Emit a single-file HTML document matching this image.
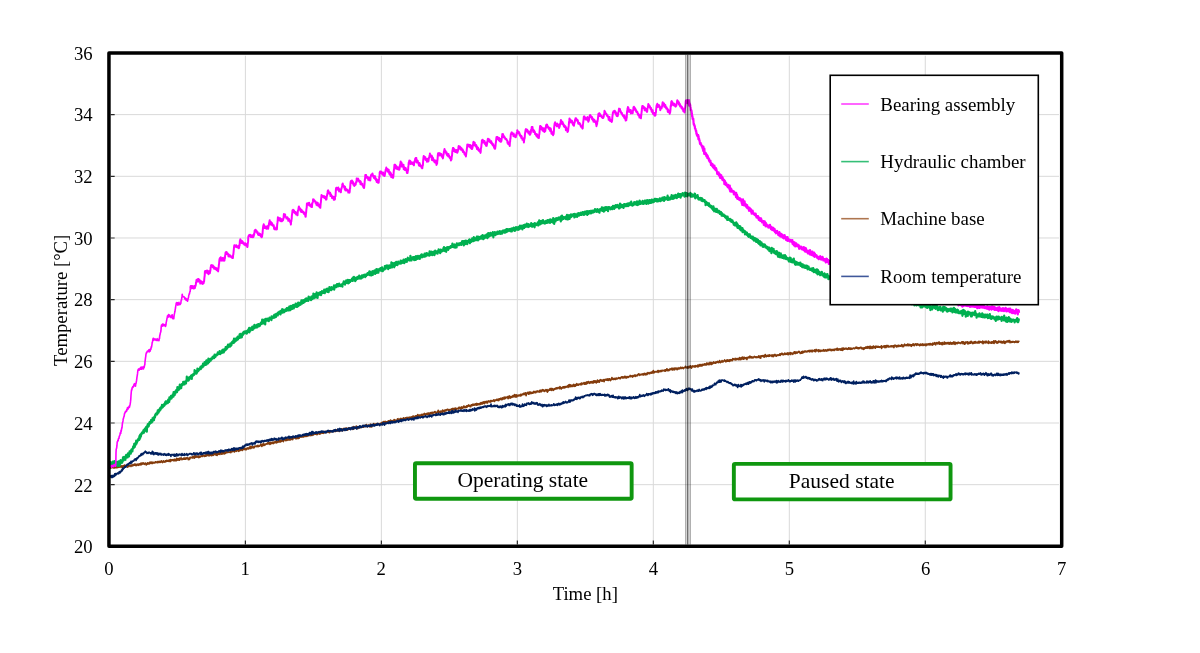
<!DOCTYPE html>
<html lang="en"><head><meta charset="utf-8"><title>Temperature vs time</title>
<style>html,body{margin:0;padding:0;background:#fff;}body{width:1200px;height:653px;overflow:hidden;font-family:'Liberation Serif','Times New Roman',serif;}svg text{font-kerning:normal}</style>
</head><body>
<svg width="1200" height="653" viewBox="0 0 1200 653" style="display:block;will-change:transform">
<rect x="0" y="0" width="1200" height="653" fill="#fff"/>
<path d="M114.7,484.68H1059.0M114.7,423.00H1059.0M114.7,361.33H1059.0M114.7,299.65H1059.0M114.7,237.98H1059.0M114.7,176.30H1059.0M114.7,114.62H1059.0M245.38,55.7V540.6M381.36,55.7V540.6M517.34,55.7V540.6M653.32,55.7V540.6M789.30,55.7V540.6M925.28,55.7V540.6" stroke="#d9d9d9" stroke-width="1.0" fill="none"/>
<path d="M110.7,484.68h4M110.7,423.00h4M110.7,361.33h4M110.7,299.65h4M110.7,237.98h4M110.7,176.30h4M110.7,114.62h4M245.38,544.6v-4M381.36,544.6v-4M517.34,544.6v-4M653.32,544.6v-4M789.30,544.6v-4M925.28,544.6v-4" stroke="#262626" stroke-width="1.2" fill="none"/>
<path d="M110.0,468.9 110.3,467.7 110.6,468.1 110.9,468.0 111.2,467.4 111.5,466.9 111.8,467.4 112.1,467.0 112.4,467.5 112.7,467.6 113.0,467.5 113.3,467.5 113.6,467.8 113.9,467.0 114.2,468.0 114.5,466.6 114.8,467.5 115.1,467.6 115.4,466.9 115.7,466.5 116.0,467.6 116.3,466.9 116.6,467.6 116.9,467.6 117.2,467.1 117.5,467.1 117.8,467.6 118.1,467.2 118.4,466.5 118.7,467.1 119.0,467.2 119.3,467.0 119.6,467.0 119.9,466.7 120.2,466.7 120.5,466.2 120.8,465.9 121.1,467.3 121.4,466.3 121.7,466.7 122.0,465.8 122.3,466.6 122.6,466.1 122.9,468.1 123.2,465.9 123.5,465.9 123.8,466.9 124.1,466.9 124.4,465.2 124.7,466.4 125.0,466.7 125.3,465.5 125.6,466.5 125.9,465.8 126.2,465.5 126.5,465.8 126.8,465.7 127.1,465.2 127.4,467.1 127.7,465.6 128.0,465.4 128.3,466.3 128.6,465.7 128.9,466.5 129.2,465.6 129.5,465.9 129.8,465.7 130.1,465.7 130.4,465.4 130.7,465.5 131.0,466.4 131.3,465.1 131.6,465.1 131.9,465.2 132.2,465.6 132.5,465.5 132.8,465.8 133.1,464.5 133.4,465.3 133.7,465.1 134.0,465.0 134.3,465.2 134.6,464.0 134.9,465.1 135.2,465.0 135.5,464.2 135.8,464.8 136.1,465.7 136.4,464.6 136.7,465.1 137.0,464.6 137.3,464.3 137.6,464.2 137.9,464.4 138.2,465.3 138.5,465.0 138.8,464.1 139.1,465.0 139.4,464.4 139.7,464.0 140.0,464.6 140.3,463.8 140.6,463.5 140.9,464.9 141.2,463.2 141.5,464.5 141.8,463.3 142.1,464.1 142.4,464.0 142.7,463.8 143.0,462.8 143.3,463.9 143.6,463.9 143.9,463.4 144.2,463.8 144.5,464.3 144.8,463.4 145.1,463.9 145.4,463.1 145.7,463.9 146.0,464.0 146.3,464.9 146.6,464.0 146.9,463.7 147.2,464.2 147.5,462.9 147.8,464.0 148.1,463.1 148.4,463.0 148.7,463.9 149.0,463.4 149.3,463.9 149.6,462.4 149.9,463.3 150.2,462.8 150.5,462.9 150.8,462.0 151.1,463.5 151.4,463.0 151.7,462.4 152.0,462.1 152.3,462.4 152.6,463.5 152.9,462.7 153.2,462.5 153.5,462.9 153.8,462.6 154.1,462.7 154.4,462.9 154.7,462.7 155.0,462.9 155.3,461.8 155.6,462.4 155.9,462.2 156.2,462.4 156.5,462.3 156.8,461.9 157.1,462.0 157.4,462.7 157.7,461.8 158.0,461.4 158.3,462.4 158.6,462.5 158.9,461.8 159.2,462.0 159.5,461.4 159.8,461.7 160.1,462.4 160.4,462.2 160.7,461.8 161.0,461.6 161.3,460.8 161.6,461.8 161.9,461.8 162.2,462.1 162.5,462.6 162.8,461.7 163.1,461.9 163.4,460.8 163.7,462.0 164.0,461.8 164.3,462.0 164.6,461.6 164.9,461.4 165.2,461.9 165.5,460.8 165.8,461.4 166.1,461.6 166.4,460.6 166.7,460.3 167.0,461.1 167.3,460.9 167.6,461.2 167.9,461.1 168.2,460.4 168.5,460.9 168.8,461.3 169.1,460.4 169.4,460.4 169.7,460.0 170.0,460.9 170.3,461.5 170.6,459.7 170.9,460.8 171.2,460.8 171.5,460.0 171.8,460.1 172.1,459.7 172.4,459.8 172.7,460.2 173.0,460.5 173.3,460.1 173.6,460.5 173.9,460.1 174.2,459.3 174.5,460.7 174.8,460.5 175.1,459.5 175.4,460.7 175.7,460.0 176.0,459.8 176.3,460.7 176.6,458.3 176.9,458.7 177.2,459.9 177.5,459.4 177.8,459.0 178.1,460.2 178.4,459.6 178.7,458.7 179.0,459.0 179.3,459.7 179.6,460.2 179.9,458.1 180.2,459.3 180.5,458.9 180.8,458.1 181.1,458.9 181.4,458.1 181.7,458.7 182.0,459.7 182.3,459.1 182.6,459.2 182.9,459.1 183.2,458.9 183.5,459.2 183.8,458.0 184.1,458.4 184.4,459.0 184.7,458.1 185.0,458.3 185.3,459.1 185.6,459.2 185.9,458.0 186.2,457.9 186.5,458.6 186.8,458.4 187.1,457.8 187.4,458.5 187.7,458.4 188.0,458.1 188.3,459.6 188.6,458.7 188.9,458.4 189.2,458.4 189.5,459.4 189.8,458.4 190.1,457.4 190.4,457.9 190.7,457.7 191.0,457.3 191.3,457.7 191.6,457.7 191.9,457.5 192.2,457.2 192.5,457.9 192.8,456.6 193.1,457.8 193.4,457.3 193.7,457.4 194.0,456.0 194.3,458.1 194.6,456.2 194.9,456.6 195.2,457.4 195.5,456.7 195.8,456.8 196.1,455.7 196.4,456.7 196.7,457.0 197.0,457.2 197.3,456.6 197.6,456.8 197.9,456.9 198.2,456.3 198.5,456.2 198.8,457.6 199.1,456.1 199.4,457.1 199.7,456.5 200.0,457.2 200.3,456.0 200.6,456.6 200.9,456.4 201.2,456.1 201.5,456.3 201.8,455.7 202.1,456.0 202.4,455.8 202.7,456.4 203.0,455.9 203.3,455.2 203.6,455.7 203.9,455.8 204.2,455.3 204.5,456.4 204.8,455.9 205.1,456.1 205.4,455.2 205.7,455.4 206.0,456.1 206.3,454.7 206.6,455.6 206.9,455.5 207.2,455.1 207.5,455.4 207.8,454.7 208.1,455.4 208.4,454.5 208.7,454.5 209.0,455.8 209.3,454.7 209.6,453.9 209.9,455.5 210.2,454.5 210.5,453.0 210.8,454.8 211.1,455.3 211.4,454.9 211.7,455.6 212.0,454.6 212.3,454.9 212.6,454.1 212.9,454.6 213.2,455.3 213.5,454.7 213.8,454.5 214.1,453.3 214.4,454.1 214.7,453.6 215.0,454.6 215.3,453.8 215.6,454.3 215.9,453.6 216.2,455.1 216.5,453.4 216.8,454.0 217.1,455.3 217.4,454.0 217.7,453.4 218.0,454.1 218.3,454.3 218.6,454.2 218.9,452.6 219.2,453.7 219.5,452.4 219.8,454.5 220.1,453.5 220.4,453.2 220.7,453.7 221.0,453.6 221.3,452.7 221.6,454.1 221.9,453.1 222.2,452.2 222.5,453.8 222.8,453.9 223.1,453.7 223.4,453.3 223.7,452.4 224.0,453.4 224.3,453.8 224.6,453.2 224.9,453.6 225.2,452.3 225.5,453.2 225.8,453.1 226.1,451.7 226.4,451.6 226.7,452.1 227.0,452.4 227.3,452.6 227.6,452.2 227.9,452.2 228.2,452.1 228.5,452.2 228.8,452.4 229.1,452.3 229.4,452.0 229.7,452.1 230.0,451.7 230.3,452.3 230.6,451.5 230.9,452.6 231.2,451.7 231.5,451.8 231.8,451.2 232.1,451.4 232.4,451.6 232.7,451.4 233.0,451.0 233.3,450.7 233.6,451.3 233.9,451.3 234.2,451.5 234.5,451.8 234.8,450.9 235.1,449.9 235.4,450.9 235.7,449.9 236.0,450.1 236.3,451.3 236.6,451.0 236.9,450.3 237.2,450.3 237.5,450.5 237.8,449.5 238.1,450.7 238.4,450.2 238.7,451.3 239.0,449.7 239.3,450.7 239.6,449.7 239.9,450.6 240.2,449.5 240.5,450.3 240.8,449.6 241.1,449.4 241.4,449.7 241.7,449.9 242.0,449.8 242.3,450.4 242.6,449.9 242.9,448.0 243.2,449.1 243.5,448.2 243.8,449.0 244.1,449.5 244.4,448.4 244.7,448.4 245.0,449.0 245.3,448.7 245.6,449.7 245.9,448.9 246.2,448.9 246.5,449.5 246.8,448.3 247.1,448.5 247.4,447.9 247.7,448.5 248.0,448.8 248.3,448.9 248.6,448.1 248.9,447.7 249.2,447.6 249.5,447.1 249.8,447.9 250.1,448.5 250.4,446.4 250.7,446.4 251.0,448.3 251.3,446.6 251.6,447.6 251.9,446.6 252.2,447.7 252.5,447.6 252.8,447.2 253.1,447.5 253.4,447.0 253.7,447.2 254.0,447.8 254.3,447.3 254.6,446.3 254.9,446.2 255.2,446.4 255.5,446.4 255.8,446.4 256.1,446.0 256.4,446.6 256.7,446.2 257.0,446.3 257.3,446.1 257.6,446.3 257.9,445.3 258.2,446.7 258.5,446.0 258.8,446.0 259.1,446.0 259.4,446.2 259.7,445.9 260.0,445.6 260.3,445.3 260.6,444.4 260.9,445.4 261.2,445.0 261.5,444.9 261.8,446.3 262.1,444.0 262.4,444.9 262.7,445.5 263.0,445.3 263.3,445.4 263.6,443.9 263.9,444.0 264.2,444.8 264.5,444.3 264.8,445.3 265.1,444.4 265.4,444.3 265.7,444.4 266.0,443.9 266.3,444.1 266.6,443.6 266.9,443.9 267.2,443.6 267.5,443.9 267.8,442.9 268.1,442.8 268.4,443.8 268.7,443.6 269.0,442.9 269.3,443.2 269.6,442.7 269.9,444.3 270.2,442.3 270.5,444.0 270.8,442.6 271.1,443.2 271.4,442.8 271.7,442.6 272.0,443.3 272.3,443.1 272.6,442.5 272.9,442.1 273.2,443.6 273.5,443.2 273.8,442.4 274.1,442.1 274.4,442.4 274.7,442.2 275.0,442.8 275.3,441.5 275.6,442.0 275.9,441.5 276.2,442.6 276.5,442.8 276.8,441.7 277.1,442.0 277.4,442.4 277.7,441.4 278.0,441.0 278.3,442.0 278.6,441.6 278.9,441.2 279.2,442.0 279.5,441.3 279.8,440.1 280.1,441.2 280.4,440.9 280.7,441.9 281.0,440.8 281.3,440.7 281.6,441.0 281.9,440.8 282.2,439.8 282.5,440.6 282.8,440.3 283.1,441.2 283.4,441.6 283.7,439.7 284.0,439.7 284.3,439.7 284.6,439.7 284.9,439.7 285.2,440.0 285.5,440.5 285.8,439.2 286.1,439.0 286.4,438.7 286.7,440.3 287.0,440.3 287.3,438.7 287.6,438.6 287.9,439.5 288.2,440.0 288.5,439.9 288.8,439.4 289.1,439.6 289.4,439.3 289.7,438.8 290.0,440.1 290.3,439.0 290.6,438.3 290.9,438.6 291.2,438.0 291.5,438.7 291.8,439.3 292.1,437.9 292.4,439.2 292.7,439.6 293.0,438.6 293.3,437.8 293.6,437.9 293.9,438.1 294.2,437.5 294.5,437.5 294.8,437.9 295.1,437.9 295.4,438.3 295.7,437.3 296.0,438.9 296.3,438.4 296.6,438.2 296.9,437.3 297.2,438.5 297.5,437.4 297.8,438.5 298.1,438.0 298.4,436.9 298.7,437.1 299.0,438.3 299.3,437.7 299.6,437.0 299.9,437.2 300.2,437.1 300.5,436.5 300.8,436.8 301.1,436.5 301.4,436.5 301.7,437.0 302.0,436.1 302.3,437.0 302.6,436.6 302.9,436.9 303.2,436.9 303.5,437.0 303.8,436.6 304.1,436.6 304.4,436.1 304.7,436.4 305.0,435.5 305.3,435.8 305.6,436.3 305.9,435.8 306.2,436.0 306.5,435.1 306.8,436.4 307.1,435.3 307.4,435.7 307.7,435.4 308.0,435.9 308.3,435.1 308.6,434.7 308.9,434.2 309.2,435.0 309.5,434.4 309.8,435.3 310.1,435.7 310.4,433.7 310.7,434.1 311.0,434.9 311.3,435.4 311.6,434.8 311.9,434.8 312.2,434.8 312.5,434.8 312.8,435.3 313.1,434.7 313.4,433.6 313.7,434.0 314.0,434.3 314.3,433.7 314.6,433.9 314.9,433.7 315.2,433.6 315.5,434.2 315.8,433.6 316.1,433.2 316.4,433.3 316.7,433.7 317.0,434.7 317.3,433.7 317.6,434.3 317.9,433.7 318.2,432.2 318.5,433.5 318.8,432.8 319.1,432.5 319.4,432.6 319.7,434.1 320.0,432.2 320.3,432.7 320.6,433.6 320.9,433.3 321.2,431.9 321.5,432.7 321.8,432.5 322.1,432.6 322.4,433.1 322.7,432.3 323.0,432.4 323.3,433.3 323.6,431.5 323.9,432.2 324.2,432.6 324.5,431.6 324.8,431.9 325.1,431.5 325.4,432.3 325.7,431.8 326.0,432.5 326.3,432.6 326.6,432.0 326.9,431.7 327.2,432.0 327.5,431.9 327.8,431.2 328.1,432.4 328.4,431.9 328.7,432.1 329.0,430.9 329.3,432.1 329.6,432.7 329.9,431.8 330.2,430.7 330.5,431.4 330.8,431.3 331.1,431.5 331.4,431.2 331.7,431.5 332.0,431.0 332.3,431.3 332.6,430.7 332.9,431.1 333.2,431.6 333.5,430.7 333.8,431.3 334.1,430.4 334.4,430.7 334.7,430.7 335.0,431.5 335.3,430.3 335.6,431.4 335.9,429.9 336.2,430.5 336.5,431.1 336.8,430.9 337.1,429.9 337.4,429.8 337.7,430.9 338.0,429.7 338.3,430.6 338.6,430.0 338.9,430.2 339.2,431.4 339.5,431.0 339.8,430.5 340.1,429.3 340.4,430.2 340.7,430.0 341.0,429.8 341.3,430.6 341.6,428.9 341.9,429.9 342.2,429.8 342.5,429.3 342.8,430.6 343.1,428.9 343.4,429.6 343.7,429.5 344.0,428.3 344.3,428.6 344.6,428.8 344.9,429.7 345.2,429.8 345.5,429.6 345.8,429.3 346.1,427.9 346.4,429.2 346.7,428.8 347.0,429.6 347.3,429.7 347.6,430.1 347.9,429.3 348.2,429.3 348.5,428.2 348.8,428.8 349.1,428.0 349.4,429.1 349.7,428.0 350.0,428.4 350.3,428.1 350.6,428.2 350.9,428.7 351.2,428.1 351.5,428.5 351.8,427.8 352.1,429.0 352.4,427.9 352.7,428.7 353.0,429.3 353.3,426.7 353.6,427.5 353.9,427.9 354.2,428.6 354.5,427.6 354.8,428.1 355.1,427.4 355.4,428.1 355.7,427.0 356.0,428.1 356.3,426.0 356.6,426.5 356.9,428.5 357.2,427.6 357.5,426.9 357.8,428.6 358.1,427.9 358.4,427.9 358.7,427.0 359.0,427.5 359.3,427.4 359.6,426.2 359.9,427.4 360.2,426.9 360.5,427.7 360.8,427.6 361.1,426.5 361.4,426.5 361.7,426.9 362.0,427.1 362.3,426.4 362.6,426.6 362.9,426.9 363.2,426.8 363.5,427.1 363.8,426.6 364.1,425.9 364.4,425.4 364.7,426.7 365.0,426.0 365.3,426.0 365.6,426.0 365.9,425.2 366.2,425.8 366.5,424.6 366.8,425.7 367.1,425.4 367.4,426.8 367.7,426.0 368.0,425.6 368.3,425.8 368.6,426.0 368.9,425.2 369.2,425.4 369.5,425.3 369.8,426.8 370.1,425.4 370.4,424.2 370.7,425.7 371.0,426.7 371.3,424.6 371.6,427.0 371.9,425.0 372.2,425.6 372.5,424.7 372.8,424.8 373.1,424.2 373.4,424.2 373.7,423.6 374.0,425.3 374.3,424.0 374.6,424.8 374.9,424.7 375.2,424.1 375.5,424.5 375.8,424.3 376.1,424.1 376.4,424.3 376.7,424.3 377.0,423.6 377.3,423.4 377.6,423.6 377.9,424.1 378.2,424.7 378.5,424.7 378.8,424.0 379.1,424.3 379.4,423.8 379.7,424.3 380.0,423.7 380.3,423.8 380.6,423.4 380.9,423.5 381.2,424.5 381.5,422.7 381.8,423.3 382.1,422.9 382.4,423.7 382.7,424.1 383.0,422.9 383.3,421.5 383.6,423.3 383.9,423.2 384.2,421.9 384.5,422.6 384.8,422.7 385.1,421.4 385.4,423.0 385.7,422.8 386.0,422.6 386.3,421.8 386.6,422.0 386.9,422.0 387.2,422.5 387.5,421.6 387.8,422.9 388.1,422.3 388.4,420.8 388.7,422.9 389.0,422.0 389.3,421.5 389.6,421.8 389.9,420.7 390.2,421.7 390.5,420.2 390.8,420.9 391.1,422.2 391.4,422.1 391.7,421.1 392.0,420.7 392.3,421.7 392.6,421.1 392.9,421.2 393.2,421.4 393.5,420.4 393.8,421.3 394.1,419.7 394.4,421.6 394.7,419.8 395.0,420.3 395.3,420.2 395.6,420.9 395.9,420.9 396.2,420.6 396.5,420.6 396.8,420.5 397.1,420.2 397.4,419.1 397.7,418.8 398.0,418.7 398.3,419.9 398.6,419.8 398.9,419.8 399.2,419.9 399.5,419.6 399.8,419.1 400.1,418.8 400.4,418.5 400.7,420.2 401.0,419.9 401.3,418.6 401.6,419.1 401.9,419.5 402.2,420.1 402.5,418.8 402.8,419.1 403.1,419.6 403.4,417.9 403.7,418.4 404.0,418.8 404.3,418.3 404.6,419.8 404.9,419.1 405.2,418.6 405.5,417.9 405.8,418.9 406.1,418.7 406.4,418.0 406.7,418.0 407.0,417.3 407.3,418.0 407.6,418.5 407.9,418.5 408.2,418.2 408.5,418.3 408.8,417.4 409.1,417.4 409.4,418.3 409.7,417.8 410.0,417.1 410.3,417.7 410.6,417.8 410.9,417.7 411.2,417.3 411.5,416.9 411.8,417.3 412.1,418.0 412.4,417.1 412.7,416.5 413.0,417.1 413.3,416.1 413.6,416.9 413.9,416.5 414.2,417.1 414.5,416.6 414.8,417.1 415.1,417.7 415.4,416.2 415.7,415.8 416.0,416.5 416.3,416.1 416.6,416.2 416.9,415.7 417.2,416.3 417.5,416.0 417.8,414.6 418.1,415.7 418.4,415.9 418.7,416.3 419.0,415.3 419.3,415.1 419.6,416.1 419.9,415.1 420.2,415.4 420.5,415.6 420.8,415.7 421.1,415.2 421.4,414.5 421.7,415.6 422.0,414.8 422.3,414.7 422.6,416.0 422.9,415.3 423.2,414.2 423.5,414.5 423.8,414.5 424.1,414.2 424.4,413.5 424.7,414.9 425.0,414.9 425.3,414.5 425.6,414.1 425.9,414.4 426.2,414.6 426.5,413.6 426.8,413.9 427.1,413.7 427.4,414.4 427.7,414.1 428.0,413.1 428.3,413.5 428.6,414.7 428.9,413.1 429.2,413.7 429.5,413.2 429.8,414.2 430.1,413.4 430.4,413.2 430.7,412.7 431.0,413.1 431.3,413.7 431.6,413.5 431.9,412.4 432.2,413.9 432.5,412.9 432.8,412.4 433.1,413.0 433.4,412.5 433.7,412.5 434.0,412.4 434.3,412.6 434.6,412.3 434.9,411.6 435.2,412.8 435.5,412.1 435.8,413.1 436.1,412.6 436.4,412.6 436.7,412.3 437.0,412.9 437.3,411.9 437.6,411.5 437.9,412.2 438.2,410.4 438.5,411.7 438.8,411.9 439.1,411.5 439.4,412.4 439.7,412.1 440.0,411.7 440.3,411.3 440.6,412.1 440.9,411.1 441.2,411.2 441.5,411.7 441.8,411.6 442.1,412.4 442.4,411.0 442.7,410.1 443.0,411.4 443.3,411.7 443.6,410.9 443.9,411.8 444.2,411.8 444.5,410.4 444.8,410.5 445.1,410.0 445.4,410.9 445.7,411.0 446.0,410.9 446.3,409.8 446.6,410.0 446.9,409.6 447.2,409.4 447.5,409.5 447.8,409.3 448.1,410.1 448.4,410.4 448.7,410.4 449.0,410.0 449.3,409.6 449.6,409.9 449.9,410.2 450.2,409.6 450.5,409.8 450.8,409.5 451.1,409.4 451.4,409.6 451.7,408.9 452.0,410.1 452.3,408.6 452.6,409.6 452.9,408.6 453.2,410.1 453.5,409.7 453.8,408.7 454.1,408.9 454.4,408.4 454.7,409.0 455.0,409.2 455.3,410.3 455.6,408.1 455.9,409.5 456.2,408.4 456.5,408.8 456.8,409.1 457.1,408.9 457.4,408.7 457.7,408.3 458.0,408.4 458.3,408.4 458.6,408.9 458.9,407.4 459.2,407.9 459.5,407.4 459.8,407.5 460.1,407.5 460.4,408.5 460.7,409.0 461.0,408.5 461.3,407.1 461.6,407.7 461.9,407.0 462.2,407.8 462.5,408.2 462.8,407.7 463.1,407.8 463.4,407.2 463.7,406.1 464.0,406.1 464.3,407.0 464.6,407.3 464.9,407.7 465.2,406.7 465.5,406.9 465.8,406.9 466.1,407.3 466.4,406.6 466.7,405.9 467.0,407.1 467.3,406.6 467.6,406.5 467.9,405.6 468.2,406.2 468.5,405.2 468.8,405.0 469.1,405.9 469.4,405.7 469.7,406.2 470.0,406.6 470.3,405.7 470.6,406.7 470.9,405.3 471.2,406.0 471.5,404.8 471.8,405.5 472.1,405.2 472.4,405.2 472.7,405.5 473.0,404.1 473.3,405.1 473.6,404.6 473.9,405.0 474.2,405.1 474.5,404.6 474.8,404.5 475.1,404.0 475.4,404.9 475.7,404.2 476.0,404.7 476.3,403.6 476.6,405.1 476.9,403.7 477.2,404.9 477.5,403.9 477.8,404.4 478.1,403.9 478.4,404.3 478.7,403.9 479.0,404.5 479.3,404.1 479.6,404.1 479.9,404.5 480.2,403.2 480.5,404.2 480.8,403.5 481.1,402.5 481.4,403.6 481.7,403.1 482.0,404.1 482.3,402.8 482.6,403.1 482.9,403.1 483.2,401.8 483.5,403.1 483.8,402.2 484.1,403.5 484.4,403.6 484.7,402.6 485.0,401.6 485.3,402.5 485.6,402.5 485.9,402.7 486.2,402.1 486.5,401.5 486.8,402.0 487.1,401.5 487.4,403.0 487.7,401.5 488.0,401.5 488.3,401.7 488.6,401.0 488.9,401.4 489.2,401.5 489.5,401.2 489.8,401.3 490.1,402.1 490.4,401.6 490.7,400.5 491.0,400.9 491.3,401.5 491.6,400.7 491.9,401.0 492.2,400.9 492.5,401.1 492.8,400.7 493.1,400.6 493.4,400.2 493.7,400.8 494.0,400.0 494.3,401.4 494.6,400.4 494.9,400.2 495.2,400.7 495.5,400.1 495.8,400.2 496.1,400.0 496.4,399.6 496.7,399.4 497.0,399.5 497.3,400.4 497.6,399.4 497.9,399.4 498.2,399.3 498.5,399.9 498.8,400.5 499.1,398.9 499.4,399.6 499.7,399.3 500.0,399.0 500.3,399.4 500.6,398.3 500.9,399.4 501.2,399.0 501.5,398.3 501.8,399.7 502.1,399.2 502.4,399.3 502.7,397.8 503.0,398.4 503.3,398.2 503.6,398.7 503.9,399.1 504.2,397.2 504.5,398.2 504.8,398.0 505.1,398.6 505.4,398.0 505.7,397.2 506.0,397.7 506.3,397.2 506.6,397.3 506.9,397.7 507.2,397.3 507.5,397.7 507.8,396.6 508.1,398.7 508.4,398.0 508.7,397.7 509.0,396.5 509.3,396.0 509.6,396.6 509.9,396.9 510.2,398.2 510.5,397.6 510.8,396.5 511.1,397.4 511.4,397.4 511.7,396.7 512.0,397.3 512.3,396.7 512.6,396.1 512.9,395.7 513.2,396.3 513.5,396.8 513.8,395.5 514.1,395.3 514.4,396.4 514.7,394.5 515.0,397.0 515.3,395.7 515.6,396.2 515.9,396.8 516.2,394.9 516.5,395.1 516.8,396.8 517.1,395.4 517.4,395.4 517.7,395.5 518.0,395.9 518.3,396.0 518.6,395.3 518.9,395.0 519.2,395.1 519.5,395.2 519.8,395.7 520.1,395.0 520.4,395.9 520.7,394.3 521.0,395.0 521.3,395.6 521.6,395.3 521.9,394.7 522.2,394.0 522.5,394.0 522.8,394.3 523.1,394.5 523.4,394.1 523.7,393.4 524.0,393.7 524.3,394.4 524.6,394.5 524.9,393.2 525.2,393.7 525.5,392.9 525.8,393.5 526.1,395.7 526.4,393.7 526.7,393.4 527.0,393.2 527.3,392.8 527.6,392.4 527.9,393.4 528.2,393.2 528.5,394.1 528.8,392.3 529.1,393.4 529.4,393.8 529.7,392.0 530.0,393.4 530.3,392.1 530.6,393.2 530.9,393.6 531.2,392.8 531.5,392.9 531.8,392.3 532.1,392.8 532.4,393.2 532.7,392.4 533.0,392.4 533.3,392.6 533.6,392.8 533.9,391.4 534.2,392.3 534.5,391.8 534.8,392.4 535.1,392.7 535.4,392.2 535.7,392.7 536.0,391.4 536.3,391.7 536.6,391.3 536.9,391.8 537.2,391.8 537.5,391.6 537.8,391.0 538.1,391.6 538.4,391.3 538.7,391.8 539.0,391.3 539.3,392.0 539.6,391.5 539.9,390.3 540.2,391.1 540.5,390.4 540.8,391.7 541.1,391.9 541.4,391.0 541.7,391.2 542.0,390.2 542.3,389.7 542.6,390.5 542.9,390.7 543.2,389.9 543.5,390.8 543.8,390.8 544.1,391.0 544.4,391.4 544.7,390.9 545.0,390.2 545.3,390.5 545.6,390.7 545.9,389.7 546.2,391.0 546.5,390.7 546.8,390.0 547.1,389.7 547.4,392.1 547.7,390.5 548.0,390.5 548.3,390.9 548.6,390.4 548.9,389.9 549.2,390.1 549.5,389.2 549.8,390.0 550.1,388.7 550.4,389.8 550.7,389.8 551.0,388.6 551.3,390.4 551.6,388.7 551.9,389.8 552.2,388.9 552.5,389.3 552.8,388.7 553.1,390.4 553.4,389.6 553.7,390.0 554.0,389.3 554.3,389.2 554.6,388.9 554.9,388.6 555.2,389.0 555.5,388.7 555.8,388.5 556.1,387.8 556.4,388.3 556.7,388.8 557.0,388.1 557.3,388.5 557.6,388.2 557.9,387.6 558.2,387.7 558.5,387.7 558.8,387.9 559.1,387.8 559.4,388.6 559.7,387.3 560.0,386.7 560.3,388.1 560.6,387.5 560.9,387.6 561.2,389.0 561.5,388.4 561.8,387.8 562.1,388.0 562.4,387.5 562.7,387.9 563.0,386.9 563.3,386.8 563.6,386.9 563.9,388.0 564.2,387.9 564.5,386.7 564.8,387.6 565.1,386.8 565.4,387.4 565.7,386.6 566.0,387.3 566.3,386.6 566.6,386.5 566.9,386.6 567.2,386.6 567.5,386.1 567.8,385.7 568.1,387.3 568.4,386.1 568.7,385.2 569.0,384.9 569.3,384.6 569.6,385.8 569.9,386.8 570.2,385.1 570.5,385.8 570.8,384.9 571.1,386.4 571.4,386.0 571.7,385.9 572.0,386.4 572.3,386.5 572.6,386.1 572.9,385.2 573.2,384.7 573.5,384.8 573.8,384.4 574.1,386.3 574.4,385.1 574.7,385.2 575.0,385.2 575.3,386.2 575.6,384.7 575.9,385.6 576.2,385.1 576.5,384.7 576.8,383.7 577.1,385.2 577.4,384.2 577.7,384.4 578.0,384.7 578.3,384.5 578.6,385.1 578.9,384.0 579.2,384.4 579.5,384.4 579.8,384.2 580.1,384.5 580.4,384.0 580.7,384.7 581.0,383.6 581.3,383.1 581.6,383.9 581.9,384.5 582.2,383.5 582.5,383.4 582.8,383.5 583.1,383.7 583.4,383.5 583.7,383.7 584.0,382.5 584.3,384.2 584.6,383.7 584.9,382.8 585.2,384.0 585.5,383.4 585.8,384.0 586.1,382.4 586.4,384.0 586.7,383.0 587.0,381.8 587.3,383.3 587.6,382.7 587.9,382.2 588.2,382.6 588.5,381.6 588.8,382.9 589.1,382.5 589.4,382.4 589.7,383.3 590.0,382.4 590.3,382.0 590.6,381.8 590.9,382.2 591.2,382.8 591.5,381.9 591.8,381.6 592.1,382.6 592.4,382.1 592.7,382.0 593.0,383.1 593.3,381.2 593.6,382.0 593.9,380.8 594.2,381.6 594.5,382.0 594.8,382.3 595.1,380.9 595.4,382.0 595.7,382.0 596.0,381.4 596.3,382.8 596.6,381.4 596.9,380.9 597.2,381.5 597.5,380.2 597.8,382.1 598.1,381.7 598.4,380.9 598.7,381.4 599.0,381.3 599.3,382.1 599.6,380.6 599.9,380.2 600.2,379.7 600.5,380.7 600.8,379.9 601.1,380.6 601.4,380.9 601.7,380.4 602.0,380.1 602.3,381.2 602.6,380.4 602.9,380.6 603.2,380.9 603.5,379.7 603.8,379.8 604.1,381.7 604.4,380.2 604.7,379.6 605.0,380.0 605.3,379.8 605.6,379.4 605.9,379.8 606.2,380.0 606.5,379.9 606.8,380.2 607.1,378.9 607.4,379.0 607.7,380.2 608.0,379.5 608.3,380.4 608.6,379.8 608.9,378.8 609.2,379.8 609.5,378.9 609.8,379.6 610.1,380.1 610.4,380.5 610.7,379.3 611.0,379.7 611.3,379.4 611.6,379.6 611.9,377.7 612.2,378.9 612.5,379.2 612.8,379.3 613.1,378.5 613.4,379.4 613.7,379.5 614.0,378.9 614.3,378.7 614.6,378.5 614.9,378.8 615.2,379.3 615.5,379.4 615.8,378.3 616.1,378.0 616.4,378.0 616.7,379.0 617.0,378.5 617.3,378.5 617.6,378.6 617.9,378.5 618.2,378.1 618.5,377.6 618.8,377.8 619.1,378.1 619.4,378.3 619.7,377.8 620.0,377.7 620.3,378.7 620.6,377.6 620.9,377.9 621.2,377.6 621.5,377.2 621.8,376.8 622.1,377.3 622.4,377.1 622.7,378.0 623.0,376.9 623.3,377.2 623.6,377.8 623.9,377.3 624.2,377.6 624.5,377.7 624.8,376.3 625.1,377.0 625.4,376.6 625.7,377.8 626.0,377.0 626.3,377.3 626.6,377.9 626.9,376.7 627.2,376.9 627.5,377.0 627.8,376.6 628.1,377.4 628.4,377.1 628.7,377.2 629.0,376.6 629.3,376.3 629.6,376.3 629.9,376.2 630.2,375.5 630.5,376.5 630.8,376.7 631.1,376.2 631.4,375.9 631.7,376.2 632.0,376.2 632.3,376.2 632.6,377.0 632.9,375.5 633.2,376.1 633.5,376.2 633.8,375.8 634.1,375.6 634.4,375.1 634.7,375.3 635.0,376.0 635.3,376.4 635.6,375.1 635.9,375.7 636.2,375.7 636.5,375.9 636.8,375.4 637.1,375.5 637.4,375.7 637.7,374.5 638.0,375.1 638.3,374.1 638.6,373.9 638.9,374.5 639.2,374.1 639.5,375.1 639.8,375.3 640.1,374.6 640.4,374.6 640.7,374.5 641.0,374.4 641.3,374.6 641.6,374.7 641.9,374.2 642.2,374.0 642.5,374.0 642.8,374.7 643.1,374.0 643.4,375.0 643.7,374.0 644.0,374.8 644.3,373.4 644.6,373.6 644.9,374.2 645.2,374.1 645.5,373.7 645.8,374.9 646.1,373.7 646.4,373.8 646.7,373.3 647.0,374.4 647.3,374.0 647.6,373.7 647.9,372.5 648.2,373.5 648.5,373.0 648.8,373.4 649.1,373.7 649.4,372.7 649.7,373.2 650.0,373.5 650.3,373.1 650.6,372.7 650.9,372.3 651.2,372.4 651.5,372.1 651.8,373.2 652.1,372.7 652.4,371.9 652.7,372.5 653.0,371.8 653.3,370.6 653.6,373.0 653.9,372.9 654.2,371.5 654.5,371.8 654.8,372.2 655.1,371.9 655.4,371.6 655.7,371.7 656.0,371.8 656.3,371.6 656.6,371.9 656.9,371.6 657.2,371.3 657.5,371.6 657.8,370.7 658.1,372.3 658.4,370.5 658.7,371.3 659.0,371.5 659.3,371.5 659.6,371.4 659.9,371.8 660.2,370.5 660.5,371.0 660.8,371.1 661.1,370.7 661.4,370.6 661.7,371.5 662.0,370.4 662.3,370.4 662.6,370.5 662.9,370.5 663.2,370.6 663.5,370.4 663.8,370.6 664.1,370.5 664.4,370.6 664.7,371.0 665.0,369.8 665.3,371.1 665.6,369.9 665.9,370.4 666.2,370.1 666.5,369.8 666.8,368.9 667.1,370.7 667.4,369.4 667.7,369.3 668.0,370.3 668.3,369.7 668.6,370.6 668.9,370.5 669.2,369.9 669.5,369.6 669.8,369.9 670.1,368.7 670.4,369.4 670.7,369.4 671.0,369.0 671.3,369.4 671.6,368.4 671.9,369.6 672.2,369.8 672.5,368.4 672.8,369.1 673.1,369.8 673.4,369.2 673.7,368.4 674.0,368.4 674.3,369.3 674.6,369.8 674.9,368.2 675.2,368.8 675.5,368.3 675.8,368.5 676.1,368.8 676.4,368.6 676.7,368.2 677.0,369.7 677.3,368.4 677.6,368.4 677.9,369.0 678.2,368.4 678.5,368.3 678.8,368.8 679.1,367.7 679.4,368.7 679.7,368.8 680.0,368.6 680.3,368.1 680.6,368.1 680.9,367.2 681.2,368.0 681.5,368.2 681.8,368.5 682.1,368.0 682.4,367.7 682.7,367.5 683.0,367.8 683.3,367.9 683.6,368.5 683.9,367.8 684.2,367.5 684.5,367.6 684.8,367.4 685.1,367.5 685.4,366.4 685.7,366.7 686.0,366.9 686.3,367.7 686.6,367.4 686.9,367.5 687.2,368.0 687.5,366.8 687.8,367.9 688.1,367.5 688.4,366.8 688.7,368.0 689.0,366.4 689.3,366.5 689.6,367.0 689.9,367.2 690.2,366.9 690.5,365.8 690.8,366.7 691.1,366.8 691.4,368.2 691.7,367.5 692.0,366.8 692.3,366.1 692.6,366.8 692.9,366.0 693.2,366.6 693.5,366.7 693.8,366.2 694.1,366.5 694.4,366.2 694.7,366.0 695.0,367.1 695.3,366.5 695.6,366.0 695.9,365.7 696.2,366.1 696.5,366.3 696.8,366.4 697.1,366.7 697.4,366.1 697.7,365.2 698.0,366.8 698.3,366.3 698.6,366.1 698.9,366.3 699.2,364.7 699.5,365.3 699.8,365.1 700.1,366.0 700.4,364.7 700.7,365.1 701.0,366.0 701.3,365.5 701.6,364.9 701.9,366.0 702.2,364.3 702.5,365.2 702.8,364.8 703.1,365.1 703.4,364.6 703.7,364.3 704.0,364.8 704.3,363.9 704.6,364.8 704.9,364.3 705.2,364.9 705.5,364.2 705.8,364.0 706.1,364.5 706.4,364.9 706.7,363.1 707.0,364.2 707.3,364.4 707.6,363.3 707.9,363.5 708.2,364.3 708.5,363.4 708.8,363.5 709.1,364.7 709.4,363.2 709.7,363.2 710.0,362.4 710.3,363.0 710.6,362.8 710.9,364.4 711.2,364.0 711.5,362.7 711.8,364.3 712.1,363.7 712.4,363.1 712.7,363.6 713.0,363.3 713.3,362.6 713.6,362.0 713.9,362.4 714.2,362.9 714.5,362.6 714.8,362.4 715.1,363.2 715.4,362.1 715.7,363.1 716.0,362.3 716.3,362.6 716.6,361.9 716.9,362.4 717.2,361.9 717.5,361.4 717.8,362.2 718.1,362.2 718.4,362.6 718.7,362.2 719.0,361.5 719.3,361.6 719.6,360.6 719.9,361.3 720.2,362.5 720.5,362.6 720.8,362.1 721.1,361.8 721.4,361.9 721.7,361.8 722.0,360.6 722.3,361.0 722.6,362.0 722.9,362.0 723.2,361.4 723.5,361.1 723.8,361.0 724.1,360.9 724.4,360.6 724.7,360.0 725.0,361.1 725.3,360.7 725.6,360.8 725.9,361.8 726.2,361.1 726.5,360.4 726.8,361.0 727.1,359.8 727.4,361.2 727.7,360.7 728.0,360.4 728.3,360.8 728.6,361.2 728.9,360.1 729.2,359.8 729.5,361.4 729.8,360.2 730.1,361.0 730.4,359.8 730.7,360.3 731.0,359.7 731.3,360.4 731.6,359.8 731.9,359.6 732.2,360.7 732.5,360.0 732.8,358.7 733.1,359.6 733.4,359.2 733.7,359.0 734.0,359.3 734.3,359.3 734.6,359.6 734.9,359.1 735.2,358.5 735.5,359.1 735.8,359.8 736.1,358.6 736.4,359.6 736.7,359.5 737.0,359.0 737.3,359.3 737.6,358.7 737.9,358.9 738.2,358.5 738.5,359.3 738.8,359.7 739.1,358.6 739.4,359.5 739.7,357.7 740.0,358.3 740.3,358.2 740.6,359.7 740.9,358.4 741.2,359.1 741.5,357.5 741.8,358.6 742.1,358.8 742.4,358.5 742.7,357.0 743.0,358.5 743.3,358.8 743.6,359.1 743.9,358.5 744.2,357.4 744.5,358.1 744.8,358.7 745.1,357.7 745.4,358.4 745.7,357.8 746.0,358.1 746.3,358.4 746.6,357.6 746.9,359.5 747.2,358.0 747.5,358.1 747.8,357.5 748.1,357.9 748.4,357.6 748.7,357.0 749.0,356.9 749.3,357.8 749.6,357.6 749.9,356.2 750.2,356.4 750.5,357.4 750.8,357.5 751.1,357.8 751.4,356.8 751.7,357.7 752.0,357.2 752.3,357.1 752.6,357.2 752.9,357.8 753.2,357.6 753.5,357.7 753.8,356.8 754.1,357.0 754.4,356.5 754.7,356.8 755.0,356.9 755.3,356.8 755.6,357.4 755.9,357.2 756.2,357.4 756.5,357.0 756.8,357.5 757.1,356.9 757.4,357.4 757.7,357.1 758.0,357.2 758.3,356.7 758.6,356.0 758.9,355.9 759.2,357.7 759.5,356.8 759.8,356.8 760.1,356.5 760.4,356.3 760.7,358.1 761.0,355.9 761.3,356.4 761.6,356.4 761.9,355.8 762.2,355.7 762.5,356.0 762.8,356.1 763.1,356.0 763.4,356.7 763.7,355.6 764.0,356.4 764.3,357.0 764.6,356.6 764.9,355.5 765.2,354.5 765.5,356.5 765.8,356.3 766.1,355.7 766.4,356.7 766.7,355.7 767.0,356.0 767.3,355.3 767.6,356.0 767.9,355.6 768.2,355.5 768.5,356.3 768.8,355.8 769.1,354.9 769.4,356.0 769.7,356.1 770.0,355.2 770.3,355.4 770.6,355.6 770.9,355.4 771.2,355.5 771.5,355.8 771.8,355.1 772.1,356.5 772.4,355.0 772.7,355.0 773.0,356.3 773.3,356.5 773.6,355.2 773.9,355.1 774.2,354.6 774.5,355.7 774.8,355.2 775.1,354.6 775.4,355.2 775.7,355.7 776.0,355.3 776.3,356.1 776.6,355.5 776.9,355.1 777.2,354.8 777.5,355.1 777.8,355.4 778.1,355.2 778.4,355.3 778.7,354.8 779.0,355.0 779.3,355.2 779.6,354.5 779.9,353.8 780.2,355.4 780.5,354.8 780.8,354.2 781.1,354.5 781.4,354.2 781.7,353.4 782.0,354.2 782.3,353.5 782.6,354.3 782.9,354.1 783.2,354.8 783.5,354.1 783.8,354.3 784.1,353.9 784.4,353.8 784.7,353.2 785.0,354.5 785.3,354.0 785.6,353.6 785.9,354.0 786.2,353.6 786.5,353.4 786.8,353.9 787.1,354.4 787.4,353.5 787.7,352.9 788.0,353.3 788.3,354.6 788.6,353.1 788.9,354.2 789.2,353.4 789.5,353.9 789.8,353.4 790.1,352.5 790.4,353.1 790.7,354.5 791.0,353.2 791.3,353.6 791.6,353.0 791.9,353.1 792.2,353.3 792.5,353.4 792.8,354.3 793.1,353.0 793.4,352.9 793.7,352.6 794.0,352.2 794.3,352.0 794.6,353.2 794.9,351.8 795.2,353.6 795.5,353.2 795.8,352.6 796.1,352.1 796.4,352.7 796.7,352.6 797.0,353.2 797.3,352.1 797.6,352.3 797.9,352.4 798.2,352.3 798.5,352.1 798.8,351.4 799.1,351.4 799.4,351.9 799.7,352.1 800.0,352.8 800.3,353.4 800.6,353.1 800.9,352.3 801.2,353.1 801.5,352.0 801.8,351.7 802.1,353.2 802.4,351.4 802.7,351.7 803.0,351.7 803.3,352.6 803.6,351.5 803.9,352.2 804.2,351.5 804.5,351.1 804.8,351.8 805.1,351.7 805.4,351.0 805.7,351.1 806.0,351.1 806.3,352.0 806.6,351.7 806.9,351.6 807.2,351.7 807.5,351.2 807.8,351.6 808.1,351.0 808.4,350.6 808.7,350.9 809.0,351.4 809.3,351.3 809.6,351.8 809.9,350.3 810.2,351.1 810.5,351.4 810.8,350.6 811.1,351.3 811.4,350.9 811.7,350.5 812.0,351.7 812.3,350.3 812.6,351.6 812.9,350.8 813.2,350.5 813.5,350.5 813.8,350.5 814.1,350.5 814.4,351.0 814.7,349.9 815.0,351.5 815.3,351.3 815.6,351.6 815.9,350.3 816.2,349.5 816.5,350.4 816.8,350.7 817.1,350.9 817.4,350.4 817.7,350.7 818.0,350.8 818.3,349.8 818.6,351.6 818.9,350.0 819.2,350.8 819.5,351.2 819.8,350.2 820.1,350.6 820.4,351.4 820.7,350.4 821.0,351.1 821.3,350.7 821.6,350.6 821.9,350.9 822.2,350.3 822.5,350.3 822.8,350.9 823.1,350.5 823.4,350.7 823.7,349.7 824.0,350.4 824.3,351.0 824.6,350.8 824.9,350.5 825.2,350.0 825.5,349.9 825.8,350.5 826.1,351.0 826.4,350.2 826.7,350.9 827.0,350.0 827.3,350.8 827.6,349.6 827.9,350.2 828.2,349.5 828.5,350.5 828.8,350.4 829.1,349.6 829.4,349.6 829.7,349.8 830.0,349.2 830.3,349.5 830.6,349.5 830.9,350.4 831.2,350.7 831.5,349.7 831.8,349.7 832.1,350.0 832.4,349.6 832.7,349.7 833.0,350.3 833.3,349.9 833.6,349.7 833.9,349.4 834.2,350.5 834.5,349.4 834.8,349.7 835.1,349.1 835.4,349.3 835.7,349.7 836.0,349.4 836.3,349.9 836.6,349.6 836.9,348.8 837.2,348.3 837.5,350.0 837.8,349.2 838.1,350.2 838.4,349.4 838.7,349.0 839.0,349.7 839.3,349.2 839.6,349.3 839.9,348.8 840.2,349.6 840.5,349.9 840.8,349.0 841.1,350.2 841.4,348.9 841.7,349.3 842.0,348.3 842.3,348.1 842.6,350.3 842.9,349.9 843.2,349.7 843.5,348.1 843.8,349.2 844.1,349.2 844.4,349.0 844.7,349.1 845.0,348.5 845.3,348.8 845.6,348.3 845.9,348.7 846.2,349.1 846.5,348.4 846.8,348.7 847.1,348.6 847.4,348.8 847.7,349.3 848.0,348.9 848.3,348.9 848.6,347.9 848.9,348.5 849.2,349.1 849.5,348.2 849.8,348.4 850.1,348.1 850.4,349.3 850.7,348.3 851.0,348.1 851.3,348.9 851.6,349.1 851.9,348.7 852.2,349.0 852.5,348.6 852.8,348.4 853.1,348.2 853.4,348.1 853.7,348.0 854.0,348.5 854.3,348.3 854.6,348.4 854.9,348.6 855.2,348.2 855.5,347.5 855.8,347.8 856.1,347.6 856.4,347.2 856.7,348.2 857.0,347.5 857.3,347.5 857.6,347.5 857.9,348.6 858.2,347.9 858.5,348.6 858.8,348.0 859.1,347.8 859.4,348.3 859.7,348.3 860.0,348.0 860.3,347.4 860.6,347.7 860.9,347.3 861.2,347.8 861.5,347.9 861.8,348.7 862.1,348.6 862.4,348.2 862.7,348.3 863.0,347.9 863.3,349.3 863.6,348.6 863.9,349.2 864.2,347.9 864.5,347.9 864.8,348.3 865.1,347.8 865.4,347.8 865.7,347.1 866.0,348.1 866.3,347.7 866.6,348.0 866.9,347.5 867.2,346.6 867.5,347.8 867.8,348.2 868.1,346.8 868.4,347.0 868.7,347.3 869.0,347.3 869.3,346.5 869.6,348.4 869.9,348.0 870.2,347.1 870.5,346.4 870.8,347.6 871.1,348.4 871.4,347.8 871.7,347.9 872.0,346.8 872.3,347.4 872.6,346.5 872.9,348.3 873.2,347.5 873.5,346.1 873.8,346.2 874.1,347.4 874.4,347.2 874.7,347.0 875.0,347.5 875.3,348.2 875.6,347.3 875.9,346.1 876.2,347.0 876.5,346.4 876.8,346.6 877.1,347.2 877.4,346.9 877.7,346.4 878.0,347.0 878.3,346.5 878.6,347.2 878.9,346.8 879.2,347.1 879.5,346.8 879.8,347.3 880.1,346.8 880.4,346.9 880.7,346.6 881.0,346.9 881.3,345.9 881.6,348.3 881.9,346.4 882.2,346.8 882.5,346.5 882.8,346.5 883.1,347.0 883.4,346.5 883.7,346.5 884.0,346.0 884.3,346.2 884.6,346.0 884.9,347.6 885.2,345.9 885.5,346.0 885.8,346.7 886.1,347.4 886.4,345.7 886.7,345.7 887.0,346.6 887.3,346.7 887.6,345.8 887.9,345.5 888.2,346.0 888.5,346.9 888.8,346.4 889.1,346.8 889.4,346.4 889.7,346.4 890.0,346.7 890.3,346.3 890.6,346.5 890.9,345.8 891.2,346.0 891.5,346.6 891.8,346.2 892.1,345.9 892.4,346.6 892.7,346.5 893.0,346.2 893.3,345.8 893.6,346.7 893.9,347.5 894.2,345.7 894.5,345.3 894.8,345.7 895.1,345.6 895.4,345.4 895.7,345.4 896.0,346.5 896.3,346.5 896.6,346.8 896.9,346.4 897.2,345.7 897.5,346.5 897.8,345.6 898.1,345.7 898.4,345.3 898.7,346.5 899.0,346.4 899.3,345.6 899.6,345.6 899.9,345.8 900.2,345.9 900.5,346.2 900.8,345.8 901.1,345.9 901.4,344.9 901.7,345.5 902.0,344.7 902.3,346.6 902.6,346.4 902.9,346.0 903.2,346.2 903.5,346.6 903.8,346.1 904.1,344.7 904.4,345.4 904.7,344.2 905.0,345.0 905.3,344.8 905.6,345.4 905.9,345.6 906.2,344.9 906.5,345.2 906.8,345.5 907.1,345.3 907.4,345.2 907.7,344.0 908.0,345.1 908.3,345.7 908.6,345.4 908.9,344.4 909.2,345.1 909.5,345.4 909.8,344.7 910.1,345.5 910.4,344.7 910.7,345.0 911.0,345.1 911.3,346.3 911.6,344.9 911.9,344.8 912.2,345.4 912.5,344.8 912.8,345.1 913.1,343.8 913.4,345.2 913.7,345.0 914.0,344.3 914.3,345.7 914.6,344.8 914.9,344.8 915.2,344.2 915.5,344.0 915.8,344.6 916.1,344.0 916.4,345.1 916.7,345.3 917.0,344.5 917.3,343.9 917.6,344.6 917.9,344.2 918.2,344.9 918.5,344.8 918.8,344.5 919.1,344.8 919.4,345.3 919.7,345.6 920.0,344.4 920.3,345.1 920.6,344.5 920.9,344.1 921.2,345.3 921.5,344.8 921.8,344.7 922.1,344.8 922.4,344.5 922.7,344.0 923.0,345.5 923.3,345.0 923.6,344.6 923.9,345.0 924.2,345.2 924.5,344.4 924.8,344.8 925.1,344.3 925.4,344.8 925.7,344.3 926.0,345.7 926.3,344.2 926.6,344.6 926.9,344.6 927.2,344.1 927.5,344.8 927.8,344.3 928.1,344.1 928.4,344.3 928.7,343.8 929.0,344.9 929.3,344.6 929.6,344.7 929.9,343.5 930.2,344.3 930.5,343.7 930.8,344.2 931.1,344.8 931.4,344.2 931.7,344.0 932.0,344.7 932.3,344.6 932.6,345.0 932.9,343.0 933.2,344.2 933.5,343.7 933.8,343.5 934.1,344.0 934.4,343.3 934.7,342.7 935.0,343.4 935.3,343.7 935.6,344.8 935.9,343.4 936.2,343.2 936.5,342.7 936.8,343.6 937.1,343.6 937.4,343.8 937.7,342.9 938.0,343.3 938.3,342.4 938.6,343.7 938.9,342.8 939.2,342.1 939.5,344.2 939.8,343.9 940.1,343.8 940.4,343.7 940.7,343.0 941.0,344.1 941.3,343.0 941.6,344.5 941.9,343.6 942.2,342.5 942.5,343.9 942.8,344.5 943.1,343.3 943.4,344.0 943.7,343.3 944.0,343.1 944.3,342.0 944.6,344.1 944.9,343.1 945.2,343.6 945.5,342.7 945.8,342.9 946.1,343.9 946.4,343.1 946.7,343.1 947.0,342.6 947.3,343.4 947.6,343.7 947.9,343.0 948.2,343.2 948.5,342.6 948.8,344.0 949.1,342.9 949.4,343.1 949.7,344.1 950.0,343.1 950.3,342.3 950.6,342.7 950.9,343.0 951.2,344.1 951.5,343.3 951.8,343.0 952.1,343.6 952.4,343.8 952.7,342.7 953.0,343.9 953.3,343.6 953.6,343.3 953.9,341.8 954.2,343.2 954.5,343.8 954.8,342.9 955.1,344.3 955.4,343.1 955.7,342.5 956.0,343.3 956.3,343.2 956.6,343.4 956.9,342.9 957.2,343.7 957.5,342.7 957.8,343.0 958.1,342.3 958.4,342.5 958.7,343.0 959.0,342.6 959.3,342.7 959.6,342.8 959.9,343.0 960.2,343.3 960.5,343.3 960.8,343.4 961.1,343.0 961.4,342.6 961.7,342.0 962.0,342.6 962.3,342.4 962.6,341.8 962.9,343.7 963.2,341.8 963.5,343.0 963.8,343.1 964.1,342.7 964.4,344.2 964.7,342.8 965.0,342.3 965.3,343.7 965.6,342.3 965.9,342.0 966.2,342.2 966.5,342.4 966.8,342.7 967.1,342.9 967.4,341.9 967.7,342.9 968.0,343.9 968.3,342.3 968.6,342.6 968.9,343.0 969.2,343.3 969.5,342.3 969.8,342.1 970.1,342.1 970.4,343.2 970.7,343.1 971.0,341.4 971.3,341.4 971.6,341.9 971.9,341.8 972.2,342.8 972.5,342.7 972.8,343.6 973.1,343.0 973.4,342.6 973.7,343.2 974.0,342.0 974.3,341.8 974.6,342.5 974.9,343.0 975.2,341.6 975.5,343.0 975.8,343.0 976.1,342.2 976.4,342.6 976.7,342.3 977.0,342.5 977.3,342.9 977.6,342.0 977.9,343.0 978.2,342.9 978.5,342.9 978.8,341.3 979.1,341.4 979.4,342.8 979.7,342.1 980.0,342.0 980.3,342.0 980.6,341.6 980.9,342.2 981.2,342.0 981.5,342.0 981.8,342.6 982.1,341.7 982.4,342.9 982.7,341.1 983.0,343.7 983.3,341.6 983.6,342.6 983.9,342.8 984.2,342.3 984.5,342.7 984.8,342.2 985.1,341.3 985.4,342.4 985.7,342.9 986.0,341.9 986.3,341.3 986.6,341.9 986.9,342.4 987.2,342.4 987.5,342.8 987.8,342.5 988.1,342.5 988.4,341.1 988.7,343.4 989.0,342.2 989.3,342.6 989.6,342.0 989.9,342.1 990.2,342.2 990.5,343.0 990.8,343.0 991.1,342.5 991.4,343.2 991.7,341.9 992.0,342.4 992.3,341.9 992.6,342.8 992.9,342.1 993.2,342.6 993.5,343.0 993.8,340.9 994.1,343.3 994.4,342.2 994.7,341.9 995.0,341.0 995.3,341.9 995.6,340.8 995.9,342.1 996.2,341.9 996.5,343.0 996.8,341.8 997.1,342.6 997.4,342.6 997.7,343.1 998.0,341.8 998.3,342.4 998.6,341.1 998.9,341.4 999.2,341.8 999.5,341.9 999.8,341.3 1000.1,341.7 1000.4,342.3 1000.7,341.7 1001.0,341.8 1001.3,341.4 1001.6,342.7 1001.9,342.9 1002.2,342.0 1002.5,341.8 1002.8,342.8 1003.1,342.1 1003.4,341.5 1003.7,341.1 1004.0,341.5 1004.3,343.1 1004.6,341.5 1004.9,343.4 1005.2,341.8 1005.5,341.7 1005.8,342.6 1006.1,341.7 1006.4,342.0 1006.7,341.2 1007.0,341.1 1007.3,341.4 1007.6,341.9 1007.9,341.4 1008.2,340.7 1008.5,342.0 1008.8,341.7 1009.1,341.6 1009.4,341.4 1009.7,340.5 1010.0,342.6 1010.3,341.5 1010.6,342.0 1010.9,342.5 1011.2,342.4 1011.5,341.8 1011.8,341.7 1012.1,341.9 1012.4,342.2 1012.7,342.0 1013.0,341.5 1013.3,341.9 1013.6,341.9 1013.9,342.1 1014.2,341.8 1014.5,342.4 1014.8,341.8 1015.1,342.2 1015.4,341.7 1015.7,341.3 1016.0,341.1 1016.3,341.6 1016.6,341.9 1016.9,342.3 1017.2,341.6 1017.5,341.3 1017.8,341.3 1018.1,342.3 1018.4,341.7 1018.7,341.3 1019.0,342.0" fill="none" stroke="#843c0c" stroke-width="1.7" stroke-linejoin="round"/>
<path d="M110.0,476.7 110.3,476.6 110.6,475.9 110.9,477.1 111.2,477.4 111.5,475.6 111.8,476.4 112.1,476.6 112.4,477.4 112.7,475.7 113.0,475.3 113.3,475.8 113.6,476.8 113.9,475.5 114.2,475.5 114.5,476.2 114.8,473.8 115.1,473.7 115.4,475.3 115.7,475.1 116.0,473.7 116.3,474.6 116.6,474.1 116.9,474.1 117.2,473.3 117.5,473.3 117.8,472.9 118.1,473.2 118.4,472.9 118.7,473.8 119.0,473.0 119.3,471.6 119.6,472.5 119.9,472.9 120.2,472.0 120.5,472.3 120.8,471.4 121.1,471.5 121.4,470.3 121.7,471.0 122.0,469.5 122.3,470.7 122.6,468.7 122.9,468.1 123.2,469.2 123.5,468.5 123.8,468.3 124.1,468.2 124.4,467.6 124.7,466.7 125.0,467.0 125.3,466.8 125.6,466.6 125.9,467.1 126.2,465.3 126.5,465.5 126.8,465.5 127.1,464.7 127.4,464.1 127.7,464.2 128.0,464.9 128.3,464.0 128.6,464.3 128.9,463.3 129.2,463.8 129.5,462.9 129.8,462.6 130.1,463.0 130.4,462.8 130.7,463.4 131.0,461.4 131.3,462.5 131.6,462.9 131.9,462.6 132.2,461.4 132.5,461.1 132.8,461.0 133.1,461.2 133.4,461.0 133.7,460.9 134.0,460.8 134.3,459.7 134.6,459.4 134.9,459.2 135.2,458.9 135.5,459.4 135.8,459.4 136.1,460.4 136.4,459.0 136.7,458.5 137.0,459.0 137.3,457.5 137.6,457.9 137.9,458.0 138.2,457.7 138.5,457.2 138.8,456.5 139.1,455.8 139.4,456.1 139.7,455.6 140.0,456.1 140.3,455.4 140.6,455.6 140.9,454.2 141.2,455.4 141.5,454.2 141.8,453.6 142.1,453.5 142.4,453.8 142.7,454.6 143.0,454.3 143.3,453.0 143.6,453.6 143.9,453.3 144.2,452.3 144.5,452.5 144.8,451.8 145.1,452.3 145.4,451.2 145.7,452.3 146.0,452.2 146.3,452.2 146.6,452.2 146.9,453.4 147.2,452.5 147.5,452.9 147.8,453.2 148.1,453.3 148.4,453.1 148.7,452.5 149.0,452.2 149.3,452.4 149.6,452.5 149.9,452.8 150.2,452.8 150.5,453.5 150.8,452.8 151.1,454.0 151.4,453.5 151.7,452.7 152.0,453.5 152.3,451.4 152.6,453.9 152.9,453.3 153.2,453.4 153.5,452.2 153.8,454.6 154.1,453.1 154.4,453.2 154.7,453.9 155.0,453.2 155.3,452.9 155.6,453.8 155.9,452.9 156.2,453.9 156.5,453.6 156.8,454.2 157.1,452.9 157.4,454.4 157.7,453.8 158.0,454.8 158.3,453.4 158.6,454.9 158.9,454.2 159.2,454.3 159.5,453.5 159.8,454.3 160.1,454.4 160.4,453.6 160.7,453.4 161.0,453.7 161.3,455.0 161.6,454.3 161.9,454.8 162.2,454.4 162.5,454.4 162.8,454.5 163.1,454.1 163.4,455.1 163.7,454.5 164.0,454.6 164.3,453.7 164.6,454.7 164.9,454.2 165.2,454.3 165.5,455.2 165.8,454.0 166.1,454.6 166.4,455.1 166.7,455.4 167.0,454.5 167.3,455.0 167.6,455.0 167.9,454.2 168.2,453.6 168.5,453.8 168.8,455.2 169.1,455.0 169.4,454.2 169.7,454.6 170.0,454.7 170.3,454.8 170.6,455.0 170.9,456.3 171.2,454.5 171.5,455.1 171.8,454.6 172.1,454.6 172.4,454.5 172.7,454.9 173.0,454.7 173.3,455.2 173.6,455.1 173.9,454.5 174.2,456.1 174.5,454.3 174.8,455.2 175.1,456.2 175.4,454.6 175.7,455.7 176.0,455.8 176.3,455.1 176.6,453.9 176.9,455.7 177.2,455.0 177.5,454.6 177.8,455.6 178.1,454.5 178.4,455.5 178.7,454.5 179.0,455.1 179.3,454.2 179.6,454.6 179.9,454.3 180.2,454.4 180.5,454.9 180.8,454.7 181.1,454.9 181.4,455.5 181.7,454.6 182.0,453.6 182.3,454.5 182.6,454.7 182.9,455.2 183.2,455.2 183.5,455.2 183.8,454.5 184.1,454.9 184.4,453.7 184.7,455.3 185.0,454.8 185.3,454.8 185.6,454.3 185.9,454.5 186.2,454.1 186.5,454.8 186.8,453.7 187.1,454.9 187.4,454.7 187.7,455.5 188.0,454.3 188.3,454.3 188.6,454.4 188.9,454.3 189.2,454.2 189.5,453.6 189.8,453.6 190.1,453.9 190.4,454.0 190.7,453.5 191.0,453.5 191.3,454.0 191.6,454.5 191.9,454.0 192.2,454.5 192.5,454.6 192.8,454.5 193.1,453.8 193.4,453.8 193.7,452.9 194.0,453.6 194.3,454.2 194.6,453.3 194.9,454.7 195.2,454.7 195.5,453.6 195.8,454.4 196.1,453.0 196.4,453.2 196.7,453.6 197.0,453.8 197.3,453.6 197.6,453.2 197.9,454.8 198.2,453.8 198.5,453.8 198.8,454.0 199.1,453.7 199.4,453.5 199.7,453.2 200.0,452.6 200.3,454.4 200.6,453.0 200.9,452.5 201.2,453.0 201.5,452.5 201.8,454.5 202.1,453.6 202.4,454.2 202.7,454.2 203.0,453.6 203.3,453.6 203.6,452.8 203.9,453.2 204.2,452.8 204.5,453.2 204.8,452.7 205.1,453.8 205.4,453.5 205.7,453.0 206.0,452.1 206.3,453.4 206.6,453.5 206.9,452.9 207.2,452.2 207.5,453.1 207.8,453.5 208.1,451.7 208.4,453.1 208.7,451.7 209.0,452.8 209.3,453.7 209.6,452.7 209.9,452.9 210.2,452.4 210.5,452.6 210.8,453.9 211.1,453.3 211.4,452.3 211.7,452.3 212.0,452.4 212.3,453.7 212.6,452.5 212.9,453.0 213.2,452.1 213.5,451.6 213.8,453.0 214.1,452.2 214.4,451.7 214.7,451.7 215.0,451.7 215.3,451.7 215.6,451.2 215.9,452.7 216.2,452.2 216.5,452.5 216.8,451.7 217.1,452.0 217.4,451.9 217.7,452.4 218.0,452.2 218.3,451.9 218.6,451.3 218.9,450.9 219.2,451.1 219.5,451.2 219.8,451.2 220.1,450.7 220.4,452.3 220.7,451.5 221.0,450.2 221.3,450.6 221.6,450.5 221.9,451.3 222.2,451.7 222.5,450.5 222.8,451.4 223.1,450.8 223.4,451.6 223.7,451.7 224.0,451.0 224.3,451.2 224.6,450.8 224.9,450.5 225.2,450.0 225.5,450.8 225.8,450.5 226.1,450.3 226.4,450.4 226.7,450.3 227.0,449.8 227.3,450.0 227.6,450.9 227.9,450.1 228.2,451.0 228.5,449.5 228.8,449.3 229.1,450.1 229.4,450.4 229.7,449.5 230.0,450.2 230.3,450.3 230.6,450.4 230.9,449.6 231.2,449.6 231.5,448.7 231.8,449.6 232.1,449.7 232.4,450.3 232.7,448.7 233.0,448.9 233.3,448.7 233.6,449.8 233.9,447.8 234.2,448.5 234.5,450.3 234.8,449.4 235.1,448.2 235.4,448.9 235.7,449.4 236.0,449.2 236.3,448.7 236.6,448.3 236.9,449.2 237.2,448.6 237.5,449.0 237.8,448.7 238.1,448.2 238.4,449.2 238.7,448.0 239.0,448.5 239.3,447.8 239.6,448.0 239.9,447.9 240.2,447.6 240.5,448.0 240.8,448.5 241.1,448.7 241.4,448.4 241.7,447.3 242.0,448.2 242.3,447.4 242.6,448.1 242.9,446.2 243.2,447.7 243.5,446.4 243.8,447.2 244.1,446.2 244.4,446.8 244.7,446.0 245.0,445.0 245.3,445.3 245.6,445.6 245.9,445.6 246.2,444.2 246.5,444.7 246.8,444.8 247.1,445.0 247.4,445.1 247.7,444.4 248.0,443.9 248.3,444.8 248.6,444.3 248.9,444.9 249.2,444.0 249.5,444.5 249.8,443.6 250.1,444.1 250.4,443.9 250.7,444.0 251.0,443.2 251.3,443.5 251.6,443.0 251.9,443.4 252.2,443.7 252.5,445.0 252.8,443.2 253.1,443.5 253.4,443.1 253.7,443.6 254.0,443.2 254.3,443.4 254.6,442.9 254.9,444.0 255.2,443.4 255.5,441.6 255.8,442.6 256.1,442.4 256.4,441.1 256.7,441.8 257.0,441.9 257.3,441.7 257.6,442.1 257.9,441.0 258.2,442.4 258.5,442.3 258.8,442.0 259.1,441.6 259.4,441.7 259.7,441.4 260.0,442.2 260.3,441.8 260.6,442.6 260.9,441.2 261.2,442.2 261.5,441.0 261.8,441.2 262.1,440.6 262.4,441.5 262.7,441.1 263.0,441.4 263.3,441.9 263.6,440.9 263.9,441.1 264.2,441.4 264.5,440.8 264.8,440.5 265.1,440.9 265.4,441.0 265.7,441.1 266.0,441.1 266.3,440.2 266.6,440.7 266.9,441.1 267.2,440.1 267.5,440.6 267.8,440.0 268.1,440.4 268.4,441.2 268.7,440.3 269.0,439.6 269.3,440.3 269.6,440.2 269.9,440.6 270.2,439.2 270.5,439.4 270.8,439.9 271.1,439.0 271.4,440.4 271.7,438.6 272.0,439.3 272.3,438.9 272.6,439.3 272.9,440.1 273.2,439.9 273.5,440.0 273.8,439.8 274.1,438.3 274.4,439.6 274.7,438.3 275.0,439.0 275.3,439.1 275.6,438.9 275.9,439.5 276.2,438.7 276.5,440.1 276.8,439.4 277.1,439.7 277.4,439.4 277.7,439.4 278.0,438.9 278.3,440.0 278.6,438.2 278.9,439.0 279.2,438.7 279.5,438.6 279.8,438.8 280.1,438.2 280.4,439.0 280.7,438.9 281.0,438.5 281.3,438.8 281.6,437.8 281.9,437.3 282.2,438.0 282.5,438.1 282.8,439.6 283.1,438.0 283.4,438.7 283.7,438.5 284.0,439.2 284.3,438.0 284.6,438.3 284.9,437.8 285.2,437.4 285.5,437.2 285.8,437.3 286.1,438.5 286.4,437.8 286.7,437.5 287.0,437.6 287.3,437.2 287.6,437.5 287.9,437.4 288.2,437.8 288.5,437.9 288.8,436.4 289.1,437.4 289.4,438.0 289.7,436.6 290.0,437.0 290.3,437.2 290.6,437.7 290.9,437.3 291.2,436.8 291.5,437.2 291.8,437.5 292.1,437.0 292.4,437.8 292.7,437.0 293.0,436.1 293.3,436.2 293.6,436.5 293.9,436.4 294.2,436.9 294.5,436.7 294.8,437.4 295.1,436.8 295.4,437.2 295.7,435.9 296.0,436.0 296.3,436.6 296.6,436.2 296.9,436.5 297.2,436.2 297.5,435.7 297.8,436.9 298.1,436.6 298.4,435.0 298.7,435.5 299.0,435.8 299.3,436.1 299.6,435.6 299.9,434.9 300.2,436.0 300.5,435.4 300.8,436.1 301.1,435.6 301.4,435.9 301.7,435.8 302.0,435.8 302.3,434.9 302.6,435.7 302.9,435.2 303.2,434.4 303.5,434.8 303.8,434.7 304.1,435.1 304.4,435.2 304.7,434.1 305.0,435.1 305.3,434.6 305.6,434.0 305.9,435.0 306.2,434.0 306.5,433.7 306.8,434.8 307.1,434.8 307.4,433.9 307.7,434.8 308.0,434.7 308.3,433.8 308.6,435.1 308.9,433.9 309.2,434.0 309.5,432.5 309.8,434.1 310.1,433.4 310.4,433.9 310.7,432.6 311.0,434.2 311.3,434.3 311.6,434.5 311.9,431.7 312.2,433.6 312.5,433.4 312.8,431.5 313.1,432.7 313.4,433.0 313.7,433.8 314.0,432.5 314.3,433.0 314.6,432.8 314.9,433.0 315.2,432.5 315.5,433.2 315.8,433.2 316.1,431.8 316.4,433.2 316.7,432.1 317.0,432.3 317.3,433.0 317.6,432.4 317.9,432.6 318.2,432.7 318.5,432.6 318.8,431.9 319.1,431.6 319.4,432.5 319.7,432.5 320.0,432.2 320.3,431.9 320.6,432.4 320.9,431.9 321.2,431.1 321.5,432.0 321.8,432.1 322.1,432.2 322.4,431.2 322.7,431.3 323.0,431.9 323.3,431.4 323.6,431.6 323.9,432.1 324.2,431.8 324.5,432.5 324.8,431.7 325.1,432.4 325.4,432.0 325.7,432.8 326.0,431.4 326.3,431.3 326.6,432.1 326.9,431.0 327.2,431.0 327.5,431.4 327.8,431.4 328.1,430.4 328.4,431.3 328.7,431.0 329.0,431.1 329.3,431.2 329.6,431.0 329.9,431.6 330.2,431.3 330.5,430.9 330.8,431.0 331.1,431.5 331.4,431.3 331.7,431.6 332.0,430.8 332.3,430.9 332.6,431.9 332.9,430.8 333.2,431.7 333.5,431.2 333.8,430.5 334.1,429.9 334.4,431.0 334.7,430.2 335.0,430.2 335.3,429.6 335.6,431.2 335.9,430.6 336.2,430.5 336.5,430.7 336.8,430.5 337.1,430.4 337.4,430.6 337.7,430.2 338.0,428.8 338.3,430.7 338.6,430.5 338.9,430.2 339.2,431.0 339.5,429.3 339.8,428.5 340.1,430.9 340.4,430.2 340.7,429.1 341.0,429.7 341.3,430.2 341.6,429.2 341.9,430.1 342.2,431.0 342.5,430.5 342.8,429.7 343.1,429.8 343.4,429.1 343.7,429.6 344.0,429.3 344.3,428.9 344.6,428.7 344.9,430.5 345.2,429.4 345.5,428.7 345.8,429.0 346.1,430.0 346.4,430.1 346.7,428.8 347.0,429.2 347.3,429.5 347.6,428.8 347.9,428.3 348.2,428.4 348.5,428.9 348.8,428.4 349.1,428.0 349.4,428.6 349.7,429.2 350.0,429.0 350.3,428.4 350.6,429.6 350.9,428.0 351.2,428.4 351.5,427.6 351.8,428.7 352.1,428.2 352.4,427.3 352.7,427.7 353.0,429.1 353.3,428.5 353.6,428.1 353.9,428.5 354.2,427.0 354.5,427.4 354.8,427.1 355.1,427.3 355.4,427.5 355.7,428.0 356.0,428.2 356.3,428.1 356.6,429.0 356.9,427.2 357.2,427.5 357.5,427.7 357.8,426.9 358.1,427.2 358.4,427.5 358.7,426.7 359.0,427.5 359.3,427.8 359.6,426.5 359.9,425.8 360.2,427.1 360.5,426.4 360.8,427.0 361.1,426.7 361.4,427.0 361.7,427.4 362.0,427.2 362.3,426.5 362.6,426.0 362.9,425.3 363.2,425.4 363.5,426.1 363.8,426.6 364.1,426.1 364.4,426.1 364.7,425.5 365.0,425.5 365.3,425.4 365.6,426.6 365.9,425.2 366.2,426.6 366.5,425.7 366.8,426.4 367.1,426.2 367.4,426.5 367.7,426.7 368.0,425.6 368.3,425.4 368.6,425.7 368.9,425.4 369.2,426.2 369.5,425.7 369.8,425.8 370.1,426.0 370.4,425.4 370.7,426.3 371.0,424.6 371.3,425.7 371.6,425.8 371.9,425.1 372.2,425.1 372.5,425.9 372.8,425.2 373.1,424.3 373.4,424.5 373.7,425.8 374.0,424.7 374.3,425.9 374.6,425.9 374.9,425.0 375.2,425.4 375.5,424.6 375.8,424.8 376.1,424.6 376.4,425.2 376.7,424.1 377.0,424.8 377.3,424.8 377.6,425.0 377.9,423.5 378.2,423.7 378.5,424.1 378.8,424.4 379.1,424.6 379.4,424.6 379.7,425.6 380.0,424.8 380.3,424.7 380.6,424.0 380.9,424.7 381.2,424.6 381.5,424.5 381.8,424.1 382.1,424.4 382.4,424.9 382.7,423.5 383.0,422.7 383.3,424.3 383.6,424.2 383.9,423.7 384.2,423.5 384.5,425.2 384.8,423.4 385.1,422.9 385.4,423.3 385.7,423.8 386.0,423.1 386.3,423.2 386.6,423.5 386.9,423.1 387.2,423.3 387.5,423.2 387.8,422.5 388.1,423.1 388.4,422.4 388.7,423.5 389.0,422.4 389.3,422.7 389.6,421.8 389.9,422.5 390.2,422.0 390.5,423.5 390.8,422.6 391.1,422.9 391.4,421.5 391.7,421.8 392.0,422.3 392.3,421.6 392.6,422.9 392.9,422.0 393.2,422.3 393.5,422.3 393.8,422.0 394.1,422.5 394.4,421.6 394.7,422.1 395.0,422.5 395.3,421.9 395.6,421.8 395.9,421.5 396.2,421.7 396.5,422.0 396.8,421.4 397.1,420.6 397.4,421.5 397.7,421.3 398.0,421.6 398.3,421.3 398.6,422.1 398.9,420.5 399.2,420.6 399.5,421.4 399.8,420.5 400.1,421.1 400.4,420.9 400.7,419.8 401.0,421.2 401.3,421.5 401.6,420.8 401.9,419.9 402.2,421.0 402.5,420.0 402.8,420.4 403.1,420.7 403.4,419.9 403.7,419.4 404.0,420.2 404.3,420.2 404.6,419.7 404.9,419.7 405.2,420.5 405.5,419.9 405.8,419.7 406.1,419.6 406.4,419.9 406.7,419.8 407.0,419.6 407.3,418.9 407.6,419.4 407.9,419.2 408.2,419.5 408.5,420.1 408.8,419.9 409.1,419.7 409.4,419.3 409.7,419.0 410.0,419.3 410.3,418.8 410.6,418.9 410.9,418.5 411.2,418.9 411.5,418.8 411.8,419.8 412.1,419.1 412.4,418.5 412.7,419.1 413.0,418.3 413.3,419.1 413.6,418.9 413.9,420.0 414.2,417.8 414.5,418.3 414.8,418.2 415.1,418.4 415.4,418.6 415.7,417.6 416.0,417.7 416.3,418.2 416.6,418.5 416.9,417.3 417.2,417.0 417.5,418.4 417.8,418.2 418.1,418.3 418.4,417.1 418.7,417.5 419.0,417.7 419.3,417.7 419.6,417.4 419.9,417.4 420.2,417.9 420.5,417.1 420.8,417.0 421.1,417.0 421.4,416.9 421.7,417.2 422.0,416.9 422.3,416.8 422.6,417.7 422.9,417.1 423.2,416.7 423.5,417.5 423.8,416.5 424.1,416.7 424.4,416.6 424.7,416.3 425.0,416.4 425.3,416.6 425.6,415.7 425.9,416.3 426.2,416.6 426.5,416.5 426.8,416.5 427.1,417.5 427.4,416.6 427.7,416.1 428.0,416.1 428.3,416.1 428.6,416.3 428.9,415.9 429.2,416.8 429.5,415.4 429.8,416.2 430.1,416.1 430.4,415.2 430.7,416.1 431.0,416.0 431.3,415.3 431.6,416.9 431.9,416.0 432.2,415.4 432.5,415.3 432.8,415.1 433.1,415.6 433.4,415.4 433.7,414.6 434.0,414.7 434.3,414.9 434.6,415.0 434.9,415.0 435.2,414.8 435.5,415.4 435.8,415.5 436.1,415.0 436.4,413.8 436.7,414.8 437.0,415.1 437.3,414.8 437.6,414.9 437.9,414.8 438.2,413.9 438.5,413.3 438.8,414.9 439.1,414.2 439.4,414.7 439.7,414.3 440.0,414.3 440.3,415.1 440.6,413.6 440.9,414.2 441.2,413.6 441.5,414.2 441.8,414.3 442.1,414.4 442.4,414.1 442.7,413.2 443.0,414.0 443.3,414.3 443.6,414.3 443.9,414.8 444.2,413.9 444.5,413.0 444.8,413.3 445.1,413.5 445.4,414.0 445.7,412.8 446.0,413.8 446.3,413.6 446.6,412.7 446.9,413.5 447.2,412.7 447.5,413.0 447.8,412.8 448.1,413.0 448.4,412.2 448.7,413.1 449.0,411.6 449.3,412.5 449.6,412.3 449.9,413.4 450.2,412.8 450.5,412.2 450.8,411.9 451.1,412.4 451.4,411.9 451.7,413.4 452.0,410.7 452.3,412.2 452.6,410.8 452.9,412.6 453.2,411.5 453.5,412.8 453.8,411.6 454.1,412.4 454.4,411.9 454.7,412.3 455.0,411.7 455.3,410.0 455.6,411.2 455.9,410.7 456.2,412.0 456.5,411.7 456.8,411.4 457.1,411.6 457.4,411.4 457.7,411.0 458.0,412.3 458.3,411.3 458.6,411.0 458.9,410.3 459.2,410.7 459.5,411.0 459.8,410.9 460.1,410.7 460.4,410.9 460.7,410.3 461.0,410.9 461.3,410.0 461.6,410.4 461.9,410.4 462.2,411.2 462.5,411.0 462.8,410.8 463.1,410.1 463.4,410.5 463.7,411.1 464.0,411.3 464.3,409.8 464.6,410.4 464.9,410.7 465.2,410.8 465.5,410.6 465.8,410.9 466.1,409.7 466.4,411.3 466.7,409.9 467.0,410.5 467.3,410.7 467.6,411.0 467.9,410.9 468.2,410.8 468.5,411.0 468.8,410.2 469.1,410.7 469.4,411.1 469.7,409.8 470.0,409.4 470.3,409.6 470.6,410.9 470.9,410.7 471.2,409.8 471.5,410.1 471.8,410.2 472.1,410.4 472.4,408.8 472.7,409.5 473.0,409.6 473.3,409.8 473.6,409.6 473.9,409.3 474.2,409.6 474.5,408.0 474.8,410.9 475.1,409.6 475.4,409.6 475.7,408.7 476.0,409.2 476.3,410.0 476.6,409.8 476.9,408.7 477.2,408.0 477.5,408.6 477.8,408.3 478.1,408.8 478.4,407.6 478.7,408.1 479.0,408.2 479.3,407.8 479.6,408.5 479.9,407.2 480.2,407.1 480.5,407.5 480.8,408.0 481.1,407.3 481.4,407.1 481.7,407.8 482.0,407.4 482.3,406.9 482.6,407.2 482.9,406.9 483.2,407.3 483.5,407.0 483.8,406.4 484.1,406.5 484.4,406.4 484.7,406.8 485.0,406.7 485.3,406.0 485.6,406.3 485.9,406.5 486.2,406.9 486.5,406.4 486.8,407.3 487.1,406.2 487.4,406.5 487.7,405.9 488.0,405.6 488.3,406.1 488.6,406.3 488.9,406.2 489.2,406.1 489.5,405.8 489.8,405.6 490.1,405.8 490.4,406.2 490.7,406.5 491.0,404.2 491.3,406.3 491.6,406.6 491.9,406.7 492.2,406.3 492.5,406.4 492.8,405.9 493.1,406.1 493.4,406.4 493.7,405.6 494.0,405.8 494.3,406.3 494.6,405.5 494.9,406.3 495.2,405.5 495.5,406.4 495.8,406.4 496.1,406.1 496.4,405.9 496.7,406.2 497.0,405.3 497.3,406.3 497.6,406.6 497.9,407.2 498.2,406.3 498.5,406.5 498.8,407.3 499.1,407.5 499.4,406.3 499.7,407.2 500.0,407.2 500.3,406.9 500.6,406.0 500.9,406.0 501.2,406.8 501.5,407.7 501.8,406.3 502.1,407.2 502.4,407.3 502.7,405.6 503.0,405.9 503.3,406.9 503.6,406.6 503.9,406.2 504.2,405.9 504.5,406.1 504.8,405.3 505.1,406.9 505.4,404.9 505.7,404.4 506.0,405.4 506.3,406.0 506.6,404.8 506.9,405.0 507.2,404.4 507.5,404.8 507.8,404.2 508.1,404.1 508.4,403.8 508.7,404.2 509.0,405.4 509.3,404.3 509.6,404.4 509.9,405.4 510.2,403.8 510.5,403.6 510.8,404.3 511.1,403.4 511.4,404.2 511.7,404.6 512.0,403.4 512.3,403.7 512.6,404.9 512.9,403.5 513.2,403.8 513.5,404.3 513.8,404.1 514.1,403.9 514.4,405.4 514.7,404.3 515.0,404.9 515.3,404.7 515.6,404.9 515.9,404.4 516.2,405.8 516.5,405.2 516.8,406.2 517.1,405.0 517.4,405.5 517.7,406.2 518.0,406.1 518.3,405.8 518.6,406.1 518.9,405.6 519.2,406.4 519.5,404.9 519.8,406.5 520.1,407.1 520.4,406.9 520.7,406.8 521.0,406.1 521.3,406.5 521.6,406.0 521.9,406.1 522.2,406.0 522.5,404.2 522.8,406.4 523.1,406.1 523.4,406.2 523.7,405.1 524.0,405.9 524.3,405.7 524.6,404.1 524.9,404.2 525.2,405.1 525.5,404.5 525.8,404.8 526.1,404.3 526.4,405.3 526.7,403.4 527.0,403.5 527.3,403.6 527.6,403.3 527.9,403.6 528.2,403.8 528.5,403.0 528.8,403.8 529.1,404.2 529.4,404.0 529.7,404.4 530.0,403.9 530.3,403.2 530.6,404.1 530.9,403.5 531.2,404.0 531.5,402.9 531.8,401.9 532.1,402.4 532.4,403.1 532.7,403.3 533.0,402.9 533.3,403.6 533.6,402.5 533.9,402.7 534.2,403.7 534.5,403.2 534.8,403.3 535.1,404.1 535.4,404.0 535.7,403.0 536.0,403.6 536.3,402.7 536.6,403.6 536.9,403.9 537.2,402.9 537.5,404.7 537.8,405.0 538.1,404.3 538.4,404.6 538.7,405.0 539.0,404.2 539.3,404.9 539.6,404.7 539.9,403.7 540.2,404.1 540.5,404.4 540.8,405.4 541.1,404.9 541.4,405.5 541.7,404.8 542.0,404.4 542.3,406.3 542.6,406.7 542.9,405.5 543.2,405.2 543.5,406.0 543.8,404.8 544.1,405.4 544.4,404.7 544.7,405.8 545.0,405.7 545.3,405.4 545.6,405.2 545.9,404.8 546.2,405.2 546.5,406.3 546.8,405.4 547.1,406.3 547.4,405.1 547.7,405.5 548.0,405.3 548.3,405.4 548.6,405.9 548.9,404.4 549.2,405.9 549.5,405.8 549.8,405.4 550.1,405.4 550.4,405.3 550.7,405.7 551.0,405.3 551.3,404.8 551.6,405.3 551.9,405.7 552.2,405.4 552.5,405.2 552.8,405.2 553.1,404.8 553.4,404.8 553.7,403.9 554.0,404.8 554.3,405.4 554.6,404.6 554.9,404.3 555.2,405.2 555.5,404.8 555.8,404.7 556.1,404.8 556.4,404.9 556.7,404.4 557.0,403.9 557.3,405.3 557.6,404.3 557.9,403.8 558.2,404.2 558.5,404.7 558.8,403.3 559.1,404.7 559.4,403.8 559.7,404.9 560.0,404.1 560.3,403.6 560.6,404.3 560.9,404.3 561.2,403.3 561.5,403.6 561.8,403.1 562.1,403.8 562.4,402.5 562.7,403.1 563.0,402.0 563.3,403.3 563.6,401.8 563.9,402.3 564.2,403.0 564.5,402.6 564.8,402.4 565.1,402.1 565.4,402.3 565.7,401.5 566.0,402.6 566.3,402.8 566.6,402.7 566.9,402.2 567.2,402.7 567.5,402.2 567.8,402.4 568.1,402.0 568.4,401.7 568.7,401.2 569.0,400.1 569.3,401.7 569.6,401.2 569.9,402.2 570.2,400.0 570.5,401.4 570.8,400.3 571.1,400.7 571.4,400.1 571.7,400.6 572.0,400.3 572.3,400.6 572.6,400.1 572.9,400.2 573.2,400.5 573.5,399.9 573.8,399.5 574.1,400.1 574.4,399.2 574.7,399.4 575.0,398.9 575.3,398.6 575.6,397.2 575.9,399.1 576.2,398.0 576.5,398.9 576.8,399.3 577.1,397.6 577.4,398.6 577.7,398.0 578.0,398.2 578.3,397.3 578.6,397.8 578.9,397.8 579.2,398.4 579.5,398.7 579.8,397.6 580.1,397.2 580.4,398.5 580.7,397.1 581.0,397.1 581.3,397.1 581.6,397.2 581.9,397.2 582.2,396.4 582.5,396.6 582.8,397.6 583.1,397.3 583.4,396.6 583.7,396.4 584.0,396.1 584.3,396.7 584.6,395.8 584.9,396.0 585.2,395.6 585.5,395.4 585.8,395.7 586.1,395.6 586.4,395.2 586.7,395.4 587.0,395.4 587.3,395.1 587.6,394.9 587.9,395.1 588.2,395.5 588.5,395.6 588.8,395.1 589.1,394.8 589.4,394.8 589.7,395.8 590.0,395.2 590.3,394.2 590.6,394.6 590.9,394.3 591.2,394.4 591.5,393.7 591.8,394.5 592.1,393.8 592.4,394.2 592.7,395.3 593.0,395.0 593.3,394.0 593.6,393.9 593.9,393.9 594.2,393.4 594.5,393.9 594.8,394.3 595.1,393.9 595.4,394.8 595.7,394.4 596.0,394.1 596.3,395.4 596.6,394.8 596.9,394.5 597.2,395.4 597.5,395.2 597.8,394.1 598.1,394.7 598.4,394.3 598.7,393.8 599.0,395.5 599.3,395.3 599.6,393.9 599.9,394.8 600.2,393.7 600.5,395.2 600.8,394.6 601.1,394.5 601.4,395.3 601.7,394.7 602.0,394.6 602.3,395.2 602.6,394.6 602.9,395.2 603.2,394.8 603.5,395.2 603.8,395.2 604.1,395.3 604.4,394.3 604.7,395.9 605.0,394.8 605.3,395.9 605.6,394.7 605.9,394.9 606.2,394.9 606.5,395.7 606.8,394.9 607.1,395.4 607.4,394.4 607.7,395.0 608.0,395.5 608.3,395.4 608.6,394.5 608.9,395.9 609.2,395.2 609.5,396.9 609.8,395.8 610.1,397.2 610.4,396.5 610.7,396.5 611.0,396.1 611.3,396.3 611.6,396.7 611.9,395.5 612.2,397.2 612.5,396.1 612.8,396.7 613.1,395.4 613.4,397.2 613.7,397.4 614.0,397.2 614.3,397.2 614.6,396.9 614.9,397.2 615.2,397.8 615.5,396.9 615.8,397.5 616.1,397.6 616.4,397.1 616.7,397.4 617.0,397.4 617.3,397.1 617.6,398.7 617.9,397.2 618.2,398.4 618.5,398.0 618.8,396.4 619.1,397.6 619.4,398.1 619.7,398.0 620.0,397.1 620.3,397.7 620.6,397.0 620.9,397.1 621.2,397.5 621.5,397.8 621.8,398.6 622.1,397.9 622.4,398.3 622.7,397.1 623.0,397.2 623.3,397.5 623.6,398.8 623.9,397.1 624.2,397.0 624.5,397.8 624.8,398.5 625.1,397.0 625.4,397.8 625.7,397.2 626.0,398.7 626.3,398.3 626.6,398.1 626.9,397.9 627.2,397.8 627.5,398.1 627.8,397.6 628.1,397.5 628.4,397.4 628.7,398.0 629.0,397.6 629.3,398.5 629.6,396.9 629.9,398.3 630.2,398.3 630.5,398.7 630.8,397.9 631.1,397.2 631.4,397.5 631.7,398.6 632.0,397.8 632.3,397.7 632.6,397.6 632.9,397.8 633.2,397.7 633.5,396.9 633.8,397.4 634.1,398.2 634.4,398.4 634.7,397.5 635.0,397.3 635.3,398.2 635.6,397.3 635.9,396.7 636.2,397.3 636.5,397.6 636.8,398.1 637.1,396.9 637.4,397.4 637.7,396.8 638.0,397.6 638.3,397.0 638.6,397.0 638.9,396.2 639.2,396.5 639.5,396.4 639.8,394.6 640.1,396.9 640.4,396.4 640.7,396.2 641.0,396.1 641.3,396.2 641.6,396.3 641.9,395.4 642.2,396.1 642.5,396.0 642.8,395.9 643.1,395.0 643.4,395.7 643.7,395.0 644.0,395.8 644.3,396.3 644.6,396.0 644.9,395.2 645.2,395.1 645.5,395.0 645.8,395.4 646.1,394.8 646.4,394.8 646.7,393.6 647.0,394.5 647.3,394.4 647.6,394.5 647.9,395.4 648.2,393.9 648.5,393.9 648.8,394.8 649.1,393.9 649.4,394.3 649.7,394.4 650.0,394.2 650.3,393.7 650.6,394.5 650.9,394.8 651.2,393.3 651.5,393.7 651.8,394.2 652.1,393.5 652.4,393.0 652.7,393.2 653.0,393.8 653.3,392.8 653.6,393.4 653.9,393.4 654.2,392.7 654.5,393.3 654.8,393.3 655.1,393.4 655.4,393.2 655.7,391.8 656.0,393.0 656.3,392.8 656.6,392.9 656.9,391.8 657.2,392.7 657.5,392.3 657.8,391.4 658.1,392.7 658.4,391.5 658.7,391.2 659.0,391.9 659.3,391.3 659.6,391.7 659.9,391.2 660.2,391.4 660.5,391.6 660.8,391.0 661.1,391.4 661.4,391.2 661.7,390.2 662.0,391.0 662.3,390.7 662.6,390.4 662.9,390.8 663.2,391.0 663.5,390.4 663.8,389.1 664.1,390.1 664.4,389.7 664.7,389.6 665.0,389.9 665.3,389.5 665.6,390.5 665.9,389.8 666.2,389.6 666.5,390.0 666.8,390.1 667.1,390.3 667.4,390.1 667.7,389.8 668.0,389.9 668.3,388.8 668.6,389.2 668.9,390.7 669.2,390.0 669.5,391.3 669.8,391.4 670.1,389.8 670.4,390.8 670.7,392.3 671.0,390.5 671.3,391.2 671.6,391.0 671.9,391.1 672.2,391.2 672.5,391.5 672.8,392.1 673.1,391.3 673.4,392.2 673.7,391.6 674.0,392.4 674.3,392.4 674.6,391.9 674.9,392.5 675.2,392.1 675.5,392.2 675.8,393.3 676.1,391.8 676.4,393.1 676.7,393.3 677.0,392.6 677.3,393.6 677.6,393.5 677.9,392.3 678.2,393.3 678.5,393.2 678.8,392.6 679.1,393.2 679.4,393.3 679.7,392.4 680.0,391.6 680.3,392.8 680.6,392.1 680.9,391.5 681.2,392.1 681.5,390.9 681.8,391.8 682.1,392.7 682.4,390.2 682.7,391.8 683.0,390.9 683.3,391.1 683.6,390.6 683.9,391.3 684.2,390.8 684.5,390.2 684.8,389.8 685.1,390.1 685.4,390.8 685.7,389.4 686.0,390.1 686.3,389.9 686.6,388.5 686.9,390.1 687.2,389.4 687.5,390.5 687.8,390.1 688.1,389.0 688.4,388.9 688.7,388.4 689.0,388.1 689.3,389.3 689.6,388.7 689.9,388.6 690.2,388.7 690.5,389.3 690.8,389.6 691.1,389.2 691.4,389.3 691.7,389.7 692.0,391.0 692.3,389.0 692.6,389.8 692.9,390.9 693.2,390.9 693.5,391.6 693.8,391.7 694.1,392.1 694.4,390.6 694.7,391.3 695.0,390.9 695.3,391.5 695.6,391.1 695.9,391.4 696.2,390.5 696.5,391.0 696.8,390.6 697.1,390.7 697.4,390.5 697.7,390.2 698.0,391.3 698.3,390.8 698.6,391.2 698.9,390.0 699.2,389.4 699.5,390.1 699.8,390.3 700.1,390.7 700.4,390.8 700.7,390.8 701.0,390.9 701.3,390.4 701.6,390.0 701.9,389.4 702.2,390.2 702.5,389.4 702.8,389.2 703.1,389.9 703.4,389.6 703.7,389.8 704.0,388.9 704.3,389.8 704.6,389.3 704.9,388.9 705.2,388.5 705.5,388.2 705.8,388.0 706.1,389.4 706.4,387.7 706.7,388.8 707.0,388.2 707.3,387.9 707.6,387.9 707.9,388.0 708.2,388.4 708.5,388.1 708.8,387.7 709.1,386.9 709.4,386.5 709.7,388.4 710.0,386.8 710.3,386.3 710.6,387.7 710.9,386.1 711.2,387.2 711.5,387.1 711.8,386.6 712.1,386.8 712.4,385.3 712.7,385.2 713.0,385.6 713.3,385.4 713.6,385.2 713.9,385.3 714.2,384.4 714.5,383.4 714.8,384.5 715.1,383.9 715.4,384.3 715.7,384.7 716.0,383.4 716.3,383.4 716.6,382.4 716.9,383.2 717.2,382.6 717.5,382.4 717.8,382.5 718.1,381.2 718.4,382.0 718.7,381.7 719.0,382.2 719.3,380.2 719.6,381.0 719.9,382.1 720.2,380.5 720.5,380.4 720.8,381.6 721.1,381.9 721.4,380.5 721.7,380.0 722.0,380.1 722.3,380.2 722.6,380.0 722.9,380.0 723.2,380.6 723.5,380.6 723.8,380.9 724.1,380.7 724.4,380.1 724.7,381.2 725.0,381.1 725.3,380.7 725.6,381.0 725.9,381.4 726.2,381.4 726.5,381.4 726.8,382.0 727.1,382.3 727.4,381.7 727.7,382.0 728.0,381.6 728.3,382.2 728.6,382.7 728.9,383.1 729.2,382.9 729.5,382.9 729.8,382.7 730.1,383.4 730.4,382.8 730.7,383.6 731.0,383.7 731.3,383.4 731.6,384.2 731.9,384.1 732.2,384.7 732.5,384.2 732.8,384.9 733.1,385.6 733.4,385.0 733.7,385.4 734.0,384.8 734.3,385.1 734.6,384.3 734.9,385.4 735.2,384.9 735.5,385.7 735.8,384.6 736.1,385.3 736.4,385.9 736.7,386.1 737.0,385.0 737.3,385.8 737.6,387.4 737.9,386.4 738.2,386.1 738.5,384.5 738.8,385.5 739.1,386.2 739.4,386.0 739.7,386.1 740.0,386.4 740.3,385.8 740.6,386.2 740.9,384.7 741.2,386.9 741.5,385.3 741.8,385.0 742.1,386.1 742.4,385.5 742.7,385.7 743.0,384.7 743.3,385.1 743.6,385.2 743.9,384.1 744.2,384.5 744.5,384.3 744.8,384.2 745.1,383.8 745.4,383.4 745.7,384.2 746.0,384.0 746.3,384.4 746.6,383.6 746.9,383.1 747.2,382.6 747.5,383.3 747.8,383.0 748.1,384.2 748.4,384.2 748.7,383.7 749.0,382.2 749.3,381.9 749.6,382.4 749.9,381.9 750.2,383.1 750.5,382.3 750.8,381.9 751.1,382.0 751.4,382.6 751.7,381.3 752.0,382.0 752.3,380.8 752.6,381.3 752.9,381.0 753.2,381.4 753.5,381.2 753.8,381.6 754.1,381.2 754.4,380.4 754.7,379.9 755.0,380.1 755.3,380.2 755.6,380.2 755.9,379.9 756.2,380.8 756.5,380.7 756.8,380.0 757.1,379.8 757.4,379.9 757.7,380.0 758.0,380.0 758.3,379.1 758.6,379.8 758.9,379.0 759.2,380.1 759.5,380.4 759.8,379.5 760.1,380.2 760.4,379.8 760.7,379.8 761.0,381.3 761.3,380.8 761.6,380.6 761.9,380.2 762.2,380.7 762.5,380.4 762.8,380.8 763.1,380.1 763.4,380.6 763.7,380.5 764.0,380.0 764.3,381.8 764.6,381.4 764.9,380.5 765.2,380.2 765.5,380.7 765.8,380.7 766.1,380.9 766.4,380.4 766.7,380.9 767.0,381.4 767.3,381.6 767.6,380.3 767.9,381.5 768.2,381.0 768.5,381.0 768.8,381.4 769.1,381.2 769.4,382.0 769.7,382.0 770.0,381.4 770.3,381.2 770.6,382.6 770.9,382.6 771.2,381.8 771.5,381.5 771.8,382.1 772.1,382.4 772.4,381.3 772.7,382.6 773.0,381.5 773.3,382.2 773.6,381.3 773.9,381.6 774.2,381.3 774.5,381.6 774.8,382.1 775.1,381.1 775.4,381.4 775.7,381.8 776.0,381.3 776.3,382.6 776.6,380.7 776.9,382.9 777.2,381.1 777.5,382.0 777.8,382.4 778.1,381.8 778.4,380.7 778.7,381.3 779.0,381.5 779.3,381.7 779.6,382.0 779.9,382.0 780.2,382.2 780.5,380.9 780.8,381.9 781.1,380.4 781.4,381.4 781.7,380.8 782.0,380.4 782.3,381.8 782.6,381.3 782.9,381.9 783.2,380.4 783.5,380.6 783.8,381.2 784.1,380.9 784.4,381.3 784.7,380.9 785.0,381.0 785.3,380.6 785.6,381.9 785.9,381.0 786.2,380.5 786.5,381.5 786.8,381.4 787.1,381.2 787.4,381.2 787.7,380.9 788.0,381.0 788.3,379.8 788.6,380.2 788.9,380.4 789.2,381.2 789.5,381.7 789.8,380.9 790.1,380.8 790.4,381.6 790.7,380.8 791.0,381.3 791.3,381.2 791.6,380.2 791.9,381.1 792.2,381.0 792.5,380.3 792.8,380.3 793.1,380.2 793.4,381.6 793.7,382.0 794.0,381.2 794.3,381.7 794.6,380.0 794.9,381.6 795.2,381.9 795.5,381.6 795.8,380.2 796.1,381.3 796.4,380.6 796.7,381.2 797.0,380.3 797.3,380.6 797.6,380.2 797.9,380.8 798.2,380.4 798.5,381.1 798.8,380.9 799.1,380.6 799.4,380.3 799.7,380.0 800.0,380.0 800.3,380.2 800.6,379.6 800.9,379.4 801.2,378.9 801.5,378.6 801.8,378.0 802.1,377.0 802.4,378.1 802.7,377.9 803.0,376.8 803.3,378.2 803.6,376.4 803.9,377.6 804.2,377.1 804.5,377.2 804.8,377.7 805.1,377.6 805.4,377.1 805.7,376.6 806.0,376.5 806.3,377.4 806.6,378.2 806.9,377.9 807.2,377.5 807.5,377.8 807.8,378.1 808.1,378.8 808.4,377.5 808.7,378.4 809.0,378.3 809.3,377.8 809.6,377.8 809.9,379.2 810.2,378.8 810.5,378.6 810.8,378.9 811.1,379.5 811.4,379.1 811.7,380.0 812.0,379.1 812.3,378.9 812.6,379.4 812.9,379.0 813.2,379.4 813.5,380.4 813.8,380.7 814.1,380.2 814.4,380.0 814.7,379.4 815.0,379.4 815.3,380.2 815.6,380.1 815.9,379.7 816.2,379.8 816.5,380.9 816.8,380.5 817.1,380.0 817.4,380.1 817.7,380.7 818.0,380.1 818.3,380.1 818.6,379.0 818.9,378.9 819.2,378.8 819.5,378.6 819.8,379.8 820.1,380.0 820.4,379.3 820.7,380.0 821.0,380.0 821.3,379.6 821.6,378.8 821.9,380.4 822.2,380.4 822.5,379.2 822.8,380.6 823.1,379.5 823.4,379.0 823.7,379.2 824.0,378.4 824.3,379.2 824.6,378.4 824.9,379.9 825.2,379.5 825.5,378.5 825.8,379.5 826.1,378.2 826.4,379.3 826.7,379.4 827.0,379.2 827.3,378.5 827.6,379.0 827.9,379.0 828.2,379.1 828.5,379.9 828.8,380.0 829.1,379.9 829.4,378.7 829.7,378.6 830.0,379.0 830.3,379.2 830.6,377.9 830.9,378.7 831.2,380.1 831.5,378.4 831.8,378.7 832.1,378.8 832.4,379.5 832.7,379.2 833.0,379.1 833.3,378.5 833.6,379.8 833.9,379.5 834.2,379.2 834.5,379.7 834.8,380.2 835.1,379.0 835.4,379.1 835.7,379.4 836.0,379.6 836.3,378.5 836.6,379.9 836.9,381.0 837.2,380.3 837.5,381.1 837.8,379.0 838.1,380.6 838.4,381.6 838.7,381.8 839.0,380.7 839.3,380.6 839.6,381.3 839.9,380.5 840.2,381.1 840.5,380.4 840.8,381.4 841.1,381.5 841.4,382.4 841.7,381.8 842.0,381.2 842.3,381.6 842.6,381.0 842.9,381.7 843.2,381.6 843.5,382.0 843.8,382.4 844.1,380.8 844.4,382.1 844.7,382.4 845.0,381.3 845.3,383.1 845.6,381.7 845.9,383.5 846.2,382.6 846.5,382.8 846.8,382.4 847.1,382.9 847.4,381.8 847.7,381.9 848.0,381.3 848.3,382.8 848.6,382.1 848.9,383.0 849.2,382.9 849.5,381.8 849.8,383.0 850.1,382.8 850.4,382.8 850.7,383.0 851.0,382.7 851.3,382.8 851.6,383.4 851.9,382.3 852.2,382.2 852.5,382.4 852.8,383.5 853.1,382.7 853.4,384.0 853.7,381.2 854.0,382.6 854.3,382.7 854.6,383.1 854.9,383.7 855.2,382.9 855.5,382.4 855.8,383.5 856.1,383.9 856.4,381.6 856.7,383.3 857.0,383.2 857.3,382.5 857.6,382.7 857.9,383.1 858.2,383.0 858.5,382.8 858.8,382.3 859.1,383.1 859.4,382.5 859.7,382.9 860.0,382.5 860.3,383.0 860.6,383.2 860.9,382.9 861.2,383.1 861.5,382.0 861.8,383.0 862.1,382.9 862.4,382.3 862.7,382.6 863.0,381.1 863.3,382.6 863.6,382.3 863.9,381.3 864.2,382.8 864.5,382.1 864.8,382.6 865.1,382.3 865.4,382.7 865.7,382.4 866.0,382.2 866.3,382.6 866.6,382.8 866.9,381.0 867.2,382.2 867.5,381.9 867.8,381.6 868.1,382.9 868.4,382.7 868.7,381.5 869.0,381.4 869.3,382.5 869.6,381.7 869.9,381.8 870.2,380.9 870.5,381.9 870.8,382.6 871.1,381.7 871.4,381.8 871.7,382.9 872.0,382.4 872.3,382.6 872.6,382.2 872.9,382.5 873.2,380.9 873.5,381.3 873.8,380.8 874.1,383.0 874.4,381.8 874.7,381.6 875.0,381.3 875.3,381.1 875.6,380.1 875.9,382.9 876.2,381.6 876.5,381.7 876.8,380.8 877.1,381.5 877.4,381.8 877.7,381.5 878.0,381.9 878.3,381.0 878.6,381.7 878.9,382.0 879.2,381.8 879.5,381.6 879.8,381.3 880.1,380.8 880.4,381.7 880.7,381.1 881.0,380.8 881.3,381.7 881.6,380.4 881.9,380.9 882.2,381.6 882.5,381.7 882.8,380.9 883.1,381.1 883.4,381.4 883.7,381.0 884.0,380.6 884.3,381.2 884.6,381.0 884.9,380.9 885.2,381.4 885.5,380.8 885.8,380.3 886.1,380.5 886.4,381.4 886.7,379.8 887.0,379.9 887.3,379.5 887.6,380.0 887.9,379.0 888.2,379.8 888.5,379.8 888.8,378.8 889.1,378.7 889.4,378.2 889.7,378.9 890.0,378.2 890.3,378.4 890.6,378.4 890.9,378.2 891.2,379.0 891.5,379.3 891.8,377.2 892.1,377.9 892.4,378.5 892.7,377.8 893.0,378.0 893.3,378.4 893.6,379.1 893.9,379.0 894.2,378.1 894.5,378.4 894.8,378.1 895.1,378.2 895.4,377.6 895.7,377.3 896.0,378.0 896.3,378.8 896.6,378.7 896.9,377.2 897.2,378.1 897.5,377.9 897.8,378.4 898.1,377.6 898.4,378.7 898.7,378.1 899.0,378.5 899.3,378.7 899.6,377.1 899.9,378.1 900.2,379.0 900.5,378.2 900.8,378.7 901.1,378.4 901.4,377.9 901.7,378.3 902.0,378.7 902.3,378.9 902.6,378.9 902.9,377.5 903.2,378.6 903.5,377.3 903.8,378.0 904.1,378.0 904.4,378.4 904.7,378.2 905.0,378.7 905.3,377.7 905.6,378.5 905.9,378.2 906.2,378.0 906.5,377.3 906.8,378.2 907.1,378.0 907.4,378.2 907.7,377.7 908.0,377.5 908.3,377.8 908.6,377.7 908.9,377.8 909.2,378.3 909.5,376.8 909.8,378.1 910.1,375.2 910.4,377.3 910.7,376.2 911.0,377.6 911.3,375.9 911.6,376.8 911.9,375.5 912.2,375.3 912.5,376.2 912.8,376.1 913.1,375.1 913.4,376.7 913.7,375.0 914.0,375.9 914.3,374.3 914.6,374.2 914.9,374.7 915.2,373.9 915.5,374.6 915.8,373.1 916.1,374.2 916.4,373.7 916.7,373.4 917.0,374.0 917.3,373.6 917.6,373.4 917.9,374.1 918.2,373.7 918.5,373.7 918.8,374.2 919.1,373.3 919.4,373.8 919.7,373.0 920.0,373.5 920.3,373.4 920.6,372.8 920.9,372.2 921.2,372.3 921.5,372.5 921.8,373.3 922.1,372.9 922.4,372.8 922.7,373.3 923.0,373.4 923.3,373.8 923.6,372.7 923.9,373.4 924.2,373.5 924.5,372.6 924.8,373.2 925.1,372.7 925.4,373.1 925.7,373.5 926.0,372.4 926.3,372.9 926.6,373.0 926.9,373.5 927.2,373.1 927.5,373.8 927.8,373.2 928.1,373.4 928.4,374.1 928.7,374.0 929.0,373.9 929.3,373.9 929.6,374.5 929.9,374.8 930.2,373.9 930.5,373.7 930.8,373.6 931.1,375.2 931.4,373.8 931.7,373.6 932.0,374.5 932.3,375.0 932.6,373.8 932.9,374.5 933.2,373.8 933.5,374.3 933.8,375.6 934.1,374.9 934.4,374.7 934.7,375.0 935.0,375.2 935.3,375.0 935.6,374.5 935.9,374.6 936.2,376.4 936.5,374.9 936.8,376.1 937.1,375.1 937.4,376.3 937.7,376.0 938.0,375.6 938.3,376.9 938.6,375.4 938.9,375.8 939.2,375.5 939.5,375.7 939.8,376.0 940.1,375.7 940.4,376.1 940.7,377.2 941.0,375.5 941.3,375.8 941.6,376.0 941.9,376.3 942.2,377.2 942.5,377.1 942.8,377.0 943.1,376.9 943.4,378.2 943.7,376.2 944.0,376.3 944.3,376.9 944.6,377.1 944.9,376.8 945.2,376.5 945.5,376.3 945.8,376.8 946.1,376.6 946.4,376.7 946.7,376.4 947.0,377.7 947.3,377.2 947.6,377.9 947.9,376.6 948.2,376.8 948.5,376.6 948.8,376.7 949.1,376.5 949.4,376.5 949.7,375.4 950.0,376.3 950.3,376.7 950.6,375.2 950.9,376.0 951.2,376.4 951.5,376.7 951.8,375.8 952.1,376.0 952.4,376.7 952.7,376.3 953.0,375.2 953.3,375.1 953.6,375.9 953.9,375.3 954.2,374.8 954.5,374.9 954.8,375.1 955.1,374.7 955.4,374.6 955.7,374.5 956.0,373.8 956.3,375.5 956.6,375.1 956.9,375.2 957.2,374.2 957.5,374.3 957.8,374.5 958.1,374.6 958.4,373.1 958.7,374.3 959.0,373.5 959.3,374.0 959.6,373.6 959.9,374.9 960.2,374.3 960.5,374.0 960.8,374.8 961.1,374.0 961.4,373.6 961.7,373.9 962.0,373.8 962.3,374.0 962.6,374.5 962.9,373.9 963.2,374.0 963.5,374.6 963.8,374.2 964.1,374.5 964.4,374.1 964.7,373.3 965.0,373.4 965.3,373.1 965.6,374.6 965.9,374.2 966.2,373.7 966.5,373.4 966.8,374.2 967.1,373.9 967.4,374.2 967.7,373.5 968.0,373.4 968.3,374.9 968.6,373.5 968.9,374.0 969.2,374.7 969.5,373.0 969.8,374.4 970.1,374.0 970.4,373.9 970.7,374.1 971.0,373.3 971.3,372.8 971.6,375.0 971.9,373.8 972.2,374.5 972.5,374.6 972.8,374.2 973.1,374.3 973.4,374.4 973.7,374.9 974.0,374.3 974.3,374.7 974.6,373.8 974.9,373.8 975.2,374.0 975.5,374.2 975.8,374.3 976.1,375.1 976.4,374.5 976.7,374.0 977.0,375.1 977.3,374.2 977.6,374.2 977.9,374.3 978.2,373.8 978.5,373.4 978.8,374.1 979.1,373.8 979.4,373.5 979.7,374.1 980.0,373.9 980.3,373.7 980.6,373.0 980.9,373.9 981.2,375.0 981.5,374.5 981.8,374.6 982.1,374.0 982.4,374.6 982.7,373.7 983.0,373.8 983.3,374.4 983.6,373.3 983.9,374.1 984.2,374.3 984.5,375.1 984.8,373.8 985.1,374.4 985.4,373.8 985.7,373.9 986.0,372.7 986.3,373.7 986.6,374.9 986.9,374.6 987.2,374.4 987.5,375.7 987.8,374.6 988.1,373.7 988.4,374.3 988.7,374.4 989.0,375.3 989.3,374.0 989.6,374.7 989.9,375.0 990.2,374.1 990.5,374.6 990.8,373.4 991.1,374.6 991.4,373.4 991.7,374.4 992.0,375.6 992.3,374.9 992.6,374.7 992.9,374.8 993.2,375.9 993.5,375.1 993.8,375.4 994.1,374.6 994.4,374.6 994.7,374.3 995.0,374.7 995.3,374.5 995.6,375.4 995.9,375.2 996.2,374.8 996.5,374.6 996.8,373.3 997.1,374.6 997.4,375.1 997.7,375.3 998.0,373.3 998.3,373.7 998.6,375.1 998.9,374.4 999.2,374.9 999.5,374.7 999.8,375.3 1000.1,374.0 1000.4,374.7 1000.7,375.5 1001.0,375.1 1001.3,374.5 1001.6,375.2 1001.9,375.1 1002.2,374.4 1002.5,375.2 1002.8,375.2 1003.1,374.7 1003.4,375.2 1003.7,374.0 1004.0,375.0 1004.3,374.4 1004.6,374.0 1004.9,374.1 1005.2,375.0 1005.5,374.0 1005.8,374.0 1006.1,373.8 1006.4,373.6 1006.7,374.5 1007.0,375.2 1007.3,374.6 1007.6,374.1 1007.9,374.1 1008.2,373.5 1008.5,373.3 1008.8,372.9 1009.1,374.2 1009.4,373.2 1009.7,372.9 1010.0,372.9 1010.3,373.3 1010.6,372.8 1010.9,373.0 1011.2,373.1 1011.5,373.6 1011.8,372.2 1012.1,373.0 1012.4,372.4 1012.7,372.5 1013.0,373.5 1013.3,372.9 1013.6,372.3 1013.9,372.8 1014.2,372.5 1014.5,373.1 1014.8,372.2 1015.1,372.7 1015.4,372.3 1015.7,372.4 1016.0,372.3 1016.3,372.1 1016.6,372.5 1016.9,373.1 1017.2,372.4 1017.5,372.6 1017.8,373.2 1018.1,372.7 1018.4,373.8 1018.7,373.8 1019.0,372.3" fill="none" stroke="#002060" stroke-width="1.7" stroke-linejoin="round"/>
<path d="M110.0,463.5 110.2,463.0 110.4,462.0 110.6,464.3 110.8,462.2 111.0,462.4 111.2,463.3 111.4,462.9 111.6,463.9 111.8,464.7 112.0,463.9 112.2,463.8 112.4,463.7 112.6,464.5 112.8,461.7 113.0,464.0 113.2,462.6 113.4,462.3 113.6,463.6 113.8,463.2 114.0,464.3 114.2,464.8 114.4,461.2 114.6,463.6 114.8,465.7 115.0,464.6 115.2,465.2 115.4,463.7 115.6,462.1 115.8,462.4 116.0,464.4 116.2,464.7 116.4,462.9 116.6,463.4 116.8,463.9 117.0,461.8 117.2,463.3 117.4,465.4 117.6,466.0 117.8,463.5 118.0,465.6 118.2,463.1 118.4,462.8 118.6,461.3 118.8,464.6 119.0,463.2 119.2,466.0 119.4,463.8 119.6,463.5 119.8,461.2 120.0,464.6 120.2,462.4 120.4,462.4 120.6,460.1 120.8,463.2 121.0,463.0 121.2,461.1 121.4,461.6 121.6,461.7 121.8,462.1 122.0,461.1 122.2,462.6 122.4,460.3 122.6,459.8 122.8,459.7 123.0,457.3 123.2,459.0 123.4,460.7 123.6,459.8 123.8,458.4 124.0,459.5 124.2,456.8 124.4,458.4 124.6,459.1 124.8,459.1 125.0,457.4 125.2,459.0 125.4,459.8 125.6,457.1 125.8,458.2 126.0,455.6 126.2,454.9 126.4,457.5 126.6,456.7 126.8,456.6 127.0,455.6 127.2,455.7 127.4,456.6 127.6,457.4 127.8,455.1 128.0,453.4 128.2,456.3 128.4,455.3 128.6,455.2 128.8,454.4 129.0,456.5 129.2,453.9 129.4,454.1 129.6,451.3 129.8,452.5 130.0,452.1 130.2,452.5 130.4,452.7 130.6,451.3 130.8,453.7 131.0,450.4 131.2,450.8 131.4,451.2 131.6,449.4 131.8,451.0 132.0,450.8 132.2,449.5 132.4,451.5 132.6,449.2 132.8,449.1 133.0,447.5 133.2,446.4 133.4,447.2 133.6,447.1 133.8,446.6 134.0,447.6 134.2,443.9 134.4,444.9 134.6,443.8 134.8,446.8 135.0,444.4 135.2,444.1 135.4,443.1 135.6,444.9 135.8,443.1 136.0,443.4 136.2,440.7 136.4,443.7 136.6,442.5 136.8,442.4 137.0,442.7 137.2,440.9 137.4,440.6 137.6,441.2 137.8,440.5 138.0,439.5 138.2,439.5 138.4,438.6 138.6,439.6 138.8,439.5 139.0,438.2 139.2,439.9 139.4,436.0 139.6,437.0 139.8,438.8 140.0,436.3 140.2,434.7 140.4,437.6 140.6,436.4 140.8,434.3 141.0,436.1 141.2,433.9 141.4,433.3 141.6,434.2 141.8,433.6 142.0,432.7 142.2,433.1 142.4,432.2 142.6,433.0 142.8,432.7 143.0,433.2 143.2,431.7 143.4,430.4 143.6,430.2 143.8,431.0 144.0,432.7 144.2,431.7 144.4,429.8 144.6,431.2 144.8,428.7 145.0,430.7 145.2,429.0 145.4,429.9 145.6,429.5 145.8,428.3 146.0,428.7 146.2,426.9 146.4,427.7 146.6,428.7 146.8,431.6 147.0,427.7 147.2,426.8 147.4,425.4 147.6,427.3 147.8,424.2 148.0,424.8 148.2,425.8 148.4,423.9 148.6,426.5 148.8,425.8 149.0,423.7 149.2,423.5 149.4,422.4 149.6,422.1 149.8,423.8 150.0,423.7 150.2,423.1 150.4,422.8 150.6,421.6 150.8,422.4 151.0,420.1 151.2,421.4 151.4,422.7 151.6,422.3 151.8,420.2 152.0,420.0 152.2,421.6 152.4,421.8 152.6,418.0 152.8,418.9 153.0,419.3 153.2,420.1 153.4,417.6 153.6,418.9 153.8,417.7 154.0,420.2 154.2,417.9 154.4,417.0 154.6,416.5 154.8,417.7 155.0,417.1 155.2,414.9 155.4,416.0 155.6,414.1 155.8,414.5 156.0,413.6 156.2,413.3 156.4,413.7 156.6,413.1 156.8,414.5 157.0,414.5 157.2,413.1 157.4,411.9 157.6,413.7 157.8,410.4 158.0,410.2 158.2,412.8 158.4,412.4 158.6,412.5 158.8,411.0 159.0,409.6 159.2,410.1 159.4,411.0 159.6,409.3 159.8,409.1 160.0,408.1 160.2,408.1 160.4,410.0 160.6,409.3 160.8,407.4 161.0,407.2 161.2,407.5 161.4,408.4 161.6,406.4 161.8,407.2 162.0,404.8 162.2,405.5 162.4,407.1 162.6,407.4 162.8,405.0 163.0,405.1 163.2,406.6 163.4,405.1 163.6,404.7 163.8,405.6 164.0,405.1 164.2,405.8 164.4,405.3 164.6,403.6 164.8,403.9 165.0,403.8 165.2,402.2 165.4,402.4 165.6,404.3 165.8,401.3 166.0,403.9 166.2,402.9 166.4,402.3 166.6,402.8 166.8,402.6 167.0,403.1 167.2,401.2 167.4,401.2 167.6,401.0 167.8,403.1 168.0,401.9 168.2,399.7 168.4,400.1 168.6,399.5 168.8,400.0 169.0,400.0 169.2,402.0 169.4,397.4 169.6,400.2 169.8,399.3 170.0,397.9 170.2,398.2 170.4,397.6 170.6,398.0 170.8,398.7 171.0,395.8 171.2,398.6 171.4,396.5 171.6,398.3 171.8,396.9 172.0,397.5 172.2,396.5 172.4,396.8 172.6,395.5 172.8,394.3 173.0,395.6 173.2,395.4 173.4,396.6 173.6,392.0 173.8,393.7 174.0,394.8 174.2,392.1 174.4,392.9 174.6,395.2 174.8,394.2 175.0,391.5 175.2,393.8 175.4,393.3 175.6,392.6 175.8,392.0 176.0,391.6 176.2,390.2 176.4,390.3 176.6,391.4 176.8,390.6 177.0,392.2 177.2,389.7 177.4,387.2 177.6,389.2 177.8,389.6 178.0,389.5 178.2,389.0 178.4,387.8 178.6,390.1 178.8,387.6 179.0,388.8 179.2,387.5 179.4,386.4 179.6,388.9 179.8,384.6 180.0,386.1 180.2,387.3 180.4,386.2 180.6,387.2 180.8,386.1 181.0,385.5 181.2,388.1 181.4,385.3 181.6,385.2 181.8,384.0 182.0,384.2 182.2,385.4 182.4,385.1 182.6,384.3 182.8,383.4 183.0,384.7 183.2,381.9 183.4,383.2 183.6,383.1 183.8,382.3 184.0,383.1 184.2,382.1 184.4,381.7 184.6,384.3 184.8,383.0 185.0,383.3 185.2,381.8 185.4,382.6 185.6,382.2 185.8,382.5 186.0,383.5 186.2,380.6 186.4,380.9 186.6,380.4 186.8,376.6 187.0,378.6 187.2,379.9 187.4,380.4 187.6,378.9 187.8,380.6 188.0,380.6 188.2,378.6 188.4,380.3 188.6,380.5 188.8,379.0 189.0,377.3 189.2,379.7 189.4,377.8 189.6,377.4 189.8,377.7 190.0,376.8 190.2,378.4 190.4,377.9 190.6,378.2 190.8,377.3 191.0,375.7 191.2,376.2 191.4,377.1 191.6,375.6 191.8,378.9 192.0,375.4 192.2,374.9 192.4,376.5 192.6,375.9 192.8,374.9 193.0,374.5 193.2,375.1 193.4,375.3 193.6,375.1 193.8,373.8 194.0,374.4 194.2,374.6 194.4,374.3 194.6,370.1 194.8,372.2 195.0,372.2 195.2,372.6 195.4,372.8 195.6,373.4 195.8,372.9 196.0,372.0 196.2,371.9 196.4,373.6 196.6,370.9 196.8,371.7 197.0,372.8 197.2,371.4 197.4,368.7 197.6,371.0 197.8,370.0 198.0,370.1 198.2,371.2 198.4,370.4 198.6,369.4 198.8,370.5 199.0,369.8 199.2,369.3 199.4,369.3 199.6,369.1 199.8,368.3 200.0,367.9 200.2,368.3 200.4,367.1 200.6,366.6 200.8,369.1 201.0,367.3 201.2,367.3 201.4,367.0 201.6,367.0 201.8,366.8 202.0,366.7 202.2,365.6 202.4,367.3 202.6,365.4 202.8,367.0 203.0,363.7 203.2,364.4 203.4,366.4 203.6,365.0 203.8,364.3 204.0,365.3 204.2,363.6 204.4,364.6 204.6,362.0 204.8,363.7 205.0,363.3 205.2,364.4 205.4,364.6 205.6,362.6 205.8,365.0 206.0,362.5 206.2,360.8 206.4,360.3 206.6,364.3 206.8,362.4 207.0,361.6 207.2,361.4 207.4,360.8 207.6,363.3 207.8,361.6 208.0,363.4 208.2,361.1 208.4,358.7 208.6,361.9 208.8,360.5 209.0,360.4 209.2,362.2 209.4,360.1 209.6,361.4 209.8,360.0 210.0,359.1 210.2,360.3 210.4,358.9 210.6,360.7 210.8,360.3 211.0,359.1 211.2,359.6 211.4,359.4 211.6,358.3 211.8,359.4 212.0,358.1 212.2,358.8 212.4,357.0 212.6,357.9 212.8,358.1 213.0,356.7 213.2,356.9 213.4,356.6 213.6,357.8 213.8,356.1 214.0,357.2 214.2,358.2 214.4,356.8 214.6,354.6 214.8,356.3 215.0,357.1 215.2,355.6 215.4,356.9 215.6,356.2 215.8,355.9 216.0,355.0 216.2,354.6 216.4,354.7 216.6,354.9 216.8,355.3 217.0,355.0 217.2,354.1 217.4,354.4 217.6,354.6 217.8,352.3 218.0,353.1 218.2,352.9 218.4,353.4 218.6,353.2 218.8,353.1 219.0,352.3 219.2,353.8 219.4,353.2 219.6,351.1 219.8,352.7 220.0,351.4 220.2,354.2 220.4,351.8 220.6,351.7 220.8,352.1 221.0,351.7 221.2,351.7 221.4,353.2 221.6,351.7 221.8,352.2 222.0,352.4 222.2,350.0 222.4,352.7 222.6,351.5 222.8,351.7 223.0,349.6 223.2,351.2 223.4,350.6 223.6,349.5 223.8,352.3 224.0,350.4 224.2,349.4 224.4,349.7 224.6,350.3 224.8,350.4 225.0,349.6 225.2,350.2 225.4,350.3 225.6,347.2 225.8,347.9 226.0,347.2 226.2,348.2 226.4,349.4 226.6,348.4 226.8,346.5 227.0,347.1 227.2,348.3 227.4,346.5 227.6,346.8 227.8,347.0 228.0,344.6 228.2,347.2 228.4,346.6 228.6,346.6 228.8,344.8 229.0,344.8 229.2,344.8 229.4,345.6 229.6,345.2 229.8,345.1 230.0,346.7 230.2,346.0 230.4,343.6 230.6,343.5 230.8,345.9 231.0,343.5 231.2,345.1 231.4,345.2 231.6,342.7 231.8,342.9 232.0,343.0 232.2,341.9 232.4,341.6 232.6,342.0 232.8,343.1 233.0,341.6 233.2,341.7 233.4,341.2 233.6,340.1 233.8,342.9 234.0,338.7 234.2,340.3 234.4,341.4 234.6,339.2 234.8,341.2 235.0,341.7 235.2,339.3 235.4,340.2 235.6,338.7 235.8,340.2 236.0,339.6 236.2,339.6 236.4,340.6 236.6,339.5 236.8,340.3 237.0,339.4 237.2,337.3 237.4,338.7 237.6,338.8 237.8,336.6 238.0,339.3 238.2,337.8 238.4,338.0 238.6,336.5 238.8,337.4 239.0,337.5 239.2,336.6 239.4,336.9 239.6,334.4 239.8,338.0 240.0,335.2 240.2,333.9 240.4,335.0 240.6,335.0 240.8,336.3 241.0,334.6 241.2,335.7 241.4,334.3 241.6,337.5 241.8,335.6 242.0,336.9 242.2,333.6 242.4,335.2 242.6,333.4 242.8,334.9 243.0,334.8 243.2,332.3 243.4,332.6 243.6,332.4 243.8,331.9 244.0,332.6 244.2,332.2 244.4,331.6 244.6,333.1 244.8,333.4 245.0,331.3 245.2,332.0 245.4,332.4 245.6,332.0 245.8,331.4 246.0,332.9 246.2,332.8 246.4,332.5 246.6,331.4 246.8,333.6 247.0,333.2 247.2,330.8 247.4,331.0 247.6,332.3 247.8,330.0 248.0,331.2 248.2,330.7 248.4,329.8 248.6,330.1 248.8,328.6 249.0,329.6 249.2,327.9 249.4,332.3 249.6,331.4 249.8,331.0 250.0,329.9 250.2,330.5 250.4,330.7 250.6,330.3 250.8,330.1 251.0,328.0 251.2,329.3 251.4,328.2 251.6,327.4 251.8,327.3 252.0,328.9 252.2,329.4 252.4,326.7 252.6,329.9 252.8,329.5 253.0,327.4 253.2,327.2 253.4,327.5 253.6,328.6 253.8,327.0 254.0,326.1 254.2,327.5 254.4,324.9 254.6,327.1 254.8,328.1 255.0,327.1 255.2,327.5 255.4,327.0 255.6,327.2 255.8,326.5 256.0,325.3 256.2,325.9 256.4,325.9 256.6,327.2 256.8,327.5 257.0,326.1 257.2,324.7 257.4,324.7 257.6,325.1 257.8,326.7 258.0,325.5 258.2,324.9 258.4,324.1 258.6,325.7 258.8,325.0 259.0,324.5 259.2,324.6 259.4,326.1 259.6,324.1 259.8,325.9 260.0,325.3 260.2,323.9 260.4,324.7 260.6,323.5 260.8,322.7 261.0,323.2 261.2,322.4 261.4,323.8 261.6,323.1 261.8,323.6 262.0,323.8 262.2,319.5 262.4,323.0 262.6,320.6 262.8,322.6 263.0,321.4 263.2,322.3 263.4,323.5 263.6,320.2 263.8,322.1 264.0,321.7 264.2,319.6 264.4,322.2 264.6,321.4 264.8,320.8 265.0,320.4 265.2,324.5 265.4,320.5 265.6,318.9 265.8,319.7 266.0,320.2 266.2,320.1 266.4,320.3 266.6,319.2 266.8,320.7 267.0,319.5 267.2,318.5 267.4,319.0 267.6,319.3 267.8,320.5 268.0,320.0 268.2,319.0 268.4,319.3 268.6,319.4 268.8,321.2 269.0,318.3 269.2,319.3 269.4,319.5 269.6,317.6 269.8,318.7 270.0,318.5 270.2,317.8 270.4,318.8 270.6,319.1 270.8,319.1 271.0,317.6 271.2,317.9 271.4,320.1 271.6,316.3 271.8,317.6 272.0,318.2 272.2,317.3 272.4,317.7 272.6,317.1 272.8,317.6 273.0,318.1 273.2,316.4 273.4,316.7 273.6,316.3 273.8,315.8 274.0,316.1 274.2,314.9 274.4,316.7 274.6,317.6 274.8,317.5 275.0,317.0 275.2,314.5 275.4,317.0 275.6,314.5 275.8,315.1 276.0,317.0 276.2,313.8 276.4,315.8 276.6,315.1 276.8,314.5 277.0,313.6 277.2,314.9 277.4,313.9 277.6,315.3 277.8,315.4 278.0,312.6 278.2,313.4 278.4,313.5 278.6,312.5 278.8,312.4 279.0,313.6 279.2,313.2 279.4,311.6 279.6,312.6 279.8,313.7 280.0,311.7 280.2,311.9 280.4,314.5 280.6,314.1 280.8,310.9 281.0,311.1 281.2,312.8 281.4,311.0 281.6,311.9 281.8,311.6 282.0,312.6 282.2,309.2 282.4,309.5 282.6,310.4 282.8,312.7 283.0,311.3 283.2,309.6 283.4,311.8 283.6,312.0 283.8,310.9 284.0,310.7 284.2,311.4 284.4,312.1 284.6,310.9 284.8,311.2 285.0,310.5 285.2,310.0 285.4,309.4 285.6,310.5 285.8,309.8 286.0,309.8 286.2,311.0 286.4,310.4 286.6,310.7 286.8,308.0 287.0,310.2 287.2,308.9 287.4,308.5 287.6,308.4 287.8,310.5 288.0,310.0 288.2,308.3 288.4,307.7 288.6,308.9 288.8,308.3 289.0,310.4 289.2,307.0 289.4,306.5 289.6,308.1 289.8,308.3 290.0,308.3 290.2,308.9 290.4,310.2 290.6,307.6 290.8,307.2 291.0,305.9 291.2,307.9 291.4,308.5 291.6,307.2 291.8,308.6 292.0,307.3 292.2,308.8 292.4,307.4 292.6,305.9 292.8,306.2 293.0,305.2 293.2,304.9 293.4,306.9 293.6,307.4 293.8,308.5 294.0,306.3 294.2,306.0 294.4,305.0 294.6,307.1 294.8,306.4 295.0,305.2 295.2,306.5 295.4,306.3 295.6,303.6 295.8,306.3 296.0,305.6 296.2,304.9 296.4,304.8 296.6,307.0 296.8,306.7 297.0,306.9 297.2,303.6 297.4,304.1 297.6,305.6 297.8,303.3 298.0,303.7 298.2,302.5 298.4,306.2 298.6,305.3 298.8,304.6 299.0,304.2 299.2,303.4 299.4,303.4 299.6,304.3 299.8,302.8 300.0,304.8 300.2,302.9 300.4,302.4 300.6,304.6 300.8,303.0 301.0,303.6 301.2,302.5 301.4,300.4 301.6,303.3 301.8,301.2 302.0,303.7 302.2,300.8 302.4,300.3 302.6,302.5 302.8,302.6 303.0,302.1 303.2,300.6 303.4,302.8 303.6,300.2 303.8,301.1 304.0,300.7 304.2,301.0 304.4,302.2 304.6,300.5 304.8,301.7 305.0,301.7 305.2,299.1 305.4,299.6 305.6,300.3 305.8,300.0 306.0,300.8 306.2,298.3 306.4,301.0 306.6,301.0 306.8,299.9 307.0,298.5 307.2,299.9 307.4,299.2 307.6,300.3 307.8,299.5 308.0,300.2 308.2,298.9 308.4,300.8 308.6,296.7 308.8,298.0 309.0,299.5 309.2,297.2 309.4,299.5 309.6,297.3 309.8,298.6 310.0,297.5 310.2,297.9 310.4,298.4 310.6,298.0 310.8,297.6 311.0,300.2 311.2,297.8 311.4,296.7 311.6,298.6 311.8,298.4 312.0,298.7 312.2,299.2 312.4,296.2 312.6,298.2 312.8,298.2 313.0,296.9 313.2,297.1 313.4,293.5 313.6,296.0 313.8,298.4 314.0,294.5 314.2,295.7 314.4,296.5 314.6,296.7 314.8,297.7 315.0,294.0 315.2,295.8 315.4,296.6 315.6,294.2 315.8,295.5 316.0,297.4 316.2,296.7 316.4,295.8 316.6,292.3 316.8,294.9 317.0,295.3 317.2,294.5 317.4,294.7 317.6,297.9 317.8,294.3 318.0,293.4 318.2,294.6 318.4,293.9 318.6,293.8 318.8,294.0 319.0,294.8 319.2,294.1 319.4,292.5 319.6,293.5 319.8,294.1 320.0,293.0 320.2,294.6 320.4,294.1 320.6,292.2 320.8,293.5 321.0,295.1 321.2,294.6 321.4,292.8 321.6,293.7 321.8,292.0 322.0,291.1 322.2,293.1 322.4,292.7 322.6,292.9 322.8,292.2 323.0,292.5 323.2,291.5 323.4,292.5 323.6,292.8 323.8,291.7 324.0,292.6 324.2,289.7 324.4,290.7 324.6,293.0 324.8,293.2 325.0,291.5 325.2,291.1 325.4,289.7 325.6,291.4 325.8,291.7 326.0,289.3 326.2,291.3 326.4,291.2 326.6,291.0 326.8,289.3 327.0,291.0 327.2,288.7 327.4,291.8 327.6,290.3 327.8,288.8 328.0,291.4 328.2,291.1 328.4,289.1 328.6,292.1 328.8,288.6 329.0,289.9 329.2,290.7 329.4,287.0 329.6,290.4 329.8,289.1 330.0,289.1 330.2,287.9 330.4,289.3 330.6,287.7 330.8,287.8 331.0,288.2 331.2,287.3 331.4,290.2 331.6,287.1 331.8,287.6 332.0,288.0 332.2,288.2 332.4,289.0 332.6,288.9 332.8,287.6 333.0,287.5 333.2,287.8 333.4,288.6 333.6,288.4 333.8,287.0 334.0,285.3 334.2,289.7 334.4,288.3 334.6,287.5 334.8,287.5 335.0,286.5 335.2,285.9 335.4,286.5 335.6,286.6 335.8,286.1 336.0,285.1 336.2,286.2 336.4,287.1 336.6,285.9 336.8,286.3 337.0,284.0 337.2,285.9 337.4,285.9 337.6,284.7 337.8,284.1 338.0,286.3 338.2,284.9 338.4,286.2 338.6,285.1 338.8,286.2 339.0,285.1 339.2,283.7 339.4,285.2 339.6,284.8 339.8,285.8 340.0,284.5 340.2,284.5 340.4,285.7 340.6,286.0 340.8,285.5 341.0,285.7 341.2,285.0 341.4,285.2 341.6,285.3 341.8,284.7 342.0,284.2 342.2,284.2 342.4,286.6 342.6,283.9 342.8,283.6 343.0,283.4 343.2,283.6 343.4,283.9 343.6,282.3 343.8,281.3 344.0,283.7 344.2,281.6 344.4,283.5 344.6,283.3 344.8,284.2 345.0,284.7 345.2,283.2 345.4,282.2 345.6,281.4 345.8,281.8 346.0,282.6 346.2,280.3 346.4,282.4 346.6,282.3 346.8,282.9 347.0,281.8 347.2,282.1 347.4,281.2 347.6,281.4 347.8,279.9 348.0,281.8 348.2,283.3 348.4,281.7 348.6,281.9 348.8,280.3 349.0,282.8 349.2,280.4 349.4,282.0 349.6,281.2 349.8,280.0 350.0,282.0 350.2,280.8 350.4,280.9 350.6,281.1 350.8,280.6 351.0,280.1 351.2,280.9 351.4,279.9 351.6,280.3 351.8,279.5 352.0,278.5 352.2,279.3 352.4,279.4 352.6,279.9 352.8,281.0 353.0,277.9 353.2,279.8 353.4,277.2 353.6,278.4 353.8,278.8 354.0,276.9 354.2,277.3 354.4,279.3 354.6,279.2 354.8,278.9 355.0,278.1 355.2,281.1 355.4,278.6 355.6,277.8 355.8,280.4 356.0,279.2 356.2,278.1 356.4,279.6 356.6,278.5 356.8,278.9 357.0,278.4 357.2,277.0 357.4,279.0 357.6,278.1 357.8,276.8 358.0,276.9 358.2,278.7 358.4,277.2 358.6,277.6 358.8,278.1 359.0,277.5 359.2,275.7 359.4,277.9 359.6,278.1 359.8,278.0 360.0,278.7 360.2,277.3 360.4,277.7 360.6,278.5 360.8,276.4 361.0,278.5 361.2,278.4 361.4,277.3 361.6,278.4 361.8,277.2 362.0,275.3 362.2,277.4 362.4,276.5 362.6,276.5 362.8,276.1 363.0,277.3 363.2,276.4 363.4,275.0 363.6,276.2 363.8,276.4 364.0,274.8 364.2,275.0 364.4,275.0 364.6,274.7 364.8,275.6 365.0,276.3 365.2,277.1 365.4,276.3 365.6,276.1 365.8,276.1 366.0,276.3 366.2,274.4 366.4,275.4 366.6,275.0 366.8,274.4 367.0,274.0 367.2,273.9 367.4,274.1 367.6,273.0 367.8,274.8 368.0,274.1 368.2,274.2 368.4,274.4 368.6,274.7 368.8,273.3 369.0,273.7 369.2,272.0 369.4,271.3 369.6,271.6 369.8,275.2 370.0,271.5 370.2,273.9 370.4,274.9 370.6,272.8 370.8,274.9 371.0,275.1 371.2,274.1 371.4,275.5 371.6,273.6 371.8,272.1 372.0,273.3 372.2,272.3 372.4,271.3 372.6,271.2 372.8,275.0 373.0,271.9 373.2,272.4 373.4,271.6 373.6,272.4 373.8,271.9 374.0,271.7 374.2,270.8 374.4,270.5 374.6,271.1 374.8,272.2 375.0,274.0 375.2,272.8 375.4,273.6 375.6,272.1 375.8,271.4 376.0,270.0 376.2,271.4 376.4,269.0 376.6,270.9 376.8,272.9 377.0,271.4 377.2,272.2 377.4,270.5 377.6,269.4 377.8,270.3 378.0,270.3 378.2,271.9 378.4,272.7 378.6,269.7 378.8,270.1 379.0,270.2 379.2,269.9 379.4,268.9 379.6,270.3 379.8,270.5 380.0,270.4 380.2,268.7 380.4,269.8 380.6,268.0 380.8,270.7 381.0,268.6 381.2,269.3 381.4,269.0 381.6,268.8 381.8,268.2 382.0,267.4 382.2,271.1 382.4,269.4 382.6,269.4 382.8,271.2 383.0,268.8 383.2,269.4 383.4,268.8 383.6,269.9 383.8,269.1 384.0,268.9 384.2,268.2 384.4,268.7 384.6,269.5 384.8,266.0 385.0,268.0 385.2,267.6 385.4,267.7 385.6,265.8 385.8,268.6 386.0,266.9 386.2,267.5 386.4,267.1 386.6,265.8 386.8,267.0 387.0,265.4 387.2,266.3 387.4,266.9 387.6,267.1 387.8,267.1 388.0,266.8 388.2,269.2 388.4,267.3 388.6,265.5 388.8,266.0 389.0,265.9 389.2,266.3 389.4,265.8 389.6,265.5 389.8,268.0 390.0,266.3 390.2,265.8 390.4,265.8 390.6,265.8 390.8,267.4 391.0,266.3 391.2,266.9 391.4,262.4 391.6,265.9 391.8,266.6 392.0,267.5 392.2,265.4 392.4,263.5 392.6,265.8 392.8,264.5 393.0,263.2 393.2,264.3 393.4,266.0 393.6,266.1 393.8,265.5 394.0,263.6 394.2,267.3 394.4,263.3 394.6,264.4 394.8,262.9 395.0,265.7 395.2,264.7 395.4,265.1 395.6,264.2 395.8,263.9 396.0,264.1 396.2,261.9 396.4,264.9 396.6,264.7 396.8,263.2 397.0,263.6 397.2,263.8 397.4,265.1 397.6,263.8 397.8,263.3 398.0,262.7 398.2,261.6 398.4,262.5 398.6,263.1 398.8,262.7 399.0,263.0 399.2,263.6 399.4,263.2 399.6,263.0 399.8,263.3 400.0,262.7 400.2,262.4 400.4,262.9 400.6,260.5 400.8,263.6 401.0,260.9 401.2,263.0 401.4,262.1 401.6,263.2 401.8,262.0 402.0,260.9 402.2,263.0 402.4,262.0 402.6,261.8 402.8,261.7 403.0,262.6 403.2,262.4 403.4,261.7 403.6,259.7 403.8,260.9 404.0,261.4 404.2,263.1 404.4,261.5 404.6,261.0 404.8,262.3 405.0,260.8 405.2,260.9 405.4,261.0 405.6,259.2 405.8,261.7 406.0,261.1 406.2,260.3 406.4,259.3 406.6,260.7 406.8,261.9 407.0,259.7 407.2,259.2 407.4,260.7 407.6,258.5 407.8,257.7 408.0,259.6 408.2,259.2 408.4,259.6 408.6,259.3 408.8,260.2 409.0,259.5 409.2,259.0 409.4,259.1 409.6,260.2 409.8,260.5 410.0,260.4 410.2,260.1 410.4,255.8 410.6,258.2 410.8,258.9 411.0,259.4 411.2,257.4 411.4,260.5 411.6,259.3 411.8,258.3 412.0,259.0 412.2,258.4 412.4,257.9 412.6,259.2 412.8,258.1 413.0,257.1 413.2,257.8 413.4,258.3 413.6,257.3 413.8,259.7 414.0,257.1 414.2,260.1 414.4,259.1 414.6,257.1 414.8,258.2 415.0,259.3 415.2,257.7 415.4,256.6 415.6,257.9 415.8,259.9 416.0,256.1 416.2,258.2 416.4,257.6 416.6,257.4 416.8,257.1 417.0,257.1 417.2,258.5 417.4,257.9 417.6,256.2 417.8,258.9 418.0,255.8 418.2,257.8 418.4,257.2 418.6,258.2 418.8,257.3 419.0,258.0 419.2,256.8 419.4,257.8 419.6,257.1 419.8,258.9 420.0,255.8 420.2,257.8 420.4,257.0 420.6,256.6 420.8,255.7 421.0,256.8 421.2,254.7 421.4,254.7 421.6,256.9 421.8,254.4 422.0,257.5 422.2,255.7 422.4,256.2 422.6,255.9 422.8,256.2 423.0,255.4 423.2,255.3 423.4,255.5 423.6,256.7 423.8,256.7 424.0,256.8 424.2,255.8 424.4,255.2 424.6,253.5 424.8,255.9 425.0,256.1 425.2,254.7 425.4,256.0 425.6,256.4 425.8,255.1 426.0,256.1 426.2,255.2 426.4,253.0 426.6,254.3 426.8,254.3 427.0,255.2 427.2,253.7 427.4,254.1 427.6,253.5 427.8,254.4 428.0,254.5 428.2,255.4 428.4,255.2 428.6,254.4 428.8,254.5 429.0,254.3 429.2,254.2 429.4,255.7 429.6,251.4 429.8,253.8 430.0,254.2 430.2,255.0 430.4,252.6 430.6,254.1 430.8,254.6 431.0,253.2 431.2,251.6 431.4,253.1 431.6,252.2 431.8,254.1 432.0,252.5 432.2,255.2 432.4,253.4 432.6,252.4 432.8,252.6 433.0,251.9 433.2,253.5 433.4,254.6 433.6,252.7 433.8,253.9 434.0,251.8 434.2,253.1 434.4,255.2 434.6,251.2 434.8,253.9 435.0,253.8 435.2,250.5 435.4,250.9 435.6,251.3 435.8,253.4 436.0,251.8 436.2,252.0 436.4,252.9 436.6,252.2 436.8,252.3 437.0,251.6 437.2,253.1 437.4,251.0 437.6,253.6 437.8,251.4 438.0,250.8 438.2,252.3 438.4,252.0 438.6,249.4 438.8,251.7 439.0,250.0 439.2,250.4 439.4,252.1 439.6,250.3 439.8,251.5 440.0,250.7 440.2,253.1 440.4,250.8 440.6,249.6 440.8,249.7 441.0,249.8 441.2,250.8 441.4,250.6 441.6,251.6 441.8,250.7 442.0,250.6 442.2,250.7 442.4,250.1 442.6,250.5 442.8,251.0 443.0,250.9 443.2,249.4 443.4,248.1 443.6,249.0 443.8,250.1 444.0,247.1 444.2,249.1 444.4,250.0 444.6,248.9 444.8,248.2 445.0,251.2 445.2,250.7 445.4,248.9 445.6,250.5 445.8,250.4 446.0,247.8 446.2,251.8 446.4,247.8 446.6,248.5 446.8,247.5 447.0,248.7 447.2,247.2 447.4,248.5 447.6,249.5 447.8,248.6 448.0,248.0 448.2,249.8 448.4,247.2 448.6,249.1 448.8,247.7 449.0,248.1 449.2,247.9 449.4,247.9 449.6,247.6 449.8,246.8 450.0,247.0 450.2,248.0 450.4,247.3 450.6,246.1 450.8,246.5 451.0,246.5 451.2,247.1 451.4,247.3 451.6,247.1 451.8,246.2 452.0,246.9 452.2,245.4 452.4,243.7 452.6,246.6 452.8,244.8 453.0,245.5 453.2,245.2 453.4,247.1 453.6,245.0 453.8,246.6 454.0,245.7 454.2,244.8 454.4,244.4 454.6,246.5 454.8,246.3 455.0,246.7 455.2,247.7 455.4,246.0 455.6,246.0 455.8,245.5 456.0,245.6 456.2,245.1 456.4,244.4 456.6,247.4 456.8,243.3 457.0,245.5 457.2,245.6 457.4,245.2 457.6,244.0 457.8,244.7 458.0,244.4 458.2,243.6 458.4,244.7 458.6,244.2 458.8,244.0 459.0,245.2 459.2,243.3 459.4,244.9 459.6,243.7 459.8,244.7 460.0,244.3 460.2,244.4 460.4,243.0 460.6,243.2 460.8,243.0 461.0,244.0 461.2,244.6 461.4,244.9 461.6,243.1 461.8,243.7 462.0,241.8 462.2,241.1 462.4,242.5 462.6,242.6 462.8,241.6 463.0,241.3 463.2,243.7 463.4,242.2 463.6,241.2 463.8,245.4 464.0,243.1 464.2,242.5 464.4,243.5 464.6,241.9 464.8,244.3 465.0,240.9 465.2,241.1 465.4,242.3 465.6,241.6 465.8,243.8 466.0,240.5 466.2,241.4 466.4,242.4 466.6,242.6 466.8,243.0 467.0,242.3 467.2,244.2 467.4,241.3 467.6,241.9 467.8,242.6 468.0,241.3 468.2,241.2 468.4,241.0 468.6,240.7 468.8,240.1 469.0,240.7 469.2,239.6 469.4,241.5 469.6,239.4 469.8,243.2 470.0,242.8 470.2,242.1 470.4,240.6 470.6,240.1 470.8,242.0 471.0,240.8 471.2,241.2 471.4,239.8 471.6,241.6 471.8,239.5 472.0,240.4 472.2,238.4 472.4,239.5 472.6,240.7 472.8,239.6 473.0,239.5 473.2,240.8 473.4,239.8 473.6,241.1 473.8,237.2 474.0,240.3 474.2,240.2 474.4,237.9 474.6,238.1 474.8,240.4 475.0,238.3 475.2,238.7 475.4,239.9 475.6,238.8 475.8,239.6 476.0,238.2 476.2,239.3 476.4,240.1 476.6,239.2 476.8,236.5 477.0,239.5 477.2,238.8 477.4,237.7 477.6,240.0 477.8,236.7 478.0,240.4 478.2,237.7 478.4,240.0 478.6,238.2 478.8,236.8 479.0,238.2 479.2,238.4 479.4,238.6 479.6,239.1 479.8,237.0 480.0,238.4 480.2,238.6 480.4,237.4 480.6,236.7 480.8,236.6 481.0,238.3 481.2,238.3 481.4,236.5 481.6,235.9 481.8,238.6 482.0,235.6 482.2,237.3 482.4,236.3 482.6,235.2 482.8,237.1 483.0,236.7 483.2,238.4 483.4,239.2 483.6,236.6 483.8,237.8 484.0,237.7 484.2,236.0 484.4,235.6 484.6,238.2 484.8,236.0 485.0,236.3 485.2,236.0 485.4,236.1 485.6,235.5 485.8,236.9 486.0,237.4 486.2,235.6 486.4,234.5 486.6,235.9 486.8,234.3 487.0,235.1 487.2,237.0 487.4,238.1 487.6,236.0 487.8,234.4 488.0,236.3 488.2,233.1 488.4,234.6 488.6,236.9 488.8,236.1 489.0,233.8 489.2,233.4 489.4,236.0 489.6,235.0 489.8,234.4 490.0,235.4 490.2,234.3 490.4,232.8 490.6,235.6 490.8,234.0 491.0,233.6 491.2,233.2 491.4,234.8 491.6,233.7 491.8,235.1 492.0,234.1 492.2,235.5 492.4,233.9 492.6,233.6 492.8,232.1 493.0,233.0 493.2,234.8 493.4,237.3 493.6,232.7 493.8,232.8 494.0,234.2 494.2,234.3 494.4,233.1 494.6,233.8 494.8,232.0 495.0,233.3 495.2,234.5 495.4,235.2 495.6,233.3 495.8,233.1 496.0,233.8 496.2,234.5 496.4,233.8 496.6,232.4 496.8,233.5 497.0,234.1 497.2,232.3 497.4,231.6 497.6,233.5 497.8,233.3 498.0,233.9 498.2,232.9 498.4,232.1 498.6,232.2 498.8,231.6 499.0,231.6 499.2,232.0 499.4,232.0 499.6,233.6 499.8,231.1 500.0,232.3 500.2,231.7 500.4,233.8 500.6,232.5 500.8,231.8 501.0,233.0 501.2,232.1 501.4,231.5 501.6,233.6 501.8,232.7 502.0,233.7 502.2,233.0 502.4,232.6 502.6,231.9 502.8,230.5 503.0,232.4 503.2,231.7 503.4,232.2 503.6,231.5 503.8,230.7 504.0,230.3 504.2,232.1 504.4,232.6 504.6,230.9 504.8,231.7 505.0,232.6 505.2,230.2 505.4,230.7 505.6,229.8 505.8,232.2 506.0,231.2 506.2,230.4 506.4,229.1 506.6,230.6 506.8,231.8 507.0,230.4 507.2,230.2 507.4,231.2 507.6,229.2 507.8,230.5 508.0,231.1 508.2,229.6 508.4,229.5 508.6,230.6 508.8,230.1 509.0,229.9 509.2,230.4 509.4,230.3 509.6,229.1 509.8,229.3 510.0,230.4 510.2,231.1 510.4,231.3 510.6,228.9 510.8,230.9 511.0,230.5 511.2,229.6 511.4,230.1 511.6,230.5 511.8,231.4 512.0,228.4 512.2,230.1 512.4,229.3 512.6,229.1 512.8,230.5 513.0,230.1 513.2,228.2 513.4,228.9 513.6,229.4 513.8,227.6 514.0,229.9 514.2,228.9 514.4,229.1 514.6,229.3 514.8,230.8 515.0,228.8 515.2,228.4 515.4,230.5 515.6,228.1 515.8,228.1 516.0,227.1 516.2,229.7 516.4,228.8 516.6,228.9 516.8,228.6 517.0,228.2 517.2,227.5 517.4,227.4 517.6,228.7 517.8,228.3 518.0,229.8 518.2,227.3 518.4,227.5 518.6,226.9 518.8,229.4 519.0,226.6 519.2,228.7 519.4,229.3 519.6,227.6 519.8,228.5 520.0,225.5 520.2,227.2 520.4,225.9 520.6,227.7 520.8,227.5 521.0,226.7 521.2,228.4 521.4,227.8 521.6,226.8 521.8,226.8 522.0,225.7 522.2,227.0 522.4,229.4 522.6,226.4 522.8,227.5 523.0,226.5 523.2,227.8 523.4,227.4 523.6,226.7 523.8,225.0 524.0,226.3 524.2,228.0 524.4,226.5 524.6,227.3 524.8,226.1 525.0,224.6 525.2,227.0 525.4,226.8 525.6,225.8 525.8,226.0 526.0,226.7 526.2,225.7 526.4,226.6 526.6,226.0 526.8,223.7 527.0,226.0 527.2,225.5 527.4,225.2 527.6,226.4 527.8,225.5 528.0,226.5 528.2,227.0 528.4,226.0 528.6,224.2 528.8,225.0 529.0,226.7 529.2,225.4 529.4,224.8 529.6,225.5 529.8,226.0 530.0,225.7 530.2,226.1 530.4,224.5 530.6,225.1 530.8,225.0 531.0,225.2 531.2,223.0 531.4,224.9 531.6,223.7 531.8,226.5 532.0,226.7 532.2,226.7 532.4,225.8 532.6,224.4 532.8,225.9 533.0,224.6 533.2,225.4 533.4,223.8 533.6,224.1 533.8,225.1 534.0,226.4 534.2,224.5 534.4,226.9 534.6,227.3 534.8,223.1 535.0,224.3 535.2,223.3 535.4,224.1 535.6,223.7 535.8,224.1 536.0,225.1 536.2,225.1 536.4,224.3 536.6,224.0 536.8,224.1 537.0,224.0 537.2,224.5 537.4,223.8 537.6,224.3 537.8,222.4 538.0,224.5 538.2,225.5 538.4,223.8 538.6,222.1 538.8,224.9 539.0,223.1 539.2,220.3 539.4,223.1 539.6,224.0 539.8,223.7 540.0,224.5 540.2,223.8 540.4,223.3 540.6,221.0 540.8,221.9 541.0,223.2 541.2,223.7 541.4,221.8 541.6,222.2 541.8,223.3 542.0,220.8 542.2,220.7 542.4,222.5 542.6,222.9 542.8,222.1 543.0,220.2 543.2,222.5 543.4,221.1 543.6,223.1 543.8,222.3 544.0,222.6 544.2,223.0 544.4,221.7 544.6,223.1 544.8,223.5 545.0,222.5 545.2,223.5 545.4,221.4 545.6,222.9 545.8,222.2 546.0,220.9 546.2,221.8 546.4,221.2 546.6,221.2 546.8,221.8 547.0,222.8 547.2,221.3 547.4,221.7 547.6,220.0 547.8,221.6 548.0,222.6 548.2,222.2 548.4,221.8 548.6,220.8 548.8,220.2 549.0,221.1 549.2,219.8 549.4,219.8 549.6,222.1 549.8,220.1 550.0,222.9 550.2,219.4 550.4,221.3 550.6,219.6 550.8,221.0 551.0,219.7 551.2,220.8 551.4,220.5 551.6,220.2 551.8,221.1 552.0,222.1 552.2,219.9 552.4,221.4 552.6,220.5 552.8,220.3 553.0,222.6 553.2,218.0 553.4,219.5 553.6,218.3 553.8,219.8 554.0,219.8 554.2,224.0 554.4,220.4 554.6,221.8 554.8,221.3 555.0,219.4 555.2,220.3 555.4,221.5 555.6,219.9 555.8,219.9 556.0,220.2 556.2,218.0 556.4,218.7 556.6,219.9 556.8,220.0 557.0,218.4 557.2,219.0 557.4,219.2 557.6,219.1 557.8,220.0 558.0,219.3 558.2,219.3 558.4,217.6 558.6,217.9 558.8,219.3 559.0,217.3 559.2,219.2 559.4,218.2 559.6,218.0 559.8,219.5 560.0,218.0 560.2,217.8 560.4,217.9 560.6,218.7 560.8,221.4 561.0,216.3 561.2,218.4 561.4,218.2 561.6,219.4 561.8,217.9 562.0,215.7 562.2,219.6 562.4,217.0 562.6,218.1 562.8,216.7 563.0,216.9 563.2,217.5 563.4,218.9 563.6,218.8 563.8,217.2 564.0,218.4 564.2,217.4 564.4,217.9 564.6,217.9 564.8,218.3 565.0,217.0 565.2,217.4 565.4,217.7 565.6,217.6 565.8,216.6 566.0,219.2 566.2,216.8 566.4,218.1 566.6,217.5 566.8,218.5 567.0,214.8 567.2,219.3 567.4,216.8 567.6,215.7 567.8,217.1 568.0,219.3 568.2,217.4 568.4,215.5 568.6,216.3 568.8,218.1 569.0,215.2 569.2,216.5 569.4,216.3 569.6,218.8 569.8,216.2 570.0,217.9 570.2,215.7 570.4,215.5 570.6,217.4 570.8,216.9 571.0,214.4 571.2,216.9 571.4,216.8 571.6,215.5 571.8,216.3 572.0,216.3 572.2,215.5 572.4,215.3 572.6,215.2 572.8,215.5 573.0,214.4 573.2,215.7 573.4,214.1 573.6,215.7 573.8,215.5 574.0,214.5 574.2,216.4 574.4,217.5 574.6,216.8 574.8,213.9 575.0,216.7 575.2,215.5 575.4,215.2 575.6,214.6 575.8,215.1 576.0,216.6 576.2,215.6 576.4,214.6 576.6,214.3 576.8,214.5 577.0,215.5 577.2,216.8 577.4,213.7 577.6,214.7 577.8,214.3 578.0,213.8 578.2,215.0 578.4,215.1 578.6,213.0 578.8,213.4 579.0,215.7 579.2,214.7 579.4,214.9 579.6,213.7 579.8,213.8 580.0,214.7 580.2,213.6 580.4,212.9 580.6,214.0 580.8,214.9 581.0,212.9 581.2,215.0 581.4,214.6 581.6,212.9 581.8,213.8 582.0,213.7 582.2,214.3 582.4,214.3 582.6,212.2 582.8,212.1 583.0,214.6 583.2,213.6 583.4,213.8 583.6,213.7 583.8,214.9 584.0,212.0 584.2,214.4 584.4,212.3 584.6,213.9 584.8,214.5 585.0,211.6 585.2,213.4 585.4,212.7 585.6,212.6 585.8,212.9 586.0,211.7 586.2,211.8 586.4,213.4 586.6,213.6 586.8,212.1 587.0,211.1 587.2,215.0 587.4,213.7 587.6,212.9 587.8,211.4 588.0,211.8 588.2,212.6 588.4,211.3 588.6,213.9 588.8,212.4 589.0,212.6 589.2,211.1 589.4,211.1 589.6,211.2 589.8,212.3 590.0,211.7 590.2,211.6 590.4,212.2 590.6,212.1 590.8,213.3 591.0,211.5 591.2,210.7 591.4,211.7 591.6,213.2 591.8,211.0 592.0,211.6 592.2,211.1 592.4,211.9 592.6,211.7 592.8,210.5 593.0,211.1 593.2,212.3 593.4,212.4 593.6,212.2 593.8,212.1 594.0,210.8 594.2,210.7 594.4,212.0 594.6,209.8 594.8,210.9 595.0,209.0 595.2,210.5 595.4,210.1 595.6,209.5 595.8,211.4 596.0,209.9 596.2,210.3 596.4,210.4 596.6,209.8 596.8,212.0 597.0,210.0 597.2,210.7 597.4,209.1 597.6,209.9 597.8,210.0 598.0,210.0 598.2,209.7 598.4,210.4 598.6,211.8 598.8,210.0 599.0,210.0 599.2,209.7 599.4,212.7 599.6,211.7 599.8,210.5 600.0,210.6 600.2,209.1 600.4,209.7 600.6,210.0 600.8,209.9 601.0,208.8 601.2,208.9 601.4,210.2 601.6,209.9 601.8,207.4 602.0,209.6 602.2,210.8 602.4,208.8 602.6,209.6 602.8,207.8 603.0,210.2 603.2,208.1 603.4,207.9 603.6,208.9 603.8,211.6 604.0,208.5 604.2,207.8 604.4,209.5 604.6,209.2 604.8,210.7 605.0,207.6 605.2,207.2 605.4,208.5 605.6,209.2 605.8,209.1 606.0,209.9 606.2,207.1 606.4,207.8 606.6,208.5 606.8,209.4 607.0,209.0 607.2,208.1 607.4,207.4 607.6,209.3 607.8,209.4 608.0,211.2 608.2,208.1 608.4,210.0 608.6,207.0 608.8,207.6 609.0,207.5 609.2,207.6 609.4,207.2 609.6,207.5 609.8,207.9 610.0,207.5 610.2,208.6 610.4,207.8 610.6,207.9 610.8,209.3 611.0,208.1 611.2,207.9 611.4,207.7 611.6,207.7 611.8,208.2 612.0,206.8 612.2,208.7 612.4,209.2 612.6,208.7 612.8,206.9 613.0,205.8 613.2,206.9 613.4,207.5 613.6,208.2 613.8,207.1 614.0,206.9 614.2,208.8 614.4,206.5 614.6,208.2 614.8,208.0 615.0,205.7 615.2,207.3 615.4,206.4 615.6,206.0 615.8,205.0 616.0,205.2 616.2,207.3 616.4,206.4 616.6,207.0 616.8,205.6 617.0,206.4 617.2,206.4 617.4,205.0 617.6,204.9 617.8,207.0 618.0,206.7 618.2,205.5 618.4,206.3 618.6,207.1 618.8,208.3 619.0,205.4 619.2,206.9 619.4,208.5 619.6,206.3 619.8,207.7 620.0,203.5 620.2,207.6 620.4,206.1 620.6,204.1 620.8,206.8 621.0,207.1 621.2,207.2 621.4,207.2 621.6,205.8 621.8,205.1 622.0,205.3 622.2,205.7 622.4,206.2 622.6,205.2 622.8,205.7 623.0,206.5 623.2,205.9 623.4,208.0 623.6,207.8 623.8,204.3 624.0,204.9 624.2,204.1 624.4,204.2 624.6,205.9 624.8,204.3 625.0,204.2 625.2,205.0 625.4,206.1 625.6,204.8 625.8,204.8 626.0,206.1 626.2,205.6 626.4,205.5 626.6,206.0 626.8,203.9 627.0,205.2 627.2,204.3 627.4,206.0 627.6,205.7 627.8,203.7 628.0,206.2 628.2,203.5 628.4,205.9 628.6,204.9 628.8,203.8 629.0,203.5 629.2,204.3 629.4,204.5 629.6,203.8 629.8,205.1 630.0,203.0 630.2,204.4 630.4,204.4 630.6,202.4 630.8,204.7 631.0,203.0 631.2,201.7 631.4,203.6 631.6,204.0 631.8,205.1 632.0,203.6 632.2,205.7 632.4,205.6 632.6,205.2 632.8,205.4 633.0,204.4 633.2,203.4 633.4,204.6 633.6,204.9 633.8,204.1 634.0,203.6 634.2,202.2 634.4,204.5 634.6,204.1 634.8,202.4 635.0,203.8 635.2,204.4 635.4,203.5 635.6,204.4 635.8,204.4 636.0,202.0 636.2,203.2 636.4,204.0 636.6,204.4 636.8,204.9 637.0,201.4 637.2,203.3 637.4,204.1 637.6,204.6 637.8,205.0 638.0,202.3 638.2,202.8 638.4,202.1 638.6,204.0 638.8,201.7 639.0,204.3 639.2,204.1 639.4,203.6 639.6,200.7 639.8,202.3 640.0,203.7 640.2,201.4 640.4,202.6 640.6,202.8 640.8,203.8 641.0,203.1 641.2,203.1 641.4,202.3 641.6,202.7 641.8,202.6 642.0,203.4 642.2,202.4 642.4,203.7 642.6,200.8 642.8,203.8 643.0,202.3 643.2,203.7 643.4,202.5 643.6,203.3 643.8,204.0 644.0,201.8 644.2,202.4 644.4,202.1 644.6,202.5 644.8,200.6 645.0,202.0 645.2,201.9 645.4,201.3 645.6,201.9 645.8,200.5 646.0,203.5 646.2,202.5 646.4,204.0 646.6,201.1 646.8,200.7 647.0,202.2 647.2,200.2 647.4,202.1 647.6,201.1 647.8,201.5 648.0,202.0 648.2,201.8 648.4,203.7 648.6,202.3 648.8,200.3 649.0,202.6 649.2,200.2 649.4,201.6 649.6,200.2 649.8,200.6 650.0,202.8 650.2,200.8 650.4,200.7 650.6,200.8 650.8,201.0 651.0,202.8 651.2,200.0 651.4,199.9 651.6,201.8 651.8,199.5 652.0,200.8 652.2,202.3 652.4,201.1 652.6,200.6 652.8,200.3 653.0,200.0 653.2,200.3 653.4,201.1 653.6,202.2 653.8,201.9 654.0,200.2 654.2,200.0 654.4,201.5 654.6,198.8 654.8,200.3 655.0,200.3 655.2,199.5 655.4,199.6 655.6,201.0 655.8,198.8 656.0,199.6 656.2,199.8 656.4,200.5 656.6,199.0 656.8,201.5 657.0,200.0 657.2,200.1 657.4,199.9 657.6,199.6 657.8,199.2 658.0,201.4 658.2,200.4 658.4,200.0 658.6,201.2 658.8,199.3 659.0,200.7 659.2,200.0 659.4,199.1 659.6,200.7 659.8,198.4 660.0,200.6 660.2,198.9 660.4,200.2 660.6,201.2 660.8,200.3 661.0,199.1 661.2,199.7 661.4,199.3 661.6,198.4 661.8,198.4 662.0,199.6 662.2,200.1 662.4,197.6 662.6,199.4 662.8,199.9 663.0,199.5 663.2,198.3 663.4,200.4 663.6,198.0 663.8,199.9 664.0,200.9 664.2,197.1 664.4,199.4 664.6,199.4 664.8,199.3 665.0,198.2 665.2,198.7 665.4,197.5 665.6,199.1 665.8,199.5 666.0,198.2 666.2,197.9 666.4,198.3 666.6,198.7 666.8,198.8 667.0,198.6 667.2,198.7 667.4,197.2 667.6,195.7 667.8,199.2 668.0,200.0 668.2,197.0 668.4,197.7 668.6,198.7 668.8,199.3 669.0,199.0 669.2,199.6 669.4,198.2 669.6,198.6 669.8,198.6 670.0,197.6 670.2,199.3 670.4,198.7 670.6,199.0 670.8,197.5 671.0,198.9 671.2,196.7 671.4,198.2 671.6,195.0 671.8,196.6 672.0,198.4 672.2,197.1 672.4,197.7 672.6,195.8 672.8,199.0 673.0,197.9 673.2,197.2 673.4,197.6 673.6,197.5 673.8,198.5 674.0,197.2 674.2,195.4 674.4,196.6 674.6,198.2 674.8,197.3 675.0,196.3 675.2,197.3 675.4,196.7 675.6,197.1 675.8,194.8 676.0,195.4 676.2,197.0 676.4,196.0 676.6,196.5 676.8,198.1 677.0,195.7 677.2,196.2 677.4,195.3 677.6,195.2 677.8,195.7 678.0,194.2 678.2,193.5 678.4,197.0 678.6,195.5 678.8,196.7 679.0,195.6 679.2,195.6 679.4,196.0 679.6,196.0 679.8,194.0 680.0,196.5 680.2,194.2 680.4,195.3 680.6,197.7 680.8,195.1 681.0,196.7 681.2,194.6 681.4,195.6 681.6,194.9 681.8,195.3 682.0,193.9 682.2,193.9 682.4,195.1 682.6,193.1 682.8,193.9 683.0,195.4 683.2,194.1 683.4,193.8 683.6,193.6 683.8,194.8 684.0,194.3 684.2,194.9 684.4,194.5 684.6,196.6 684.8,194.3 685.0,192.7 685.2,194.8 685.4,194.7 685.6,194.9 685.8,193.1 686.0,195.9 686.2,194.7 686.4,194.7 686.6,193.2 686.8,195.3 687.0,194.8 687.2,196.3 687.4,194.4 687.6,193.6 687.8,195.1 688.0,194.0 688.2,195.4 688.4,193.9 688.6,194.9 688.8,194.8 689.0,195.0 689.2,194.6 689.4,194.3 689.6,195.1 689.8,194.6 690.0,195.4 690.2,194.9 690.4,192.9 690.6,195.2 690.8,196.7 691.0,195.7 691.2,196.0 691.4,195.9 691.6,195.0 691.8,194.1 692.0,196.3 692.2,196.6 692.4,196.1 692.6,196.0 692.8,196.0 693.0,195.7 693.2,196.0 693.4,195.8 693.6,196.2 693.8,194.9 694.0,195.3 694.2,196.6 694.4,195.7 694.6,193.6 694.8,196.3 695.0,193.9 695.2,198.3 695.4,197.1 695.6,197.1 695.8,195.9 696.0,195.5 696.2,196.5 696.4,196.8 696.6,196.1 696.8,197.1 697.0,197.7 697.2,197.7 697.4,196.1 697.6,195.1 697.8,197.4 698.0,196.8 698.2,198.0 698.4,199.3 698.6,199.4 698.8,198.1 699.0,199.1 699.2,199.7 699.4,198.2 699.6,198.5 699.8,199.2 700.0,198.4 700.2,198.0 700.4,197.9 700.6,198.8 700.8,198.2 701.0,199.8 701.2,198.7 701.4,200.7 701.6,200.5 701.8,198.1 702.0,200.6 702.2,199.2 702.4,201.1 702.6,200.4 702.8,199.9 703.0,200.8 703.2,199.7 703.4,200.7 703.6,200.9 703.8,200.5 704.0,201.2 704.2,200.0 704.4,201.7 704.6,200.1 704.8,202.1 705.0,202.1 705.2,202.5 705.4,201.4 705.6,205.2 705.8,202.1 706.0,202.7 706.2,201.9 706.4,204.3 706.6,202.6 706.8,204.2 707.0,202.5 707.2,203.9 707.4,203.4 707.6,204.9 707.8,203.8 708.0,203.4 708.2,204.9 708.4,203.4 708.6,203.9 708.8,205.8 709.0,203.3 709.2,206.1 709.4,205.1 709.6,204.7 709.8,206.0 710.0,206.6 710.2,205.5 710.4,206.1 710.6,207.2 710.8,207.3 711.0,206.6 711.2,206.1 711.4,206.0 711.6,206.5 711.8,208.0 712.0,208.0 712.2,207.9 712.4,209.1 712.6,207.5 712.8,207.6 713.0,207.7 713.2,210.2 713.4,206.4 713.6,208.8 713.8,209.1 714.0,208.9 714.2,211.3 714.4,210.3 714.6,210.0 714.8,208.5 715.0,210.0 715.2,209.3 715.4,209.8 715.6,210.1 715.8,209.6 716.0,210.9 716.2,212.0 716.4,211.5 716.6,210.8 716.8,208.8 717.0,212.0 717.2,212.1 717.4,211.0 717.6,210.8 717.8,212.1 718.0,210.8 718.2,212.5 718.4,210.8 718.6,211.1 718.8,212.2 719.0,210.8 719.2,212.4 719.4,213.1 719.6,211.4 719.8,213.8 720.0,212.4 720.2,213.7 720.4,213.5 720.6,213.0 720.8,213.0 721.0,212.0 721.2,213.1 721.4,213.2 721.6,215.7 721.8,215.3 722.0,213.0 722.2,215.3 722.4,214.9 722.6,214.4 722.8,215.4 723.0,215.8 723.2,214.6 723.4,215.1 723.6,215.6 723.8,214.6 724.0,215.9 724.2,215.8 724.4,215.3 724.6,215.3 724.8,216.6 725.0,217.3 725.2,216.9 725.4,215.9 725.6,217.6 725.8,217.2 726.0,217.7 726.2,218.4 726.4,216.5 726.6,217.4 726.8,217.1 727.0,217.0 727.2,220.0 727.4,219.0 727.6,216.5 727.8,218.8 728.0,218.0 728.2,219.8 728.4,218.9 728.6,218.8 728.8,219.3 729.0,219.6 729.2,219.4 729.4,219.3 729.6,219.6 729.8,220.4 730.0,218.9 730.2,220.1 730.4,220.2 730.6,220.0 730.8,221.3 731.0,219.5 731.2,220.5 731.4,220.2 731.6,221.8 731.8,220.9 732.0,221.6 732.2,222.1 732.4,220.3 732.6,222.5 732.8,221.4 733.0,222.1 733.2,222.4 733.4,223.4 733.6,223.5 733.8,224.7 734.0,223.3 734.2,222.8 734.4,222.9 734.6,224.3 734.8,225.4 735.0,224.3 735.2,223.5 735.4,224.5 735.6,224.7 735.8,224.6 736.0,224.0 736.2,222.4 736.4,224.5 736.6,226.3 736.8,225.6 737.0,223.4 737.2,225.7 737.4,224.1 737.6,228.0 737.8,226.4 738.0,225.2 738.2,227.3 738.4,225.9 738.6,227.4 738.8,227.1 739.0,226.0 739.2,228.0 739.4,226.2 739.6,229.0 739.8,227.9 740.0,227.0 740.2,226.4 740.4,229.9 740.6,229.9 740.8,227.4 741.0,230.4 741.2,229.1 741.4,228.9 741.6,229.2 741.8,229.2 742.0,231.0 742.2,229.9 742.4,228.1 742.6,232.2 742.8,231.1 743.0,229.4 743.2,230.2 743.4,229.9 743.6,231.0 743.8,231.5 744.0,231.5 744.2,230.8 744.4,230.8 744.6,232.6 744.8,231.8 745.0,234.3 745.2,231.4 745.4,233.2 745.6,232.6 745.8,232.0 746.0,234.2 746.2,233.2 746.4,232.3 746.6,233.0 746.8,234.5 747.0,232.5 747.2,235.2 747.4,234.7 747.6,233.9 747.8,235.7 748.0,236.2 748.2,235.2 748.4,234.9 748.6,236.8 748.8,236.6 749.0,234.3 749.2,235.2 749.4,235.3 749.6,235.3 749.8,234.4 750.0,236.9 750.2,236.2 750.4,236.4 750.6,237.8 750.8,236.0 751.0,236.7 751.2,237.2 751.4,236.6 751.6,237.1 751.8,238.1 752.0,237.5 752.2,238.9 752.4,237.0 752.6,238.1 752.8,236.6 753.0,238.1 753.2,237.6 753.4,239.8 753.6,239.4 753.8,239.3 754.0,240.7 754.2,240.5 754.4,239.9 754.6,238.6 754.8,238.0 755.0,239.6 755.2,239.4 755.4,239.2 755.6,239.7 755.8,238.5 756.0,241.8 756.2,239.3 756.4,239.9 756.6,241.3 756.8,239.2 757.0,241.9 757.2,242.0 757.4,240.9 757.6,240.3 757.8,241.0 758.0,239.8 758.2,243.2 758.4,242.0 758.6,241.3 758.8,241.3 759.0,242.9 759.2,244.0 759.4,241.3 759.6,242.2 759.8,241.1 760.0,243.7 760.2,243.3 760.4,245.5 760.6,243.3 760.8,243.1 761.0,243.0 761.2,244.7 761.4,242.3 761.6,244.8 761.8,244.5 762.0,243.8 762.2,243.6 762.4,245.7 762.6,246.6 762.8,244.4 763.0,245.6 763.2,246.9 763.4,244.7 763.6,245.2 763.8,244.3 764.0,245.5 764.2,245.7 764.4,245.5 764.6,245.3 764.8,244.6 765.0,245.0 765.2,245.5 765.4,247.3 765.6,246.2 765.8,246.0 766.0,247.7 766.2,247.7 766.4,246.5 766.6,246.8 766.8,248.2 767.0,248.0 767.2,246.9 767.4,248.1 767.6,248.0 767.8,249.3 768.0,247.4 768.2,249.3 768.4,249.0 768.6,247.6 768.8,249.8 769.0,249.8 769.2,247.7 769.4,251.1 769.6,248.1 769.8,248.5 770.0,249.2 770.2,250.4 770.4,250.3 770.6,249.8 770.8,251.4 771.0,250.5 771.2,251.6 771.4,253.2 771.6,250.6 771.8,247.9 772.0,250.2 772.2,249.7 772.4,251.0 772.6,251.1 772.8,249.9 773.0,250.1 773.2,251.1 773.4,251.3 773.6,248.9 773.8,252.7 774.0,251.8 774.2,251.9 774.4,252.3 774.6,251.1 774.8,252.2 775.0,253.4 775.2,253.5 775.4,253.0 775.6,252.4 775.8,251.9 776.0,254.2 776.2,253.5 776.4,252.7 776.6,251.0 776.8,252.4 777.0,251.4 777.2,254.8 777.4,253.8 777.6,253.0 777.8,253.6 778.0,256.6 778.2,255.3 778.4,252.8 778.6,254.1 778.8,253.1 779.0,252.7 779.2,254.8 779.4,257.2 779.6,256.4 779.8,254.9 780.0,254.6 780.2,255.3 780.4,256.3 780.6,253.8 780.8,253.5 781.0,257.5 781.2,255.9 781.4,257.4 781.6,256.1 781.8,257.5 782.0,255.4 782.2,256.7 782.4,257.9 782.6,257.4 782.8,256.0 783.0,257.5 783.2,256.0 783.4,255.3 783.6,257.4 783.8,258.4 784.0,257.9 784.2,255.8 784.4,258.2 784.6,258.1 784.8,257.0 785.0,255.0 785.2,258.7 785.4,258.7 785.6,258.4 785.8,256.1 786.0,256.5 786.2,259.2 786.4,259.1 786.6,258.9 786.8,258.2 787.0,259.0 787.2,258.1 787.4,258.4 787.6,257.9 787.8,259.2 788.0,258.6 788.2,260.1 788.4,260.0 788.6,258.5 788.8,261.4 789.0,258.3 789.2,260.1 789.4,260.9 789.6,261.2 789.8,257.6 790.0,261.1 790.2,261.4 790.4,261.7 790.6,257.9 790.8,259.7 791.0,260.4 791.2,260.1 791.4,262.1 791.6,260.0 791.8,262.1 792.0,261.5 792.2,259.5 792.4,260.1 792.6,260.7 792.8,261.4 793.0,262.5 793.2,261.3 793.4,262.5 793.6,260.0 793.8,258.5 794.0,261.5 794.2,262.4 794.4,261.7 794.6,261.1 794.8,262.7 795.0,264.4 795.2,262.3 795.4,261.7 795.6,261.7 795.8,264.8 796.0,262.7 796.2,263.5 796.4,264.2 796.6,264.2 796.8,262.1 797.0,264.2 797.2,264.2 797.4,263.9 797.6,264.5 797.8,263.0 798.0,263.6 798.2,263.2 798.4,264.6 798.6,263.2 798.8,264.4 799.0,262.9 799.2,264.0 799.4,263.9 799.6,264.2 799.8,264.6 800.0,264.3 800.2,264.4 800.4,262.5 800.6,265.9 800.8,264.2 801.0,264.7 801.2,264.1 801.4,266.1 801.6,264.2 801.8,265.8 802.0,266.6 802.2,267.1 802.4,266.7 802.6,266.2 802.8,264.4 803.0,267.1 803.2,267.1 803.4,266.8 803.6,266.8 803.8,266.1 804.0,265.6 804.2,267.3 804.4,267.6 804.6,265.3 804.8,267.4 805.0,266.8 805.2,267.5 805.4,267.0 805.6,267.9 805.8,267.9 806.0,267.8 806.2,265.5 806.4,267.9 806.6,267.2 806.8,266.0 807.0,268.0 807.2,265.9 807.4,268.4 807.6,269.3 807.8,267.1 808.0,268.7 808.2,268.3 808.4,268.5 808.6,266.5 808.8,268.7 809.0,268.2 809.2,269.0 809.4,268.3 809.6,269.5 809.8,268.7 810.0,269.2 810.2,270.0 810.4,268.9 810.6,269.8 810.8,269.1 811.0,269.5 811.2,268.5 811.4,269.9 811.6,270.5 811.8,269.2 812.0,270.2 812.2,269.9 812.4,268.4 812.6,270.0 812.8,271.1 813.0,269.3 813.2,268.1 813.4,270.2 813.6,269.4 813.8,272.2 814.0,270.3 814.2,270.4 814.4,269.8 814.6,270.8 814.8,270.1 815.0,269.8 815.2,270.8 815.4,270.1 815.6,272.4 815.8,269.9 816.0,271.1 816.2,270.6 816.4,270.0 816.6,273.2 816.8,269.4 817.0,273.2 817.2,270.3 817.4,272.0 817.6,274.3 817.8,269.8 818.0,270.7 818.2,273.6 818.4,272.5 818.6,271.8 818.8,272.5 819.0,271.6 819.2,272.8 819.4,274.3 819.6,272.5 819.8,273.1 820.0,274.3 820.2,275.2 820.4,272.6 820.6,273.6 820.8,272.8 821.0,272.8 821.2,273.2 821.4,273.0 821.6,272.0 821.8,271.8 822.0,273.2 822.2,274.2 822.4,275.4 822.6,273.7 822.8,274.1 823.0,275.1 823.2,275.3 823.4,274.5 823.6,274.6 823.8,276.7 824.0,274.5 824.2,274.4 824.4,273.4 824.6,275.6 824.8,274.9 825.0,277.3 825.2,275.1 825.4,276.3 825.6,276.6 825.8,277.4 826.0,274.4 826.2,277.5 826.4,276.0 826.6,275.9 826.8,275.8 827.0,275.8 827.2,275.9 827.4,274.0 827.6,277.0 827.8,276.6 828.0,275.6 828.2,276.6 828.4,279.2 828.6,277.3 828.8,276.6 829.0,278.8 829.2,276.3 829.4,277.0 829.6,276.7 829.8,277.1 830.0,278.2 830.2,278.1 830.4,276.8 830.6,277.5 830.8,277.8 831.0,277.4 831.2,277.9 831.4,277.2 831.6,277.3 831.8,278.2 832.0,277.2 832.2,278.7 832.4,278.2 832.6,277.5 832.8,277.9 833.0,278.1 833.2,278.5 833.4,278.9 833.6,278.6 833.8,278.0 834.0,280.5 834.2,280.0 834.4,279.3 834.6,280.2 834.8,279.6 835.0,279.1 835.2,279.5 835.4,282.3 835.6,280.6 835.8,280.8 836.0,279.3 836.2,280.4 836.4,282.2 836.6,280.4 836.8,281.2 837.0,281.4 837.2,280.9 837.4,281.9 837.6,280.6 837.8,280.9 838.0,279.9 838.2,283.3 838.4,281.0 838.6,280.8 838.8,282.2 839.0,280.4 839.2,280.9 839.4,280.2 839.6,281.1 839.8,280.8 840.0,281.8 840.2,281.2 840.4,280.8 840.6,281.1 840.8,281.4 841.0,281.1 841.2,282.6 841.4,282.4 841.6,282.0 841.8,280.7 842.0,282.5 842.2,280.7 842.4,282.3 842.6,282.2 842.8,281.6 843.0,281.5 843.2,281.7 843.4,284.5 843.6,282.2 843.8,282.4 844.0,283.6 844.2,283.2 844.4,283.9 844.6,281.6 844.8,281.8 845.0,286.4 845.2,283.0 845.4,282.8 845.6,283.4 845.8,284.3 846.0,282.1 846.2,283.7 846.4,283.5 846.6,284.2 846.8,283.8 847.0,283.2 847.2,282.9 847.4,281.3 847.6,284.9 847.8,282.5 848.0,283.6 848.2,285.8 848.4,283.8 848.6,284.9 848.8,284.1 849.0,285.1 849.2,284.5 849.4,284.0 849.6,286.0 849.8,284.4 850.0,283.4 850.2,284.5 850.4,285.4 850.6,283.8 850.8,285.8 851.0,285.8 851.2,287.3 851.4,284.5 851.6,285.9 851.8,283.6 852.0,285.0 852.2,285.6 852.4,285.9 852.6,285.5 852.8,285.6 853.0,285.1 853.2,285.3 853.4,286.2 853.6,286.5 853.8,286.6 854.0,287.1 854.2,287.3 854.4,284.4 854.6,285.7 854.8,286.2 855.0,285.7 855.2,287.5 855.4,287.3 855.6,286.5 855.8,286.8 856.0,288.0 856.2,286.4 856.4,286.5 856.6,287.8 856.8,287.5 857.0,288.5 857.2,287.5 857.4,287.9 857.6,286.7 857.8,286.4 858.0,287.4 858.2,284.7 858.4,287.9 858.6,288.6 858.8,287.7 859.0,287.5 859.2,288.9 859.4,287.8 859.6,288.9 859.8,290.2 860.0,288.8 860.2,289.0 860.4,288.7 860.6,288.5 860.8,288.6 861.0,288.4 861.2,289.5 861.4,286.8 861.6,288.3 861.8,289.3 862.0,287.8 862.2,288.6 862.4,288.1 862.6,289.3 862.8,289.8 863.0,290.5 863.2,289.6 863.4,288.4 863.6,289.4 863.8,289.8 864.0,290.7 864.2,287.2 864.4,289.8 864.6,287.6 864.8,290.3 865.0,290.1 865.2,290.2 865.4,290.6 865.6,290.2 865.8,289.2 866.0,290.3 866.2,291.2 866.4,289.9 866.6,290.2 866.8,289.0 867.0,291.4 867.2,289.8 867.4,289.6 867.6,290.0 867.8,289.6 868.0,290.3 868.2,291.9 868.4,291.5 868.6,292.2 868.8,292.3 869.0,290.0 869.2,291.4 869.4,292.5 869.6,293.4 869.8,289.7 870.0,289.7 870.2,291.7 870.4,291.0 870.6,290.4 870.8,291.8 871.0,290.7 871.2,289.2 871.4,291.6 871.6,291.8 871.8,292.4 872.0,292.7 872.2,292.0 872.4,291.7 872.6,291.3 872.8,290.4 873.0,291.6 873.2,293.2 873.4,292.9 873.6,294.3 873.8,292.2 874.0,290.6 874.2,293.3 874.4,293.6 874.6,291.4 874.8,291.0 875.0,292.8 875.2,293.5 875.4,291.7 875.6,292.5 875.8,292.1 876.0,291.8 876.2,291.7 876.4,293.2 876.6,292.8 876.8,292.5 877.0,290.6 877.2,295.1 877.4,292.4 877.6,293.3 877.8,292.4 878.0,294.0 878.2,292.1 878.4,293.8 878.6,293.6 878.8,294.7 879.0,292.7 879.2,293.3 879.4,293.7 879.6,296.2 879.8,292.6 880.0,294.4 880.2,293.5 880.4,294.6 880.6,295.0 880.8,294.5 881.0,294.7 881.2,294.8 881.4,294.0 881.6,294.4 881.8,293.0 882.0,294.4 882.2,294.0 882.4,294.6 882.6,295.6 882.8,295.3 883.0,295.5 883.2,296.2 883.4,292.7 883.6,295.6 883.8,295.2 884.0,295.2 884.2,294.0 884.4,296.0 884.6,296.6 884.8,296.6 885.0,295.5 885.2,296.3 885.4,296.6 885.6,297.6 885.8,297.1 886.0,296.0 886.2,296.0 886.4,296.2 886.6,296.3 886.8,295.6 887.0,296.9 887.2,295.5 887.4,295.5 887.6,296.7 887.8,295.8 888.0,296.2 888.2,294.4 888.4,297.4 888.6,296.6 888.8,296.5 889.0,297.2 889.2,297.0 889.4,296.1 889.6,298.9 889.8,296.5 890.0,298.0 890.2,298.9 890.4,296.5 890.6,297.3 890.8,296.4 891.0,298.3 891.2,297.0 891.4,296.3 891.6,298.8 891.8,298.4 892.0,296.7 892.2,298.8 892.4,297.9 892.6,300.5 892.8,299.5 893.0,297.3 893.2,297.6 893.4,297.1 893.6,298.2 893.8,298.1 894.0,298.9 894.2,298.3 894.4,296.8 894.6,297.5 894.8,299.8 895.0,299.6 895.2,298.3 895.4,298.4 895.6,298.4 895.8,298.7 896.0,297.0 896.2,299.7 896.4,298.2 896.6,299.0 896.8,296.4 897.0,299.2 897.2,300.4 897.4,296.9 897.6,300.7 897.8,299.7 898.0,298.6 898.2,297.8 898.4,300.6 898.6,299.7 898.8,300.1 899.0,299.3 899.2,298.8 899.4,300.6 899.6,298.8 899.8,300.7 900.0,298.2 900.2,299.0 900.4,298.5 900.6,301.4 900.8,298.3 901.0,299.0 901.2,300.9 901.4,300.5 901.6,302.6 901.8,302.3 902.0,301.1 902.2,301.2 902.4,298.7 902.6,299.7 902.8,300.3 903.0,300.6 903.2,299.4 903.4,299.9 903.6,300.0 903.8,302.0 904.0,301.4 904.2,300.7 904.4,300.8 904.6,301.5 904.8,300.5 905.0,301.0 905.2,299.6 905.4,302.1 905.6,302.4 905.8,301.9 906.0,302.1 906.2,302.0 906.4,303.7 906.6,301.9 906.8,300.4 907.0,300.8 907.2,302.6 907.4,303.0 907.6,302.8 907.8,302.9 908.0,302.3 908.2,300.7 908.4,301.5 908.6,300.4 908.8,301.9 909.0,301.0 909.2,302.5 909.4,302.3 909.6,300.6 909.8,303.3 910.0,303.4 910.2,301.3 910.4,302.9 910.6,303.5 910.8,302.6 911.0,303.8 911.2,303.1 911.4,304.1 911.6,303.2 911.8,302.9 912.0,303.7 912.2,304.0 912.4,303.5 912.6,302.8 912.8,302.5 913.0,303.0 913.2,302.9 913.4,303.7 913.6,303.7 913.8,303.5 914.0,303.6 914.2,303.9 914.4,305.3 914.6,305.0 914.8,303.2 915.0,304.3 915.2,303.6 915.4,303.9 915.6,303.8 915.8,303.4 916.0,302.7 916.2,301.6 916.4,304.4 916.6,305.5 916.8,303.4 917.0,304.9 917.2,304.0 917.4,304.7 917.6,303.6 917.8,304.3 918.0,304.4 918.2,302.2 918.4,304.9 918.6,304.5 918.8,302.2 919.0,305.4 919.2,304.8 919.4,305.1 919.6,305.3 919.8,304.5 920.0,303.9 920.2,304.6 920.4,304.6 920.6,307.4 920.8,307.0 921.0,304.7 921.2,304.8 921.4,305.6 921.6,305.9 921.8,304.6 922.0,304.3 922.2,307.4 922.4,306.5 922.6,303.9 922.8,303.7 923.0,304.7 923.2,305.8 923.4,306.2 923.6,305.3 923.8,304.0 924.0,306.0 924.2,306.4 924.4,305.8 924.6,305.3 924.8,306.5 925.0,305.9 925.2,304.8 925.4,306.1 925.6,304.7 925.8,307.0 926.0,306.6 926.2,305.1 926.4,306.4 926.6,307.5 926.8,304.0 927.0,306.1 927.2,308.0 927.4,304.7 927.6,306.2 927.8,304.9 928.0,306.3 928.2,304.0 928.4,304.8 928.6,306.0 928.8,306.7 929.0,307.0 929.2,307.1 929.4,307.8 929.6,307.4 929.8,307.5 930.0,305.7 930.2,306.6 930.4,310.1 930.6,309.2 930.8,307.7 931.0,307.7 931.2,308.0 931.4,306.5 931.6,309.0 931.8,306.6 932.0,307.0 932.2,309.4 932.4,305.0 932.6,307.5 932.8,305.4 933.0,306.5 933.2,307.2 933.4,306.9 933.6,307.5 933.8,306.5 934.0,307.3 934.2,306.2 934.4,307.0 934.6,306.0 934.8,308.2 935.0,306.2 935.2,308.3 935.4,307.2 935.6,307.3 935.8,308.9 936.0,307.8 936.2,305.8 936.4,308.3 936.6,304.8 936.8,308.1 937.0,307.4 937.2,306.4 937.4,308.0 937.6,307.6 937.8,310.1 938.0,307.6 938.2,310.1 938.4,309.5 938.6,307.5 938.8,307.3 939.0,309.6 939.2,308.1 939.4,308.4 939.6,308.0 939.8,307.1 940.0,308.0 940.2,307.4 940.4,306.8 940.6,308.2 940.8,310.4 941.0,310.2 941.2,308.5 941.4,308.8 941.6,309.2 941.8,310.1 942.0,309.1 942.2,308.3 942.4,308.4 942.6,310.0 942.8,311.6 943.0,308.2 943.2,306.8 943.4,309.8 943.6,308.9 943.8,309.2 944.0,310.4 944.2,309.2 944.4,307.8 944.6,307.1 944.8,309.2 945.0,308.0 945.2,309.6 945.4,308.0 945.6,309.0 945.8,307.9 946.0,309.1 946.2,309.0 946.4,310.1 946.6,311.0 946.8,309.4 947.0,308.7 947.2,311.7 947.4,310.1 947.6,310.4 947.8,310.4 948.0,311.3 948.2,310.9 948.4,310.6 948.6,310.7 948.8,309.1 949.0,309.4 949.2,309.9 949.4,310.2 949.6,310.1 949.8,310.5 950.0,310.2 950.2,309.8 950.4,308.5 950.6,311.2 950.8,310.9 951.0,309.4 951.2,310.9 951.4,310.9 951.6,310.5 951.8,308.6 952.0,309.3 952.2,309.9 952.4,312.3 952.6,309.7 952.8,310.3 953.0,309.6 953.2,310.2 953.4,311.2 953.6,308.6 953.8,307.9 954.0,311.6 954.2,311.0 954.4,310.3 954.6,312.0 954.8,312.1 955.0,308.9 955.2,310.9 955.4,312.3 955.6,310.5 955.8,310.9 956.0,312.3 956.2,311.0 956.4,310.1 956.6,310.6 956.8,310.0 957.0,312.0 957.2,309.7 957.4,312.6 957.6,309.8 957.8,311.6 958.0,310.1 958.2,311.3 958.4,312.8 958.6,312.9 958.8,313.1 959.0,311.7 959.2,311.9 959.4,312.1 959.6,312.6 959.8,311.5 960.0,313.1 960.2,312.4 960.4,313.3 960.6,312.6 960.8,312.8 961.0,311.4 961.2,311.7 961.4,310.8 961.6,311.9 961.8,312.1 962.0,313.2 962.2,311.0 962.4,315.8 962.6,312.3 962.8,313.8 963.0,313.6 963.2,309.8 963.4,312.3 963.6,314.1 963.8,310.0 964.0,313.5 964.2,311.7 964.4,312.2 964.6,313.0 964.8,310.8 965.0,313.0 965.2,312.2 965.4,312.1 965.6,313.7 965.8,316.7 966.0,313.3 966.2,313.6 966.4,313.0 966.6,312.3 966.8,313.4 967.0,314.8 967.2,313.4 967.4,314.2 967.6,313.0 967.8,315.9 968.0,311.6 968.2,314.0 968.4,313.9 968.6,313.7 968.8,312.3 969.0,312.3 969.2,313.3 969.4,313.6 969.6,312.3 969.8,312.5 970.0,314.2 970.2,314.8 970.4,313.1 970.6,313.0 970.8,313.0 971.0,316.4 971.2,314.3 971.4,313.8 971.6,315.0 971.8,316.4 972.0,315.2 972.2,312.5 972.4,313.9 972.6,313.6 972.8,313.7 973.0,312.8 973.2,313.7 973.4,313.0 973.6,314.6 973.8,314.3 974.0,312.8 974.2,312.5 974.4,313.8 974.6,315.1 974.8,314.9 975.0,314.4 975.2,311.0 975.4,314.0 975.6,313.8 975.8,314.2 976.0,313.3 976.2,314.2 976.4,314.0 976.6,317.6 976.8,315.5 977.0,314.6 977.2,314.7 977.4,314.7 977.6,315.1 977.8,314.5 978.0,314.9 978.2,316.1 978.4,315.9 978.6,315.4 978.8,316.5 979.0,315.3 979.2,314.1 979.4,313.3 979.6,314.5 979.8,315.2 980.0,315.7 980.2,316.4 980.4,314.7 980.6,314.5 980.8,316.2 981.0,316.7 981.2,314.9 981.4,315.8 981.6,317.0 981.8,315.9 982.0,315.5 982.2,313.4 982.4,317.1 982.6,316.4 982.8,315.9 983.0,315.3 983.2,314.5 983.4,315.7 983.6,315.7 983.8,317.1 984.0,314.6 984.2,317.5 984.4,316.0 984.6,317.3 984.8,315.0 985.0,316.5 985.2,317.4 985.4,316.3 985.6,314.6 985.8,315.9 986.0,316.8 986.2,314.8 986.4,314.8 986.6,316.6 986.8,315.4 987.0,317.2 987.2,315.2 987.4,314.6 987.6,315.7 987.8,318.2 988.0,315.7 988.2,316.6 988.4,317.0 988.6,315.7 988.8,317.9 989.0,317.0 989.2,317.3 989.4,315.1 989.6,315.0 989.8,314.0 990.0,316.8 990.2,316.8 990.4,317.8 990.6,318.6 990.8,316.8 991.0,316.8 991.2,317.6 991.4,318.8 991.6,316.4 991.8,317.9 992.0,317.0 992.2,317.0 992.4,318.2 992.6,316.6 992.8,316.3 993.0,318.2 993.2,317.5 993.4,317.3 993.6,317.4 993.8,318.1 994.0,317.2 994.2,318.5 994.4,318.1 994.6,319.3 994.8,319.1 995.0,318.7 995.2,317.6 995.4,318.0 995.6,317.3 995.8,321.0 996.0,317.7 996.2,318.6 996.4,319.5 996.6,316.6 996.8,317.2 997.0,317.7 997.2,317.1 997.4,316.8 997.6,317.7 997.8,319.6 998.0,319.0 998.2,318.3 998.4,318.4 998.6,316.6 998.8,319.1 999.0,318.9 999.2,317.3 999.4,318.7 999.6,318.3 999.8,318.0 1000.0,317.5 1000.2,317.9 1000.4,317.6 1000.6,319.1 1000.8,319.1 1001.0,319.1 1001.2,318.5 1001.4,318.3 1001.6,321.0 1001.8,316.8 1002.0,320.1 1002.2,319.3 1002.4,319.0 1002.6,318.4 1002.8,318.7 1003.0,317.7 1003.2,317.5 1003.4,318.9 1003.6,317.3 1003.8,320.0 1004.0,320.3 1004.2,315.5 1004.4,317.5 1004.6,319.5 1004.8,319.5 1005.0,319.4 1005.2,319.7 1005.4,320.1 1005.6,320.3 1005.8,321.3 1006.0,319.4 1006.2,320.3 1006.4,317.7 1006.6,319.3 1006.8,318.2 1007.0,321.0 1007.2,322.0 1007.4,320.2 1007.6,318.2 1007.8,319.5 1008.0,319.7 1008.2,319.9 1008.4,320.9 1008.6,320.8 1008.8,317.0 1009.0,321.2 1009.2,319.3 1009.4,319.3 1009.6,321.4 1009.8,319.6 1010.0,318.5 1010.2,318.5 1010.4,320.0 1010.6,321.0 1010.8,321.6 1011.0,319.9 1011.2,319.6 1011.4,321.8 1011.6,319.6 1011.8,321.7 1012.0,320.4 1012.2,320.4 1012.4,320.0 1012.6,320.6 1012.8,319.8 1013.0,319.6 1013.2,320.2 1013.4,319.7 1013.6,320.7 1013.8,320.5 1014.0,320.1 1014.2,320.2 1014.4,320.2 1014.6,322.3 1014.8,320.5 1015.0,319.9 1015.2,320.2 1015.4,321.3 1015.6,320.4 1015.8,320.5 1016.0,320.4 1016.2,320.8 1016.4,321.1 1016.6,321.2 1016.8,319.0 1017.0,319.6 1017.2,318.0 1017.4,321.6 1017.6,322.0 1017.8,322.2 1018.0,321.0 1018.2,322.1 1018.4,320.9 1018.6,320.8 1018.8,319.3 1019.0,320.1" fill="none" stroke="#00b050" stroke-width="2.2" stroke-linejoin="round"/>
<path d="M110.0,466.5 110.2,466.1 110.5,465.6 110.8,465.9 111.0,465.5 111.2,466.3 111.5,467.2 111.8,465.8 112.0,465.7 112.2,466.6 112.5,466.4 112.8,466.2 113.0,465.4 113.2,466.1 113.5,466.6 113.8,465.1 114.0,465.7 114.2,464.6 114.5,465.1 114.8,464.6 115.0,465.9 115.2,465.1 115.5,466.2 115.8,464.0 116.0,452.9 116.2,449.1 116.5,448.6 116.8,447.0 117.0,445.2 117.2,441.9 117.5,441.7 117.8,440.6 118.0,440.0 118.2,440.7 118.5,438.5 118.8,438.3 119.0,438.3 119.2,436.4 119.5,436.0 119.8,435.4 120.0,434.6 120.2,432.9 120.5,433.2 120.8,433.4 121.0,430.4 121.2,431.5 121.5,429.6 121.8,427.5 122.0,428.0 122.2,425.6 122.5,422.6 122.8,422.1 123.0,420.9 123.2,418.9 123.5,418.4 123.8,416.9 124.0,416.5 124.2,416.1 124.5,413.6 124.8,413.4 125.0,412.5 125.2,412.6 125.5,411.2 125.8,411.3 126.0,411.2 126.2,411.6 126.5,411.5 126.8,409.2 127.0,409.2 127.2,409.9 127.5,407.6 127.8,408.3 128.0,408.2 128.2,408.9 128.5,408.1 128.8,406.9 129.0,406.5 129.2,406.2 129.5,407.2 129.8,405.4 130.0,405.1 130.2,403.9 130.5,401.9 130.8,398.8 131.0,395.2 131.2,393.0 131.5,389.7 131.8,390.1 132.0,389.0 132.2,387.7 132.5,387.5 132.8,386.5 133.0,387.4 133.2,386.4 133.5,386.6 133.8,384.9 134.0,386.0 134.2,384.2 134.5,383.7 134.8,384.8 135.0,384.2 135.2,384.8 135.5,386.1 135.8,383.6 136.0,383.5 136.2,382.4 136.5,380.9 136.8,378.6 137.0,376.8 137.2,375.8 137.5,373.9 137.8,371.0 138.0,369.9 138.2,369.9 138.5,369.0 138.8,369.9 139.0,368.9 139.2,370.2 139.5,369.6 139.8,369.4 140.0,368.8 140.2,369.0 140.5,367.5 140.8,368.0 141.0,369.1 141.2,367.1 141.5,369.3 141.8,367.2 142.0,369.0 142.2,367.7 142.5,368.8 142.8,368.2 143.0,366.8 143.2,368.9 143.5,368.9 143.8,367.7 144.0,367.4 144.2,367.4 144.5,365.3 144.8,365.0 145.0,361.8 145.2,360.3 145.5,357.9 145.8,356.1 146.0,353.8 146.2,353.8 146.5,352.3 146.8,352.9 147.0,352.1 147.2,351.4 147.5,351.5 147.8,351.1 148.0,351.4 148.2,351.0 148.5,350.9 148.8,349.9 149.0,350.2 149.2,351.9 149.5,349.9 149.8,349.5 150.0,350.4 150.2,351.1 150.5,348.7 150.8,349.5 151.0,349.0 151.2,346.8 151.5,347.4 151.8,345.5 152.0,344.3 152.2,342.4 152.5,342.0 152.8,339.9 153.0,338.9 153.2,338.2 153.5,338.2 153.8,340.1 154.0,338.8 154.2,339.4 154.5,339.2 154.8,339.0 155.0,338.9 155.2,339.9 155.5,339.2 155.8,339.3 156.0,339.5 156.2,340.4 156.5,340.1 156.8,339.9 157.0,339.2 157.2,338.7 157.5,340.5 157.8,340.5 158.0,339.7 158.2,340.3 158.5,340.5 158.8,340.6 159.0,340.7 159.2,338.3 159.5,338.4 159.8,335.0 160.0,335.2 160.2,333.6 160.5,332.5 160.8,331.9 161.0,330.2 161.2,326.9 161.5,325.1 161.8,325.9 162.0,324.6 162.2,325.4 162.5,326.1 162.8,324.2 163.0,323.9 163.2,325.8 163.5,325.6 163.8,325.5 164.0,325.7 164.2,325.1 164.5,324.6 164.8,325.7 165.0,325.1 165.2,324.7 165.5,326.4 165.8,325.7 166.0,324.7 166.2,322.3 166.5,321.2 166.8,319.6 167.0,318.4 167.2,317.9 167.5,315.8 167.8,315.6 168.0,315.7 168.2,317.1 168.5,314.6 168.8,316.4 169.0,315.8 169.2,316.0 169.5,315.0 169.8,315.9 170.0,316.9 170.2,316.4 170.5,316.6 170.8,316.5 171.0,317.7 171.2,316.9 171.5,315.3 171.8,316.6 172.0,315.7 172.2,314.9 172.5,317.1 172.8,318.6 173.0,317.7 173.2,316.9 173.5,317.2 173.8,318.6 174.0,316.4 174.2,314.9 174.5,313.4 174.8,312.1 175.0,311.3 175.2,309.7 175.5,308.0 175.8,305.6 176.0,305.4 176.2,303.1 176.5,304.2 176.8,302.5 177.0,303.4 177.2,303.6 177.5,302.7 177.8,305.1 178.0,305.0 178.2,303.6 178.5,304.7 178.8,304.4 179.0,302.3 179.2,304.5 179.5,304.4 179.8,304.6 180.0,303.8 180.2,304.5 180.5,303.6 180.8,303.5 181.0,301.7 181.2,300.2 181.5,300.2 181.8,297.5 182.0,296.4 182.2,294.2 182.5,296.7 182.8,296.5 183.0,296.7 183.2,296.8 183.5,296.6 183.8,296.9 184.0,296.8 184.2,297.1 184.5,297.5 184.8,298.9 185.0,298.4 185.2,298.2 185.5,298.1 185.8,298.3 186.0,300.2 186.2,299.6 186.5,299.6 186.8,299.5 187.0,299.2 187.2,300.2 187.5,301.2 187.8,300.2 188.0,299.3 188.2,298.3 188.5,297.5 188.8,295.2 189.0,295.2 189.2,293.7 189.5,294.0 189.8,291.7 190.0,291.7 190.2,291.4 190.3,288.6" fill="none" stroke="#ff00ff" stroke-width="1.6" stroke-linejoin="round"/>
<path d="M190.3,288.6 190.5,286.8 190.7,286.0 190.9,287.2 191.1,288.5 191.3,286.7 191.5,286.7 191.7,286.1 191.9,287.2 192.1,286.0 192.3,286.1 192.5,288.0 192.7,286.3 192.9,287.9 193.1,288.2 193.3,287.2 193.5,287.5 193.7,288.6 193.9,286.9 194.1,286.6 194.3,286.0 194.5,287.1 194.7,288.2 194.9,287.8 195.1,286.3 195.3,286.4 195.5,285.9 195.7,285.3 195.9,283.7 196.1,282.8 196.3,281.6 196.5,279.9 196.7,279.7 196.9,280.0 197.1,279.9 197.3,280.4 197.5,281.6 197.7,280.7 197.9,280.4 198.1,279.1 198.3,280.9 198.5,279.1 198.7,279.6 198.9,281.6 199.1,281.6 199.3,281.0 199.5,279.8 199.7,281.0 199.9,280.9 200.1,282.1 200.3,283.5 200.5,282.0 200.7,281.3 200.9,281.1 201.1,282.1 201.3,282.2 201.5,281.5 201.7,282.6 201.9,281.7 202.1,283.7 202.3,283.8 202.5,283.9 202.7,282.8 202.9,283.7 203.1,283.3 203.3,283.2 203.5,283.4 203.7,282.8 203.9,281.5 204.1,281.4 204.3,278.7 204.5,277.0 204.7,275.7 204.9,271.6 205.1,270.9 205.3,271.7 205.5,271.9 205.7,271.3 205.9,272.5 206.1,271.9 206.3,270.8 206.5,271.0 206.7,272.5 206.9,272.2 207.1,270.4 207.3,273.0 207.5,272.4 207.7,273.1 207.9,271.7 208.1,271.8 208.3,271.2 208.5,274.2 208.7,272.1 208.9,273.5 209.1,271.8 209.3,272.4 209.5,271.0 209.7,272.1 209.9,273.2 210.1,270.6 210.3,271.2 210.5,269.5 210.7,267.2 210.9,266.4 211.1,265.3 211.3,265.4 211.5,265.2 211.7,265.1 211.9,265.7 212.1,265.2 212.3,265.2 212.5,266.3 212.7,267.2 212.9,265.4 213.1,266.8 213.3,266.4 213.5,266.3 213.7,267.9 213.9,267.0 214.1,268.7 214.3,267.0 214.5,268.1 214.7,267.8 214.9,267.5 215.1,268.7 215.3,268.3 215.5,269.0 215.7,268.7 215.9,268.0 216.1,268.9 216.3,269.2 216.5,270.1 216.7,268.7 216.9,269.6 217.1,268.4 217.3,270.4 217.5,269.2 217.7,268.8 217.9,270.3 218.1,271.4 218.3,269.5 218.5,268.4 218.7,266.8 218.9,264.5 219.1,263.8 219.3,261.0 219.5,259.1 219.7,259.0 219.9,258.0 220.1,259.0 220.3,257.9 220.5,257.8 220.7,257.3 220.9,260.4 221.1,258.7 221.3,259.2 221.5,259.0 221.7,259.2 221.9,259.2 222.1,260.7 222.3,258.4 222.5,258.0 222.7,258.5 222.9,258.3 223.1,260.1 223.3,260.2 223.5,258.8 223.7,258.5 223.9,259.4 224.1,260.8 224.3,257.5 224.5,260.3 224.7,257.9 224.9,258.5 225.1,255.6 225.3,255.1 225.5,252.9 225.7,252.2 225.9,254.1 226.1,253.8 226.3,252.9 226.5,252.7 226.7,252.1 226.9,253.4 227.1,253.9 227.3,254.0 227.5,254.1 227.7,253.4 227.9,254.4 228.1,254.6 228.3,255.8 228.5,256.4 228.7,255.0 228.9,254.6 229.1,255.4 229.3,255.1 229.5,255.1 229.7,255.8 229.9,255.2 230.1,256.7 230.3,256.2 230.5,256.7 230.7,256.5 230.9,256.2 231.1,256.2 231.3,256.9 231.5,256.8 231.7,257.6 231.9,257.5 232.1,256.6 232.3,257.9 232.5,256.9 232.7,257.6 232.9,258.0 233.1,254.9 233.3,254.7 233.5,252.8 233.7,250.7 233.9,248.5 234.1,246.6 234.3,245.3 234.5,245.9 234.7,245.8 234.9,246.3 235.1,245.4 235.3,246.6 235.5,246.5 235.7,246.4 235.9,246.2 236.1,247.0 236.3,245.3 236.5,247.1 236.7,246.9 236.9,247.0 237.1,247.2 237.3,246.4 237.5,246.8 237.7,247.5 237.9,247.4 238.1,247.3 238.3,246.0 238.5,247.7 238.7,248.3 238.9,248.2 239.1,247.6 239.3,245.0 239.5,245.8 239.7,243.8 239.9,240.7 240.1,241.9 240.3,239.3 240.5,239.6 240.7,240.3 240.9,242.0 241.1,240.8 241.3,241.5 241.5,242.9 241.7,242.9 241.9,241.7 242.1,241.8 242.3,241.1 242.5,241.7 242.7,242.8 242.9,242.9 243.1,242.9 243.3,243.8 243.5,242.5 243.7,243.3 243.9,244.1 244.1,244.1 244.3,244.7 244.5,244.3 244.7,243.9 244.9,244.6 245.1,243.7 245.3,243.4 245.5,245.3 245.7,245.0 245.9,245.4 246.1,244.0 246.3,245.2 246.5,245.2 246.7,245.2 246.9,244.3 247.1,246.0 247.3,247.1 247.5,246.8 247.7,244.1 247.9,242.7 248.1,241.4 248.3,236.7 248.5,236.9 248.7,235.6 248.9,235.2 249.1,236.1 249.3,235.7 249.5,235.1 249.7,235.2 249.9,235.7 250.1,234.7 250.3,235.2 250.5,236.0 250.7,237.0 250.9,235.3 251.1,235.5 251.3,235.8 251.5,236.8 251.7,235.8 251.9,237.1 252.1,235.2 252.3,235.9 252.5,236.0 252.7,236.9 252.9,237.2 253.1,235.2 253.3,235.8 253.5,236.9 253.7,235.9 253.9,234.1 254.1,235.0 254.3,233.5 254.5,232.3 254.7,230.4 254.9,230.8 255.1,229.9 255.3,231.2 255.5,229.8 255.7,230.0 255.9,231.0 256.1,230.5 256.3,231.8 256.5,231.7 256.7,230.9 256.9,231.9 257.1,231.8 257.3,233.0 257.5,231.9 257.7,232.3 257.9,233.8 258.1,234.8 258.3,234.8 258.5,233.5 258.7,233.8 258.9,235.1 259.1,234.0 259.3,233.5 259.5,234.6 259.7,235.0 259.9,234.2 260.1,233.8 260.3,234.1 260.5,236.0 260.7,235.1 260.9,235.8 261.1,236.3 261.3,236.8 261.5,236.3 261.7,237.2 261.9,236.3 262.1,236.5 262.3,234.1 262.5,234.0 262.7,231.2 262.9,228.8 263.1,227.2 263.3,225.5 263.5,226.0 263.7,224.3 263.9,224.9 264.1,225.5 264.3,228.0 264.5,226.8 264.7,226.1 264.9,226.9 265.1,228.1 265.3,226.4 265.5,226.4 265.7,227.8 265.9,227.3 266.1,227.6 266.3,226.8 266.5,228.8 266.7,228.8 266.9,228.0 267.1,228.2 267.3,226.2 267.5,228.4 267.7,227.9 267.9,228.5 268.1,228.8 268.3,227.7 268.5,225.5 268.7,226.1 268.9,224.1 269.1,223.3 269.3,222.0 269.5,221.6 269.7,220.2 269.9,223.3 270.1,222.8 270.3,223.7 270.5,224.6 270.7,223.2 270.9,222.0 271.1,223.0 271.3,222.9 271.5,223.7 271.7,224.4 271.9,223.0 272.1,225.1 272.3,223.8 272.5,225.5 272.7,225.4 272.9,225.5 273.1,225.9 273.3,225.7 273.5,225.9 273.7,225.3 273.9,226.8 274.1,228.6 274.3,228.9 274.5,228.6 274.7,228.3 274.9,227.5 275.1,229.4 275.3,228.4 275.5,228.6 275.7,228.7 275.9,229.2 276.1,229.0 276.3,229.5 276.5,228.9 276.7,229.0 276.9,229.3 277.1,225.6 277.3,223.6 277.5,222.4 277.7,220.6 277.9,217.3 278.1,218.2 278.3,219.2 278.5,218.8 278.7,218.8 278.9,220.1 279.1,218.5 279.3,219.2 279.5,218.8 279.7,220.6 279.9,217.9 280.1,219.1 280.3,219.3 280.5,220.4 280.7,220.5 280.9,221.2 281.1,219.0 281.3,221.0 281.5,220.3 281.7,220.1 281.9,221.2 282.1,220.1 282.3,219.3 282.5,220.8 282.7,220.0 282.9,220.2 283.1,220.0 283.3,218.8 283.5,218.7 283.7,216.2 283.9,214.0 284.1,214.2 284.3,214.3 284.5,214.3 284.7,215.8 284.9,215.2 285.1,214.4 285.3,216.7 285.5,216.3 285.7,216.9 285.9,216.9 286.1,217.6 286.3,217.3 286.5,218.5 286.7,218.1 286.9,218.3 287.1,218.5 287.3,217.2 287.5,218.5 287.7,218.6 287.9,219.2 288.1,218.2 288.3,220.8 288.5,219.8 288.7,219.0 288.9,218.8 289.1,220.2 289.3,220.6 289.5,220.3 289.7,221.2 289.9,220.8 290.1,222.0 290.3,221.2 290.5,222.0 290.7,223.0 290.9,224.5 291.1,221.8 291.3,221.5 291.5,219.3 291.7,218.8 291.9,215.4 292.1,214.1 292.3,212.6 292.5,210.3 292.7,210.4 292.9,210.9 293.1,209.7 293.3,210.4 293.5,211.3 293.7,211.9 293.9,211.8 294.1,210.6 294.3,211.8 294.5,212.9 294.7,212.9 294.9,212.5 295.1,212.0 295.3,213.3 295.5,212.5 295.7,212.1 295.9,212.5 296.1,214.4 296.3,213.6 296.5,214.5 296.7,213.3 296.9,214.5 297.1,213.4 297.3,213.9 297.5,215.3 297.7,212.9 297.9,210.7 298.1,210.0 298.3,209.2 298.5,208.8 298.7,207.2 298.9,206.4 299.1,207.8 299.3,208.3 299.5,208.5 299.7,209.7 299.9,209.1 300.1,209.8 300.3,208.4 300.5,210.2 300.7,211.4 300.9,210.6 301.1,210.4 301.3,210.5 301.5,212.1 301.7,210.1 301.9,211.0 302.1,211.6 302.3,212.1 302.5,211.3 302.7,212.2 302.9,211.9 303.1,212.4 303.3,212.4 303.5,211.9 303.7,213.0 303.9,213.9 304.1,212.6 304.3,213.4 304.5,214.4 304.7,213.2 304.9,214.4 305.1,213.6 305.3,215.6 305.5,216.7 305.7,216.7 305.9,213.8 306.1,212.7 306.3,210.3 306.5,208.5 306.7,207.8 306.9,203.6 307.1,204.2 307.3,203.5 307.5,204.7 307.7,203.9 307.9,203.3 308.1,204.2 308.3,204.7 308.5,204.2 308.7,204.7 308.9,204.0 309.1,202.8 309.3,205.4 309.5,205.3 309.7,205.0 309.9,205.0 310.1,205.9 310.3,204.8 310.5,204.7 310.7,205.3 310.9,206.5 311.1,204.5 311.3,206.7 311.5,205.4 311.7,205.1 311.9,207.1 312.1,205.1 312.3,203.1 312.5,202.7 312.7,202.6 312.9,201.7 313.1,199.3 313.3,199.9 313.5,200.4 313.7,199.5 313.9,200.5 314.1,200.4 314.3,200.2 314.5,200.5 314.7,201.1 314.9,201.3 315.1,201.1 315.3,201.4 315.5,202.8 315.7,202.3 315.9,203.1 316.1,203.5 316.3,203.2 316.5,204.8 316.7,202.5 316.9,204.1 317.1,203.4 317.3,205.3 317.5,205.4 317.7,202.7 317.9,203.7 318.1,205.2 318.3,205.5 318.5,205.7 318.7,205.3 318.9,205.9 319.1,206.3 319.3,205.9 319.5,207.0 319.7,204.6 319.9,207.2 320.1,206.0 320.3,207.8 320.5,205.5 320.7,203.1 320.9,202.2 321.1,199.4 321.3,197.5 321.5,195.1 321.7,195.4 321.9,195.9 322.1,196.5 322.3,195.7 322.5,196.7 322.7,196.0 322.9,196.1 323.1,196.7 323.3,197.2 323.5,196.2 323.7,196.4 323.9,196.6 324.1,196.9 324.3,196.3 324.5,197.9 324.7,196.9 324.9,197.7 325.1,196.8 325.3,197.9 325.5,198.0 325.7,197.5 325.9,199.6 326.1,198.4 326.3,199.6 326.5,199.1 326.7,196.7 326.9,195.9 327.1,195.4 327.3,194.0 327.5,192.9 327.7,191.5 327.9,190.5 328.1,192.0 328.3,190.6 328.5,192.9 328.7,192.2 328.9,192.4 329.1,193.1 329.3,193.7 329.5,192.5 329.7,192.5 329.9,193.3 330.1,192.7 330.3,193.8 330.5,196.1 330.7,194.2 330.9,195.7 331.1,194.4 331.3,195.9 331.5,195.6 331.7,196.1 331.9,196.8 332.1,198.0 332.3,196.9 332.5,197.1 332.7,196.5 332.9,197.9 333.1,197.5 333.3,198.6 333.5,198.1 333.7,199.7 333.9,197.0 334.1,198.6 334.3,199.7 334.5,199.0 334.7,198.8 334.9,199.5 335.1,196.8 335.3,196.2 335.5,196.2 335.7,193.3 335.9,189.7 336.1,188.0 336.3,187.7 336.5,189.0 336.7,187.7 336.9,187.9 337.1,189.3 337.3,189.4 337.5,188.5 337.7,188.1 337.9,187.9 338.1,188.7 338.3,187.6 338.5,190.1 338.7,189.1 338.9,190.1 339.1,191.4 339.3,191.0 339.5,189.2 339.7,191.0 339.9,191.3 340.1,190.0 340.3,189.9 340.5,190.7 340.7,189.7 340.9,192.3 341.1,189.2 341.3,189.1 341.5,188.7 341.7,187.6 341.9,186.9 342.1,185.9 342.3,184.5 342.5,185.8 342.7,183.4 342.9,185.4 343.1,185.0 343.3,185.9 343.5,186.2 343.7,185.6 343.9,186.0 344.1,187.4 344.3,187.3 344.5,186.7 344.7,189.1 344.9,189.5 345.1,186.8 345.3,188.4 345.5,190.4 345.7,189.2 345.9,189.0 346.1,188.9 346.3,188.9 346.5,189.4 346.7,189.3 346.9,190.6 347.1,189.9 347.3,190.1 347.5,189.8 347.7,190.9 347.9,190.5 348.1,191.3 348.3,192.5 348.5,192.2 348.7,192.5 348.9,192.6 349.1,192.6 349.3,192.7 349.5,192.6 349.7,191.6 349.9,188.3 350.1,188.4 350.3,185.6 350.5,183.1 350.7,181.5 350.9,181.0 351.1,181.8 351.3,181.2 351.5,182.8 351.7,181.4 351.9,180.4 352.1,181.8 352.3,180.9 352.5,182.6 352.7,183.6 352.9,183.4 353.1,182.0 353.3,182.6 353.5,184.8 353.7,183.7 353.9,183.6 354.1,184.6 354.3,185.9 354.5,185.1 354.7,184.3 354.9,184.6 355.1,185.0 355.3,184.1 355.5,183.9 355.7,184.6 355.9,182.8 356.1,182.4 356.3,181.4 356.5,182.2 356.7,178.5 356.9,178.4 357.1,178.6 357.3,179.3 357.5,180.0 357.7,179.0 357.9,179.0 358.1,178.6 358.3,179.4 358.5,180.8 358.7,180.7 358.9,180.1 359.1,180.9 359.3,181.4 359.5,182.1 359.7,181.4 359.9,182.0 360.1,180.9 360.3,181.7 360.5,184.2 360.7,181.4 360.9,183.1 361.1,183.8 361.3,183.6 361.5,183.5 361.7,184.4 361.9,184.7 362.1,184.8 362.3,183.7 362.5,185.3 362.7,185.0 362.9,185.5 363.1,186.4 363.3,186.9 363.5,187.4 363.7,186.5 363.9,187.9 364.1,187.9 364.3,186.0 364.5,184.4 364.7,181.4 364.9,179.5 365.1,178.5 365.3,175.0 365.5,176.2 365.7,175.8 365.9,176.0 366.1,175.1 366.3,175.9 366.5,176.8 366.7,177.7 366.9,177.9 367.1,177.2 367.3,177.3 367.5,177.0 367.7,178.1 367.9,177.7 368.1,178.6 368.3,179.7 368.5,178.4 368.7,177.4 368.9,178.1 369.1,177.8 369.3,178.1 369.5,180.3 369.7,179.6 369.9,178.4 370.1,180.3 370.3,180.4 370.5,178.1 370.7,176.7 370.9,176.0 371.1,175.4 371.3,174.6 371.5,174.5 371.7,174.8 371.9,175.0 372.1,175.4 372.3,175.1 372.5,173.6 372.7,175.0 372.9,175.6 373.1,175.3 373.3,176.6 373.5,175.9 373.7,175.7 373.9,177.8 374.1,177.5 374.3,177.4 374.5,178.2 374.7,178.6 374.9,178.3 375.1,176.3 375.3,178.0 375.5,178.4 375.7,178.2 375.9,179.4 376.1,180.5 376.3,179.4 376.5,179.1 376.7,181.9 376.9,180.2 377.1,179.8 377.3,181.3 377.5,181.7 377.7,181.0 377.9,182.5 378.1,181.7 378.3,181.6 378.5,182.8 378.7,182.7 378.9,179.7 379.1,178.7 379.3,176.5 379.5,177.0 379.7,172.4 379.9,172.4 380.1,171.4 380.3,171.5 380.5,172.3 380.7,172.6 380.9,173.0 381.1,172.4 381.3,171.8 381.5,172.0 381.7,173.0 381.9,173.2 382.1,174.0 382.3,173.4 382.5,174.1 382.7,174.6 382.9,173.7 383.1,172.5 383.3,172.9 383.5,172.8 383.7,175.4 383.9,173.6 384.1,175.4 384.3,175.0 384.5,176.1 384.7,175.7 384.9,174.3 385.1,173.1 385.3,172.3 385.5,171.3 385.7,169.6 385.9,168.9 386.1,169.9 386.3,167.5 386.5,169.3 386.7,168.6 386.9,169.7 387.1,170.5 387.3,170.0 387.5,170.9 387.7,169.3 387.9,171.7 388.1,170.6 388.3,171.8 388.5,171.7 388.7,169.7 388.9,171.4 389.1,172.5 389.3,173.8 389.5,173.0 389.7,173.2 389.9,172.1 390.1,174.6 390.3,175.2 390.5,174.0 390.7,174.1 390.9,173.2 391.1,175.4 391.3,177.1 391.5,175.8 391.7,176.5 391.9,176.1 392.1,175.1 392.3,177.3 392.5,175.4 392.7,176.5 392.9,177.1 393.1,177.9 393.3,176.6 393.5,174.8 393.7,172.0 393.9,169.8 394.1,169.0 394.3,166.6 394.5,164.7 394.7,164.9 394.9,165.6 395.1,164.7 395.3,165.2 395.5,165.2 395.7,166.8 395.9,167.1 396.1,168.5 396.3,165.9 396.5,166.7 396.7,168.1 396.9,167.3 397.1,167.4 397.3,169.2 397.5,167.7 397.7,167.2 397.9,167.2 398.1,168.7 398.3,168.8 398.5,167.6 398.7,168.1 398.9,169.5 399.1,169.7 399.3,168.9 399.5,169.2 399.7,168.1 399.9,165.1 400.1,165.2 400.3,164.7 400.5,162.9 400.7,161.5 400.9,163.2 401.1,164.3 401.3,165.2 401.5,162.5 401.7,166.6 401.9,163.8 402.1,165.8 402.3,166.2 402.5,166.3 402.7,165.9 402.9,165.1 403.1,166.8 403.3,166.0 403.5,164.8 403.7,169.3 403.9,167.9 404.1,169.0 404.3,167.1 404.5,169.3 404.7,169.6 404.9,169.9 405.1,168.9 405.3,168.2 405.5,169.3 405.7,167.9 405.9,168.6 406.1,170.3 406.3,169.6 406.5,170.6 406.7,170.9 406.9,172.8 407.1,172.5 407.3,171.7 407.5,173.0 407.7,171.6 407.9,170.8 408.1,170.0 408.3,166.5 408.5,165.4 408.7,162.8 408.9,162.1 409.1,162.2 409.3,160.5 409.5,161.4 409.7,160.7 409.9,160.7 410.1,160.8 410.3,163.1 410.5,164.0 410.7,162.6 410.9,161.8 411.1,163.1 411.3,162.5 411.5,163.6 411.7,163.3 411.9,163.5 412.1,163.9 412.3,163.1 412.5,163.4 412.7,162.5 412.9,163.7 413.1,163.1 413.3,164.3 413.5,163.8 413.7,164.8 413.9,165.3 414.1,162.9 414.3,162.3 414.5,161.2 414.7,161.5 414.9,161.2 415.1,159.4 415.3,158.5 415.5,160.3 415.7,158.1 415.9,160.8 416.1,159.4 416.3,157.9 416.5,162.5 416.7,161.9 416.9,160.1 417.1,161.3 417.3,161.3 417.5,161.8 417.7,160.8 417.9,161.7 418.1,162.9 418.3,163.0 418.5,164.0 418.7,163.4 418.9,165.5 419.1,163.3 419.3,164.3 419.5,162.9 419.7,163.6 419.9,166.0 420.1,164.4 420.3,165.9 420.5,165.7 420.7,165.1 420.9,166.0 421.1,166.1 421.3,166.4 421.5,167.6 421.7,167.8 421.9,167.1 422.1,167.1 422.3,168.3 422.5,166.5 422.7,165.6 422.9,165.1 423.1,161.9 423.3,159.4 423.5,157.5 423.7,156.1 423.9,156.2 424.1,156.3 424.3,157.0 424.5,157.1 424.7,158.2 424.9,157.5 425.1,157.8 425.3,157.2 425.5,159.6 425.7,158.9 425.9,160.1 426.1,159.4 426.3,160.2 426.5,159.0 426.7,159.9 426.9,161.7 427.1,158.7 427.3,160.8 427.5,161.4 427.7,160.5 427.9,161.0 428.1,161.5 428.3,160.1 428.5,161.2 428.7,159.1 428.9,158.2 429.1,157.2 429.3,156.5 429.5,155.7 429.7,154.9 429.9,153.6 430.1,156.7 430.3,156.3 430.5,156.2 430.7,155.6 430.9,156.1 431.1,156.9 431.3,157.0 431.5,155.6 431.7,157.8 431.9,159.9 432.1,156.2 432.3,158.8 432.5,158.6 432.7,158.5 432.9,160.0 433.1,158.1 433.3,159.5 433.5,160.8 433.7,159.7 433.9,159.8 434.1,160.5 434.3,160.3 434.5,162.2 434.7,160.5 434.9,162.2 435.1,160.7 435.3,162.6 435.5,162.2 435.7,160.4 435.9,162.8 436.1,162.2 436.3,163.0 436.5,164.9 436.7,163.0 436.9,163.3 437.1,163.6 437.3,160.7 437.5,160.0 437.7,157.2 437.9,154.4 438.1,153.3 438.3,153.8 438.5,153.8 438.7,153.2 438.9,153.4 439.1,153.4 439.3,153.2 439.5,155.4 439.7,154.0 439.9,153.2 440.1,153.9 440.3,155.1 440.5,155.2 440.7,154.7 440.9,154.5 441.1,155.2 441.3,154.0 441.5,154.4 441.7,156.3 441.9,155.4 442.1,156.3 442.3,157.2 442.5,156.9 442.7,156.5 442.9,158.4 443.1,157.2 443.3,155.3 443.5,155.1 443.7,153.8 443.9,151.7 444.1,151.4 444.3,150.3 444.5,149.1 444.7,150.9 444.9,151.0 445.1,151.2 445.3,150.4 445.5,151.7 445.7,152.3 445.9,152.6 446.1,151.9 446.3,153.6 446.5,152.3 446.7,153.4 446.9,154.9 447.1,153.6 447.3,154.0 447.5,155.5 447.7,154.6 447.9,154.9 448.1,155.6 448.3,156.5 448.5,154.1 448.7,155.5 448.9,155.6 449.1,155.8 449.3,156.3 449.5,156.6 449.7,157.8 449.9,157.0 450.1,158.1 450.3,158.6 450.5,157.9 450.7,158.9 450.9,160.4 451.1,159.6 451.3,159.1 451.5,159.5 451.7,157.0 451.9,156.1 452.1,154.8 452.3,151.6 452.5,150.3 452.7,149.6 452.9,148.0 453.1,148.8 453.3,147.9 453.5,148.3 453.7,148.7 453.9,151.0 454.1,149.1 454.3,149.2 454.5,149.3 454.7,149.8 454.9,150.6 455.1,150.4 455.3,152.1 455.5,150.8 455.7,151.9 455.9,151.1 456.1,151.6 456.3,150.1 456.5,151.3 456.7,151.5 456.9,151.5 457.1,150.2 457.3,152.8 457.5,151.9 457.7,151.7 457.9,150.8 458.1,149.7 458.3,149.2 458.5,146.8 458.7,146.0 458.9,146.3 459.1,146.5 459.3,146.3 459.5,146.4 459.7,146.5 459.9,147.4 460.1,148.6 460.3,147.1 460.5,149.5 460.7,149.2 460.9,148.4 461.1,149.7 461.3,148.1 461.5,148.2 461.7,148.8 461.9,149.8 462.1,150.1 462.3,150.2 462.5,151.0 462.7,149.5 462.9,151.9 463.1,150.6 463.3,151.5 463.5,152.0 463.7,151.6 463.9,151.7 464.1,152.3 464.3,153.4 464.5,154.1 464.7,154.4 464.9,153.4 465.1,153.8 465.3,154.0 465.5,155.4 465.7,153.6 465.9,156.5 466.1,154.8 466.3,152.8 466.5,151.9 466.7,150.6 466.9,148.3 467.1,147.1 467.3,144.5 467.5,145.5 467.7,145.7 467.9,144.8 468.1,146.2 468.3,145.3 468.5,145.4 468.7,144.8 468.9,145.5 469.1,146.5 469.3,145.0 469.5,146.8 469.7,146.7 469.9,146.8 470.1,145.0 470.3,146.9 470.5,147.7 470.7,146.7 470.9,147.6 471.1,145.8 471.3,148.4 471.5,147.5 471.7,148.9 471.9,146.9 472.1,149.1 472.3,148.0 472.5,147.8 472.7,145.3 472.9,144.5 473.1,145.8 473.3,142.3 473.5,141.9 473.7,142.5 473.9,142.2 474.1,144.2 474.3,144.9 474.5,143.3 474.7,142.7 474.9,145.3 475.1,145.5 475.3,145.6 475.5,146.1 475.7,144.8 475.9,145.6 476.1,144.9 476.3,145.2 476.5,147.4 476.7,146.3 476.9,148.9 477.1,147.4 477.3,147.1 477.5,148.6 477.7,149.6 477.9,148.9 478.1,147.8 478.3,149.3 478.5,150.4 478.7,149.2 478.9,149.2 479.1,150.9 479.3,150.5 479.5,149.8 479.7,150.6 479.9,150.6 480.1,151.7 480.3,151.8 480.5,152.9 480.7,151.9 480.9,148.3 481.1,148.1 481.3,146.6 481.5,144.5 481.7,143.1 481.9,140.3 482.1,140.1 482.3,141.8 482.5,140.4 482.7,139.7 482.9,142.4 483.1,141.2 483.3,141.7 483.5,141.0 483.7,141.2 483.9,141.5 484.1,142.3 484.3,143.1 484.5,141.1 484.7,143.7 484.9,142.3 485.1,142.6 485.3,144.1 485.5,143.7 485.7,142.7 485.9,145.6 486.1,143.6 486.3,144.6 486.5,144.8 486.7,145.9 486.9,143.9 487.1,144.0 487.3,141.5 487.5,142.0 487.7,139.4 487.9,138.7 488.1,140.2 488.3,139.2 488.5,139.3 488.7,141.3 488.9,140.0 489.1,139.4 489.3,140.9 489.5,139.6 489.7,141.7 489.9,142.0 490.1,140.9 490.3,141.1 490.5,142.0 490.7,142.1 490.9,141.6 491.1,143.1 491.3,141.3 491.5,142.9 491.7,143.1 491.9,143.5 492.1,144.2 492.3,143.3 492.5,145.0 492.7,144.7 492.9,144.5 493.1,144.2 493.3,144.6 493.5,146.1 493.7,145.4 493.9,146.4 494.1,147.5 494.3,147.8 494.5,148.4 494.7,147.2 494.9,146.9 495.1,148.8 495.3,147.3 495.5,146.1 495.7,143.4 495.9,142.6 496.1,140.5 496.3,138.6 496.5,137.1 496.7,137.2 496.9,137.2 497.1,137.4 497.3,138.2 497.5,137.1 497.7,139.1 497.9,137.8 498.1,138.8 498.3,138.2 498.5,138.2 498.7,140.2 498.9,138.5 499.1,137.9 499.3,138.5 499.5,139.0 499.7,141.2 499.9,139.8 500.1,140.5 500.3,139.1 500.5,140.4 500.7,140.8 500.9,141.9 501.1,140.1 501.3,141.3 501.5,140.3 501.7,138.2 501.9,137.9 502.1,136.7 502.3,134.0 502.5,135.3 502.7,135.2 502.9,134.7 503.1,134.2 503.3,136.7 503.5,136.0 503.7,136.9 503.9,137.5 504.1,136.2 504.3,137.5 504.5,137.0 504.7,137.4 504.9,137.6 505.1,138.0 505.3,139.1 505.5,138.6 505.7,138.7 505.9,138.8 506.1,139.6 506.3,138.9 506.5,139.5 506.7,140.1 506.9,140.0 507.1,140.6 507.3,140.5 507.5,142.8 507.7,142.6 507.9,142.1 508.1,142.0 508.3,144.1 508.5,142.8 508.7,142.8 508.9,143.4 509.1,143.6 509.3,144.8 509.5,143.9 509.7,145.9 509.9,142.2 510.1,141.7 510.3,138.5 510.5,139.0 510.7,135.5 510.9,133.9 511.1,133.7 511.3,134.1 511.5,132.4 511.7,133.2 511.9,132.5 512.1,133.9 512.3,133.9 512.5,133.9 512.7,133.8 512.9,134.2 513.1,134.1 513.3,135.3 513.5,136.2 513.7,133.6 513.9,135.3 514.1,135.2 514.3,136.1 514.5,135.1 514.7,135.9 514.9,135.4 515.1,137.0 515.3,136.7 515.5,136.6 515.7,137.2 515.9,136.9 516.1,135.0 516.3,135.6 516.5,134.3 516.7,132.9 516.9,132.8 517.1,131.9 517.3,130.2 517.5,130.8 517.7,132.9 517.9,133.1 518.1,131.6 518.3,131.5 518.5,132.3 518.7,132.6 518.9,132.0 519.1,133.6 519.3,132.8 519.5,133.2 519.7,135.2 519.9,134.2 520.1,134.9 520.3,135.8 520.5,136.2 520.7,135.5 520.9,136.1 521.1,135.7 521.3,138.0 521.5,137.5 521.7,136.3 521.9,137.5 522.1,138.3 522.3,138.4 522.5,139.8 522.7,139.7 522.9,138.5 523.1,139.1 523.3,138.4 523.5,139.9 523.7,140.1 523.9,142.5 524.1,140.7 524.3,139.2 524.5,138.7 524.7,137.6 524.9,134.7 525.1,133.2 525.3,131.8 525.5,130.6 525.7,129.5 525.9,129.1 526.1,130.6 526.3,129.8 526.5,130.0 526.7,129.5 526.9,130.1 527.1,131.5 527.3,129.8 527.5,131.3 527.7,132.1 527.9,131.4 528.1,132.1 528.3,131.2 528.5,133.3 528.7,133.3 528.9,132.8 529.1,131.4 529.3,132.2 529.5,134.0 529.7,134.7 529.9,133.8 530.1,134.7 530.3,133.4 530.5,133.9 530.7,133.0 530.9,132.3 531.1,129.7 531.3,130.7 531.5,129.9 531.7,127.0 531.9,127.1 532.1,128.7 532.3,128.2 532.5,127.1 532.7,130.0 532.9,129.7 533.1,129.5 533.3,131.9 533.5,130.6 533.7,130.1 533.9,131.1 534.1,130.5 534.3,131.0 534.5,132.2 534.7,131.7 534.9,132.1 535.1,134.1 535.3,133.7 535.5,133.9 535.7,134.0 535.9,134.2 536.1,135.3 536.3,134.4 536.5,136.2 536.7,134.2 536.9,135.0 537.1,134.4 537.3,135.5 537.5,136.5 537.7,137.5 537.9,136.1 538.1,136.9 538.3,136.9 538.5,136.9 538.7,136.8 538.9,138.0 539.1,134.8 539.3,134.5 539.5,132.6 539.7,130.3 539.9,128.2 540.1,126.1 540.3,128.3 540.5,125.9 540.7,128.4 540.9,127.8 541.1,127.2 541.3,126.8 541.5,128.7 541.7,129.4 541.9,127.5 542.1,128.2 542.3,129.4 542.5,129.0 542.7,130.5 542.9,128.6 543.1,129.7 543.3,128.4 543.5,131.3 543.7,129.2 543.9,128.2 544.1,130.1 544.3,130.2 544.5,132.0 544.7,130.4 544.9,130.8 545.1,131.3 545.3,131.0 545.5,128.6 545.7,128.5 545.9,127.0 546.1,125.3 546.3,124.8 546.5,125.0 546.7,124.5 546.9,126.5 547.1,124.7 547.3,127.0 547.5,127.1 547.7,126.6 547.9,126.3 548.1,127.0 548.3,127.8 548.5,128.3 548.7,128.2 548.9,129.0 549.1,128.1 549.3,129.0 549.5,127.8 549.7,129.9 549.9,129.7 550.1,129.5 550.3,131.1 550.5,131.0 550.7,128.4 550.9,131.0 551.1,130.0 551.3,132.3 551.5,133.7 551.7,131.6 551.9,132.3 552.1,132.4 552.3,133.1 552.5,133.6 552.7,134.4 552.9,132.8 553.1,135.2 553.3,133.4 553.5,134.3 553.7,133.2 553.9,131.0 554.1,127.9 554.3,126.3 554.5,124.7 554.7,123.2 554.9,124.0 555.1,122.3 555.3,123.8 555.5,124.1 555.7,124.3 555.9,124.4 556.1,125.4 556.3,124.7 556.5,125.2 556.7,125.1 556.9,126.3 557.1,123.5 557.3,126.2 557.5,125.2 557.7,125.3 557.9,125.0 558.1,124.4 558.3,125.8 558.5,125.7 558.7,126.8 558.9,125.5 559.1,128.0 559.3,127.2 559.5,127.0 559.7,126.3 559.9,125.2 560.1,123.9 560.3,123.3 560.5,122.7 560.7,121.6 560.9,120.0 561.1,121.2 561.3,121.0 561.5,122.1 561.7,123.7 561.9,123.0 562.1,122.5 562.3,121.8 562.5,122.2 562.7,122.3 562.9,124.5 563.1,123.6 563.3,124.5 563.5,124.3 563.7,125.1 563.9,126.4 564.1,125.1 564.3,125.6 564.5,125.5 564.7,127.1 564.9,125.9 565.1,126.1 565.3,126.2 565.5,126.4 565.7,128.2 565.9,130.2 566.1,127.6 566.3,129.5 566.5,129.2 566.7,128.4 566.9,129.3 567.1,129.6 567.3,129.6 567.5,131.9 567.7,129.2 567.9,131.3 568.1,130.8 568.3,128.3 568.5,127.1 568.7,125.9 568.9,123.5 569.1,121.9 569.3,120.4 569.5,118.4 569.7,121.4 569.9,122.2 570.1,121.3 570.3,121.6 570.5,119.8 570.7,121.0 570.9,120.6 571.1,121.0 571.3,122.4 571.5,121.2 571.7,121.9 571.9,120.7 572.1,122.3 572.3,122.7 572.5,122.2 572.7,122.4 572.9,124.7 573.1,122.4 573.3,122.7 573.5,123.1 573.7,124.9 573.9,125.8 574.1,124.5 574.3,123.3 574.5,122.5 574.7,122.6 574.9,120.0 575.1,120.9 575.3,119.8 575.5,118.3 575.7,119.1 575.9,119.4 576.1,120.4 576.3,118.6 576.5,120.6 576.7,119.7 576.9,119.6 577.1,120.6 577.3,120.6 577.5,120.3 577.7,120.1 577.9,120.9 578.1,123.1 578.3,123.8 578.5,123.0 578.7,123.7 578.9,122.7 579.1,123.3 579.3,123.9 579.5,123.0 579.7,123.4 579.9,124.5 580.1,124.5 580.3,124.2 580.5,125.6 580.7,125.4 580.9,126.7 581.1,126.1 581.3,126.2 581.5,126.8 581.7,126.8 581.9,126.7 582.1,127.2 582.3,128.4 582.5,128.6 582.7,128.4 582.9,124.2 583.1,123.4 583.3,121.6 583.5,120.3 583.7,118.0 583.9,116.5 584.1,117.7 584.3,117.4 584.5,116.5 584.7,118.7 584.9,118.6 585.1,117.5 585.3,118.8 585.5,117.7 585.7,119.4 585.9,118.5 586.1,118.2 586.3,118.7 586.5,118.6 586.7,119.5 586.9,119.7 587.1,119.8 587.3,119.5 587.5,117.1 587.7,120.3 587.9,118.9 588.1,120.8 588.3,121.7 588.5,121.2 588.7,120.8 588.9,120.4 589.1,119.4 589.3,118.0 589.5,116.9 589.7,115.6 589.9,116.2 590.1,115.1 590.3,116.1 590.5,115.4 590.7,116.0 590.9,116.1 591.1,116.8 591.3,117.4 591.5,117.2 591.7,116.8 591.9,117.0 592.1,119.2 592.3,117.9 592.5,118.2 592.7,119.9 592.9,119.8 593.1,119.7 593.3,119.2 593.5,121.7 593.7,120.4 593.9,120.8 594.1,120.5 594.3,119.8 594.5,120.1 594.7,121.8 594.9,122.0 595.1,121.8 595.3,121.3 595.5,121.4 595.7,122.6 595.9,121.9 596.1,124.1 596.3,124.6 596.5,126.2 596.7,124.9 596.9,124.0 597.1,124.1 597.3,121.0 597.5,121.5 597.7,120.0 597.9,119.1 598.1,117.0 598.3,115.2 598.5,113.7 598.7,114.3 598.9,115.1 599.1,113.3 599.3,113.9 599.5,113.4 599.7,116.0 599.9,115.9 600.1,115.6 600.3,114.3 600.5,115.6 600.7,115.4 600.9,115.8 601.1,115.8 601.3,116.6 601.5,116.0 601.7,117.2 601.9,116.9 602.1,116.7 602.3,117.0 602.5,116.9 602.7,118.1 602.9,117.4 603.1,118.1 603.3,117.7 603.5,116.0 603.7,116.9 603.9,114.3 604.1,114.7 604.3,113.4 604.5,110.7 604.7,111.3 604.9,111.9 605.1,112.0 605.3,112.0 605.5,113.8 605.7,113.3 605.9,114.1 606.1,113.7 606.3,114.6 606.5,114.0 606.7,114.9 606.9,115.7 607.1,115.5 607.3,115.4 607.5,115.2 607.7,116.5 607.9,116.9 608.1,116.7 608.3,116.6 608.5,117.9 608.7,119.8 608.9,117.8 609.1,118.6 609.3,119.0 609.5,116.9 609.7,119.3 609.9,118.9 610.1,120.9 610.3,119.9 610.5,119.8 610.7,120.5 610.9,121.1 611.1,120.8 611.3,121.5 611.5,120.7 611.7,121.9 611.9,121.4 612.1,120.5 612.3,117.7 612.5,115.6 612.7,114.6 612.9,112.6 613.1,112.3 613.3,112.0 613.5,111.2 613.7,111.7 613.9,111.8 614.1,112.1 614.3,112.2 614.5,111.6 614.7,110.8 614.9,112.1 615.1,111.2 615.3,113.1 615.5,113.2 615.7,112.1 615.9,114.2 616.1,114.5 616.3,114.1 616.5,115.5 616.7,115.9 616.9,113.6 617.1,115.6 617.3,115.3 617.5,115.5 617.7,116.1 617.9,115.0 618.1,114.1 618.3,112.9 618.5,111.9 618.7,111.4 618.9,109.3 619.1,108.6 619.3,110.1 619.5,109.9 619.7,110.5 619.9,109.0 620.1,110.2 620.3,110.6 620.5,111.4 620.7,111.2 620.9,112.7 621.1,112.2 621.3,112.5 621.5,112.8 621.7,113.7 621.9,113.0 622.1,114.6 622.3,114.3 622.5,114.4 622.7,114.6 622.9,115.3 623.1,116.0 623.3,116.2 623.5,116.0 623.7,116.7 623.9,116.4 624.1,117.6 624.3,116.9 624.5,115.5 624.7,118.5 624.9,117.8 625.1,117.1 625.3,118.2 625.5,117.9 625.7,120.6 625.9,119.6 626.1,118.3 626.3,120.2 626.5,117.8 626.7,117.9 626.9,113.7 627.1,111.0 627.3,111.1 627.5,109.0 627.7,108.3 627.9,107.1 628.1,109.4 628.3,110.6 628.5,107.9 628.7,110.6 628.9,109.4 629.1,111.9 629.3,110.6 629.5,110.2 629.7,111.5 629.9,111.2 630.1,110.5 630.3,111.7 630.5,111.0 630.7,110.1 630.9,113.4 631.1,111.7 631.3,111.7 631.5,112.6 631.7,111.3 631.9,111.7 632.1,112.5 632.3,112.7 632.5,113.3 632.7,113.1 632.9,110.8 633.1,110.5 633.3,109.6 633.5,107.2 633.7,107.3 633.9,106.7 634.1,108.6 634.3,108.4 634.5,108.3 634.7,107.6 634.9,109.0 635.1,108.6 635.3,110.1 635.5,109.7 635.7,109.4 635.9,111.1 636.1,111.3 636.3,110.5 636.5,112.2 636.7,111.3 636.9,111.6 637.1,112.2 637.3,111.8 637.5,112.4 637.7,112.9 637.9,114.5 638.1,114.8 638.3,113.7 638.5,115.5 638.7,114.4 638.9,115.1 639.1,115.8 639.3,115.6 639.5,117.6 639.7,116.1 639.9,115.3 640.1,117.6 640.3,116.5 640.5,116.9 640.7,115.0 640.9,118.3 641.1,116.4 641.3,114.6 641.5,112.9 641.7,111.7 641.9,108.6 642.1,107.6 642.3,105.9 642.5,106.4 642.7,107.8 642.9,107.4 643.1,106.2 643.3,107.8 643.5,107.5 643.7,107.2 643.9,108.4 644.1,107.9 644.3,107.2 644.5,107.8 644.7,110.3 644.9,107.8 645.1,109.4 645.3,109.9 645.5,110.1 645.7,108.8 645.9,109.8 646.1,110.3 646.3,111.0 646.5,110.1 646.7,109.9 646.9,111.8 647.1,111.8 647.3,110.1 647.5,108.3 647.7,108.1 647.9,106.8 648.1,106.4 648.3,104.0 648.5,105.4 648.7,105.5 648.9,105.0 649.1,106.4 649.3,106.5 649.5,106.4 649.7,107.4 649.9,106.2 650.1,107.6 650.3,108.3 650.5,108.5 650.7,109.4 650.9,107.9 651.1,107.9 651.3,109.6 651.5,110.1 651.7,111.7 651.9,110.8 652.1,109.9 652.3,111.5 652.5,110.5 652.7,110.3 652.9,113.8 653.1,112.3 653.3,112.9 653.5,113.1 653.7,114.4 653.9,113.4 654.1,114.5 654.3,113.0 654.5,113.0 654.7,115.5 654.9,115.8 655.1,115.4 655.3,115.4 655.5,115.1 655.7,112.7 655.9,112.7 656.1,110.2 656.3,108.3 656.5,106.4 656.7,105.2 656.9,104.8 657.1,105.1 657.3,103.8 657.5,105.3 657.7,106.9 657.9,104.9 658.1,105.4 658.3,106.4 658.5,106.7 658.7,106.6 658.9,105.0 659.1,106.9 659.3,105.7 659.5,106.2 659.7,107.5 659.9,107.0 660.1,108.1 660.3,110.2 660.5,108.5 660.7,108.6 660.9,107.5 661.1,107.9 661.3,107.8 661.5,108.4 661.7,107.7 661.9,107.0 662.1,106.3 662.3,104.7 662.5,103.3 662.7,102.3 662.9,103.3 663.1,103.2 663.3,104.3 663.5,104.6 663.7,103.8 663.9,104.9 664.1,103.5 664.3,106.8 664.5,106.2 664.7,105.4 664.9,104.9 665.1,106.4 665.3,104.9 665.5,106.1 665.7,107.6 665.9,107.3 666.1,107.2 666.3,108.6 666.5,107.3 666.7,108.7 666.9,108.3 667.1,108.4 667.3,109.7 667.5,108.8 667.7,111.4 667.9,109.7 668.1,112.1 668.3,109.9 668.5,111.6 668.7,110.4 668.9,110.6 669.1,112.1 669.3,112.8 669.5,111.5 669.7,113.8 669.9,112.5 670.1,112.7 670.3,111.1 670.5,109.5 670.7,105.8 670.9,106.8 671.1,104.1 671.3,101.7 671.5,101.4 671.7,101.1 671.9,101.5 672.1,103.2 672.3,102.7 672.5,102.3 672.7,103.0 672.9,104.8 673.1,103.5 673.3,103.5 673.5,105.3 673.7,104.8 673.9,104.6 674.1,104.3 674.3,103.7 674.5,104.2 674.7,105.0 674.9,105.4 675.1,106.1 675.3,106.4 675.5,106.4 675.7,106.6 675.9,105.8 676.1,105.1 676.3,105.9 676.5,104.5 676.7,103.7 676.9,103.0 677.1,101.2 677.3,100.3 677.5,100.8 677.7,101.3 677.9,101.0 678.1,102.2 678.3,101.9 678.5,101.6 678.7,102.8 678.9,104.5 679.1,102.8 679.3,104.6 679.5,105.0 679.7,105.4 679.9,103.9 680.1,106.5 680.3,105.3 680.5,105.3 680.7,105.6 680.9,106.6 681.1,106.4 681.3,106.6 681.5,108.0 681.7,106.7 681.9,106.8 682.1,108.6 682.3,108.8 682.5,109.4 682.7,108.0 682.9,110.0 683.1,109.9 683.3,111.2 683.5,109.1 683.7,110.6 683.9,110.5 684.1,109.7 684.3,110.8 684.5,112.5 684.7,110.4 684.9,108.5 685.1,108.0 685.3,106.3 685.5,104.6 685.7,101.4 685.9,100.6 686.1,101.7 686.3,100.5 686.5,100.7 686.7,102.2 686.9,103.0 687.1,101.0 687.3,100.1 687.5,101.2 687.7,101.8 687.9,102.7 688.1,103.5 688.3,103.1 688.6,99.5" fill="none" stroke="#ff00ff" stroke-width="2.0" stroke-linejoin="round"/>
<path d="M688.6,99.5 688.8,101.2 689.0,101.3 689.2,105.6 689.4,104.4 689.6,103.4 689.8,104.0 690.0,105.4 690.2,104.9 690.4,106.7 690.6,107.5 690.8,110.1 691.0,109.5 691.2,110.0 691.4,110.4 691.6,111.5 691.8,113.6 692.0,114.5 692.2,116.9 692.4,116.0 692.6,118.8 692.8,119.0 693.0,119.7 693.2,118.5 693.4,120.1 693.6,123.2 693.8,124.7 694.0,124.2 694.2,125.6 694.4,125.0 694.6,125.8 694.8,126.2 695.0,128.6 695.2,128.6 695.4,128.7 695.6,129.3 695.8,130.9 696.0,131.3 696.2,130.7 696.4,134.0 696.6,133.1 696.8,133.4 697.0,135.6 697.2,135.7 697.4,135.1 697.6,136.3 697.8,135.1 698.0,136.2 698.2,135.0 698.4,139.2 698.6,136.4 698.8,139.7 699.0,138.6 699.2,139.0 699.4,140.3 699.6,141.3 699.8,142.2 700.0,143.9 700.2,142.9 700.4,143.9 700.6,142.8 700.8,144.7 701.0,144.5 701.2,144.3 701.4,145.2 701.6,145.6 701.8,146.4 702.0,147.0 702.2,146.5 702.4,146.7 702.6,148.7 702.8,146.5 703.0,148.0 703.2,150.8 703.4,146.6 703.6,149.2 703.8,151.0 704.0,149.0 704.2,153.9 704.4,148.7 704.6,153.4 704.8,153.9 705.0,153.6 705.2,152.8 705.4,153.8 705.6,152.8 705.8,155.0 706.0,153.3 706.2,154.6 706.4,156.3 706.6,154.4 706.8,155.5 707.0,156.4 707.2,155.2 707.4,158.2 707.6,157.7 707.8,156.0 708.0,158.0 708.2,157.5 708.4,158.0 708.6,159.1 708.8,158.6 709.0,160.7 709.2,159.2 709.4,161.4 709.6,160.6 709.8,161.9 710.0,160.7 710.2,161.0 710.4,160.7 710.6,162.8 710.8,163.5 711.0,165.0 711.2,164.5 711.4,163.6 711.6,163.5 711.8,164.4 712.0,164.2 712.2,166.1 712.4,165.8 712.6,164.2 712.8,164.7 713.0,167.2 713.2,166.3 713.4,166.0 713.6,167.8 713.8,166.4 714.0,166.8 714.2,166.9 714.4,165.6 714.6,168.9 714.8,167.0 715.0,168.0 715.2,168.1 715.4,169.9 715.6,169.3 715.8,169.7 716.0,168.2 716.2,170.2 716.4,169.0 716.6,171.2 716.8,171.6 717.0,171.4 717.2,173.9 717.4,172.6 717.6,173.0 717.8,172.8 718.0,172.7 718.2,174.2 718.4,174.7 718.6,172.4 718.8,175.2 719.0,174.9 719.2,175.7 719.4,175.5 719.6,173.9 719.8,174.3 720.0,177.8 720.2,176.4 720.4,174.9 720.6,177.1 720.8,176.6 721.0,175.3 721.2,175.1 721.4,176.1 721.6,178.4 721.8,178.4 722.0,178.4 722.2,179.3 722.4,179.9 722.6,177.3 722.8,179.5 723.0,179.2 723.2,179.0 723.4,180.0 723.6,180.8 723.8,180.9 724.0,179.9 724.2,181.2 724.4,184.1 724.6,181.1 724.8,180.7 725.0,183.0 725.2,183.6 725.4,183.7 725.6,182.3 725.8,184.8 726.0,183.2 726.2,183.0 726.4,183.8 726.6,184.6 726.8,185.7 727.0,185.9 727.2,185.4 727.4,186.7 727.6,186.0 727.8,187.1 728.0,184.9 728.2,184.9 728.4,187.7 728.6,185.6 728.8,187.0 729.0,187.4 729.2,187.2 729.4,187.5 729.6,189.7 729.8,185.7 730.0,189.6 730.2,191.3 730.4,189.1 730.6,189.3 730.8,190.3 731.0,191.7 731.2,188.7 731.4,190.2 731.6,190.1 731.8,191.2 732.0,190.9 732.2,191.7 732.4,190.7 732.6,191.5 732.8,190.9 733.0,191.1 733.2,191.9 733.4,192.1 733.6,191.2 733.8,194.3 734.0,192.7 734.2,191.6 734.4,194.5 734.6,192.7 734.8,194.3 735.0,193.9 735.2,194.4 735.4,194.5 735.6,194.0 735.8,194.8 736.0,197.2 736.2,192.8 736.4,195.5 736.6,196.1 736.8,194.7 737.0,194.6 737.2,198.6 737.4,196.1 737.6,198.9 737.8,197.5 738.0,197.2 738.2,197.9 738.4,198.2 738.6,199.0 738.8,198.4 739.0,198.3 739.2,198.6 739.4,200.1 739.6,199.7 739.8,198.0 740.0,198.6 740.2,199.8 740.4,199.0 740.6,199.5 740.8,199.1 741.0,200.0 741.2,201.0 741.4,201.8 741.6,200.9 741.8,203.3 742.0,201.3 742.2,205.0 742.4,202.8 742.6,202.5 742.8,201.7 743.0,199.4 743.2,202.4 743.4,203.0 743.6,205.1 743.8,201.8 744.0,205.5 744.2,203.4 744.4,204.6 744.6,201.3 744.8,204.4 745.0,204.1 745.2,205.4 745.4,205.0 745.6,203.9 745.8,206.3 746.0,206.2 746.2,206.3 746.4,207.0 746.6,207.3 746.8,206.3 747.0,205.1 747.2,205.2 747.4,208.3 747.6,207.9 747.8,207.4 748.0,207.0 748.2,207.7 748.4,207.9 748.6,207.7 748.8,207.6 749.0,210.8 749.2,208.9 749.4,208.3 749.6,207.7 749.8,208.5 750.0,210.3 750.2,210.5 750.4,209.7 750.6,210.1 750.8,210.0 751.0,209.3 751.2,212.1 751.4,211.3 751.6,213.7 751.8,210.5 752.0,211.3 752.2,212.6 752.4,211.6 752.6,210.6 752.8,211.3 753.0,212.6 753.2,213.0 753.4,212.7 753.6,214.1 753.8,214.3 754.0,213.8 754.2,213.7 754.4,213.6 754.6,214.6 754.8,215.2 755.0,214.5 755.2,215.1 755.4,214.4 755.6,213.5 755.8,214.1 756.0,216.2 756.2,216.0 756.4,217.4 756.6,216.0 756.8,217.0 757.0,217.7 757.2,217.5 757.4,216.0 757.6,216.7 757.8,217.2 758.0,216.2 758.2,217.9 758.4,218.7 758.6,217.2 758.8,220.0 759.0,217.8 759.2,218.1 759.4,218.2 759.6,217.9 759.8,219.3 760.0,219.0 760.2,220.9 760.4,220.0 760.6,220.1 760.8,219.5 761.0,218.4 761.2,219.9 761.4,219.3 761.6,221.4 761.8,220.5 762.0,222.5 762.2,221.6 762.4,221.9 762.6,221.4 762.8,221.6 763.0,222.2 763.2,222.7 763.4,221.1 763.6,222.5 763.8,225.0 764.0,222.2 764.2,222.2 764.4,221.9 764.6,221.3 764.8,224.2 765.0,223.2 765.2,223.6 765.4,225.4 765.6,226.3 765.8,222.8 766.0,225.0 766.2,224.7 766.4,224.6 766.6,224.9 766.8,224.5 767.0,226.4 767.2,225.5 767.4,225.4 767.6,226.5 767.8,226.3 768.0,225.9 768.2,226.0 768.4,227.6 768.6,226.5 768.8,226.0 769.0,225.3 769.2,226.0 769.4,225.4 769.6,226.8 769.8,227.1 770.0,224.8 770.2,227.2 770.4,228.0 770.6,227.6 770.8,226.6 771.0,229.1 771.2,227.2 771.4,226.8 771.6,227.1 771.8,228.4 772.0,229.6 772.2,230.0 772.4,229.1 772.6,227.8 772.8,228.5 773.0,228.4 773.2,229.3 773.4,227.8 773.6,229.9 773.8,230.6 774.0,230.0 774.2,230.8 774.4,229.4 774.6,229.0 774.8,230.1 775.0,232.1 775.2,232.1 775.4,230.7 775.6,232.6 775.8,231.1 776.0,233.3 776.2,232.3 776.4,231.5 776.6,232.9 776.8,231.4 777.0,231.4 777.2,231.0 777.4,233.0 777.6,232.8 777.8,232.9 778.0,232.7 778.2,234.8 778.4,232.9 778.6,232.8 778.8,235.0 779.0,235.3 779.2,234.3 779.4,232.2 779.6,233.6 779.8,235.0 780.0,234.5 780.2,236.3 780.4,233.3 780.6,235.6 780.8,234.4 781.0,236.6 781.2,235.2 781.4,236.5 781.6,234.8 781.8,234.2 782.0,234.6 782.2,235.3 782.4,234.9 782.6,237.4 782.8,237.7 783.0,236.7 783.2,235.4 783.4,236.5 783.6,236.0 783.8,238.4 784.0,237.3 784.2,237.6 784.4,236.8 784.6,235.2 784.8,236.6 785.0,236.4 785.2,238.1 785.4,237.9 785.6,237.0 785.8,237.6 786.0,239.8 786.2,237.2 786.4,237.4 786.6,238.2 786.8,237.8 787.0,238.3 787.2,239.4 787.4,240.8 787.6,237.2 787.8,239.2 788.0,239.3 788.2,239.3 788.4,239.3 788.6,239.3 788.8,240.8 789.0,239.4 789.2,239.9 789.4,240.1 789.6,240.4 789.8,240.2 790.0,241.6 790.2,240.6 790.4,240.9 790.6,240.8 790.8,239.9 791.0,240.3 791.2,240.1 791.4,241.6 791.6,240.8 791.8,240.5 792.0,242.0 792.2,242.5 792.4,240.2 792.6,244.0 792.8,242.3 793.0,242.3 793.2,243.7 793.4,242.8 793.6,242.2 793.8,245.3 794.0,242.0 794.2,243.1 794.4,244.3 794.6,242.4 794.8,243.5 795.0,244.2 795.2,246.5 795.4,243.1 795.6,244.1 795.8,245.0 796.0,244.5 796.2,243.3 796.4,245.2 796.6,245.0 796.8,245.5 797.0,246.3 797.2,246.3 797.4,245.8 797.6,245.8 797.8,244.5 798.0,245.6 798.2,246.1 798.4,245.6 798.6,246.2 798.8,245.4 799.0,248.0 799.2,248.8 799.4,246.2 799.6,247.2 799.8,246.6 800.0,248.3 800.2,247.6 800.4,247.3 800.6,247.1 800.8,247.6 801.0,246.5 801.2,248.4 801.4,247.1 801.6,248.5 801.8,248.2 802.0,249.3 802.2,248.3 802.4,249.5 802.6,247.5 802.8,249.3 803.0,248.5 803.2,249.0 803.4,249.0 803.6,250.0 803.8,247.0 804.0,249.6 804.2,247.8 804.4,250.8 804.6,247.5 804.8,248.6 805.0,248.0 805.2,251.7 805.4,248.7 805.6,250.3 805.8,249.7 806.0,248.4 806.2,250.1 806.4,251.3 806.6,250.5 806.8,251.8 807.0,250.5 807.2,251.0 807.4,250.7 807.6,251.6 807.8,253.3 808.0,251.8 808.2,251.7 808.4,251.0 808.6,250.9 808.8,253.4 809.0,250.8 809.2,251.1 809.4,252.1 809.6,251.8 809.8,254.5 810.0,250.0 810.2,253.0 810.4,253.5 810.6,251.6 810.8,252.3 811.0,253.5 811.2,254.9 811.4,252.3 811.6,251.7 811.8,254.5 812.0,255.2 812.2,253.4 812.4,251.5 812.6,255.5 812.8,253.9 813.0,255.4 813.2,254.3 813.4,254.0 813.6,254.0 813.8,256.2 814.0,256.3 814.2,252.6 814.4,254.0 814.6,257.0 814.8,254.8 815.0,253.9 815.2,255.4 815.4,255.4 815.6,255.6 815.8,255.3 816.0,255.6 816.2,255.5 816.4,256.5 816.6,255.4 816.8,256.0 817.0,256.3 817.2,257.9 817.4,257.1 817.6,256.6 817.8,257.4 818.0,257.4 818.2,258.2 818.4,257.7 818.6,259.2 818.8,258.8 819.0,257.5 819.2,257.2 819.4,258.6 819.6,258.4 819.8,257.8 820.0,256.4 820.2,256.1 820.4,258.6 820.6,259.1 820.8,259.2 821.0,257.1 821.2,259.7 821.4,258.1 821.6,259.2 821.8,259.3 822.0,258.1 822.2,258.4 822.4,256.9 822.6,258.2 822.8,257.4 823.0,259.9 823.2,259.5 823.4,260.5 823.6,260.0 823.8,259.1 824.0,260.2 824.2,259.5 824.4,260.6 824.6,260.4 824.8,259.1 825.0,260.3 825.2,260.4 825.4,260.1 825.6,261.5 825.8,262.4 826.0,260.3 826.2,260.4 826.4,258.5 826.6,260.8 826.8,260.6 827.0,258.8 827.2,261.5 827.4,261.9 827.6,260.6 827.8,261.1 828.0,260.5 828.2,262.5 828.4,260.1 828.6,261.5 828.8,264.0 829.0,262.1 829.2,262.6 829.4,262.0 829.6,261.0 829.8,262.3 830.0,262.9 830.2,261.5 830.4,263.0 830.6,264.1 830.8,264.0 831.0,261.2 831.2,262.0 831.4,261.4 831.6,264.4 831.8,264.0 832.0,264.2 832.2,262.6 832.4,262.4 832.6,263.8 832.8,263.9 833.0,263.0 833.2,264.1 833.4,264.8 833.6,264.4 833.8,263.2 834.0,262.1 834.2,264.2 834.4,264.7 834.6,264.4 834.8,264.3 835.0,264.1 835.2,265.7 835.4,265.0 835.6,265.3 835.8,264.2 836.0,264.7 836.2,265.6 836.4,264.5 836.6,264.3 836.8,265.4 837.0,267.1 837.2,266.1 837.4,267.6 837.6,266.0 837.8,265.9 838.0,264.8 838.2,265.8 838.4,268.0 838.6,267.0 838.8,267.5 839.0,267.6 839.2,266.9 839.4,266.8 839.6,267.2 839.8,267.9 840.0,267.8 840.2,267.9 840.4,267.7 840.6,266.8 840.8,267.4 841.0,266.8 841.2,269.0 841.4,265.7 841.6,267.8 841.8,270.7 842.0,267.9 842.2,267.2 842.4,268.5 842.6,269.9 842.8,268.5 843.0,269.4 843.2,269.0 843.4,268.6 843.6,272.4 843.8,269.2 844.0,268.7 844.2,268.8 844.4,269.8 844.6,270.0 844.8,270.4 845.0,269.9 845.2,268.3 845.4,270.5 845.6,269.7 845.8,269.8 846.0,268.6 846.2,269.7 846.4,269.6 846.6,270.4 846.8,269.0 847.0,270.7 847.2,270.9 847.4,269.6 847.6,270.3 847.8,270.1 848.0,272.1 848.2,268.5 848.4,270.9 848.6,269.6 848.8,271.0 849.0,272.5 849.2,271.0 849.4,271.9 849.6,270.9 849.8,274.0 850.0,273.0 850.2,273.3 850.4,270.8 850.6,271.1 850.8,273.5 851.0,272.2 851.2,272.2 851.4,273.0 851.6,271.4 851.8,273.6 852.0,272.9 852.2,273.5 852.4,272.3 852.6,273.7 852.8,272.5 853.0,274.3 853.2,274.6 853.4,274.4 853.6,274.1 853.8,274.3 854.0,270.9 854.2,274.7 854.4,273.6 854.6,274.1 854.8,273.8 855.0,272.7 855.2,273.7 855.4,275.0 855.6,275.9 855.8,273.8 856.0,273.6 856.2,276.2 856.4,273.8 856.6,277.0 856.8,275.0 857.0,274.1 857.2,276.1 857.4,277.0 857.6,273.7 857.8,277.0 858.0,275.1 858.2,277.1 858.4,275.2 858.6,274.0 858.8,276.3 859.0,276.8 859.2,278.2 859.4,277.9 859.6,276.8 859.8,275.9 860.0,275.7 860.2,276.0 860.4,275.5 860.6,276.2 860.8,273.9 861.0,276.9 861.2,276.7 861.4,279.6 861.6,277.7 861.8,276.5 862.0,277.7 862.2,275.9 862.4,276.6 862.6,275.4 862.8,278.9 863.0,278.1 863.2,276.3 863.4,277.6 863.6,278.8 863.8,278.4 864.0,278.3 864.2,277.1 864.4,277.4 864.6,278.3 864.8,279.2 865.0,277.4 865.2,277.2 865.4,279.7 865.6,277.6 865.8,279.8 866.0,279.0 866.2,279.7 866.4,280.7 866.6,279.7 866.8,279.9 867.0,278.1 867.2,278.5 867.4,280.0 867.6,281.0 867.8,280.9 868.0,282.0 868.2,279.9 868.4,279.9 868.6,280.8 868.8,279.8 869.0,279.8 869.2,278.9 869.4,281.1 869.6,279.0 869.8,280.8 870.0,278.8 870.2,281.5 870.4,279.3 870.6,281.4 870.8,278.9 871.0,280.2 871.2,282.0 871.4,280.0 871.6,281.0 871.8,280.5 872.0,278.6 872.2,281.5 872.4,281.7 872.6,280.1 872.8,282.0 873.0,280.6 873.2,280.4 873.4,281.6 873.6,280.9 873.8,284.2 874.0,280.2 874.2,282.7 874.4,283.0 874.6,279.9 874.8,280.3 875.0,282.8 875.2,281.7 875.4,282.7 875.6,283.6 875.8,282.1 876.0,281.4 876.2,279.7 876.4,282.9 876.6,281.8 876.8,283.2 877.0,283.2 877.2,281.5 877.4,284.9 877.6,284.3 877.8,284.1 878.0,282.0 878.2,282.9 878.4,282.8 878.6,283.1 878.8,282.4 879.0,284.1 879.2,284.0 879.4,284.2 879.6,283.3 879.8,285.3 880.0,284.2 880.2,281.2 880.4,283.5 880.6,284.2 880.8,285.3 881.0,284.0 881.2,284.2 881.4,283.8 881.6,285.3 881.8,284.2 882.0,284.1 882.2,284.0 882.4,285.4 882.6,284.4 882.8,283.2 883.0,285.7 883.2,284.4 883.4,285.6 883.6,285.7 883.8,286.6 884.0,286.5 884.2,284.9 884.4,285.4 884.6,284.2 884.8,287.5 885.0,286.2 885.2,287.3 885.4,285.6 885.6,283.8 885.8,287.7 886.0,286.2 886.2,286.3 886.4,286.3 886.6,287.0 886.8,287.0 887.0,284.8 887.2,287.7 887.4,286.0 887.6,286.2 887.8,288.6 888.0,287.8 888.2,286.5 888.4,285.0 888.6,287.2 888.8,287.7 889.0,287.1 889.2,285.9 889.4,286.4 889.6,286.0 889.8,287.7 890.0,288.4 890.2,288.6 890.4,286.8 890.6,287.9 890.8,288.4 891.0,287.3 891.2,287.7 891.4,290.2 891.6,288.2 891.8,289.0 892.0,287.7 892.2,288.3 892.4,286.5 892.6,288.3 892.8,289.7 893.0,290.7 893.2,289.8 893.4,289.4 893.6,288.8 893.8,288.1 894.0,288.7 894.2,289.5 894.4,288.1 894.6,290.0 894.8,288.0 895.0,287.3 895.2,288.1 895.4,287.5 895.6,287.9 895.8,290.6 896.0,289.3 896.2,289.8 896.4,290.8 896.6,291.0 896.8,289.2 897.0,291.2 897.2,290.3 897.4,289.9 897.6,290.5 897.8,288.5 898.0,289.3 898.2,290.1 898.4,290.9 898.6,289.9 898.8,290.2 899.0,291.5 899.2,292.0 899.4,291.4 899.6,292.0 899.8,290.2 900.0,290.4 900.2,291.1 900.4,290.5 900.6,290.4 900.8,292.7 901.0,290.8 901.2,290.1 901.4,291.7 901.6,293.2 901.8,291.4 902.0,292.6 902.2,290.9 902.4,290.9 902.6,290.8 902.8,291.4 903.0,293.6 903.2,290.5 903.4,293.5 903.6,290.7 903.8,291.6 904.0,292.8 904.2,292.6 904.4,292.3 904.6,290.3 904.8,292.5 905.0,291.1 905.2,295.0 905.4,292.1 905.6,292.6 905.8,291.2 906.0,292.0 906.2,291.1 906.4,293.6 906.6,292.3 906.8,293.3 907.0,292.0 907.2,292.3 907.4,294.2 907.6,291.9 907.8,291.0 908.0,293.4 908.2,291.8 908.4,292.6 908.6,294.1 908.8,292.3 909.0,294.2 909.2,292.6 909.4,294.9 909.6,294.8 909.8,292.9 910.0,293.3 910.2,292.7 910.4,293.8 910.6,294.9 910.8,292.2 911.0,294.7 911.2,292.4 911.4,292.9 911.6,292.0 911.8,296.2 912.0,294.0 912.2,294.3 912.4,293.4 912.6,295.3 912.8,291.9 913.0,294.2 913.2,296.6 913.4,293.9 913.6,294.4 913.8,295.1 914.0,293.6 914.2,294.5 914.4,295.5 914.6,294.8 914.8,295.0 915.0,294.3 915.2,295.0 915.4,294.8 915.6,296.3 915.8,295.6 916.0,294.6 916.2,292.3 916.4,295.7 916.6,295.8 916.8,294.1 917.0,293.0 917.2,293.9 917.4,296.2 917.6,294.1 917.8,294.8 918.0,295.5 918.2,296.6 918.4,295.4 918.6,295.3 918.8,294.9 919.0,297.2 919.2,296.7 919.4,295.5 919.6,294.1 919.8,294.8 920.0,296.3 920.2,295.0 920.4,296.7 920.6,296.2 920.8,296.2 921.0,296.6 921.2,296.5 921.4,295.1 921.6,295.7 921.8,298.6 922.0,294.8 922.2,295.6 922.4,297.3 922.6,296.0 922.8,295.4 923.0,294.9 923.2,296.9 923.4,297.5 923.6,297.9 923.8,296.5 924.0,297.6 924.2,295.4 924.4,296.7 924.6,295.9 924.8,296.8 925.0,297.5 925.2,297.9 925.4,295.7 925.6,298.1 925.8,296.3 926.0,295.8 926.2,296.7 926.4,295.4 926.6,297.0 926.8,297.3 927.0,296.8 927.2,297.7 927.4,296.8 927.6,297.2 927.8,295.7 928.0,297.3 928.2,296.4 928.4,296.8 928.6,297.2 928.8,297.6 929.0,295.7 929.2,295.8 929.4,297.2 929.6,298.0 929.8,298.0 930.0,298.6 930.2,299.0 930.4,298.2 930.6,297.7 930.8,296.7 931.0,296.8 931.2,297.3 931.4,298.2 931.6,298.1 931.8,297.9 932.0,297.8 932.2,298.7 932.4,298.3 932.6,298.4 932.8,298.5 933.0,297.6 933.2,297.1 933.4,298.8 933.6,298.7 933.8,298.1 934.0,297.9 934.2,300.8 934.4,297.6 934.6,298.2 934.8,298.8 935.0,297.3 935.2,298.7 935.4,300.5 935.6,299.6 935.8,299.4 936.0,299.4 936.2,298.9 936.4,299.8 936.6,298.7 936.8,298.4 937.0,299.0 937.2,299.9 937.4,299.3 937.6,299.7 937.8,296.9 938.0,300.4 938.2,301.6 938.4,300.6 938.6,298.9 938.8,298.4 939.0,299.6 939.2,298.3 939.4,300.2 939.6,298.9 939.8,300.5 940.0,300.9 940.2,297.4 940.4,299.9 940.6,298.9 940.8,298.2 941.0,299.0 941.2,299.5 941.4,300.9 941.6,298.2 941.8,301.0 942.0,302.0 942.2,300.6 942.4,300.6 942.6,300.0 942.8,298.8 943.0,300.7 943.2,300.6 943.4,301.0 943.6,303.0 943.8,301.0 944.0,300.8 944.2,302.0 944.4,299.0 944.6,299.2 944.8,300.1 945.0,299.8 945.2,301.3 945.4,300.3 945.6,302.5 945.8,302.3 946.0,301.5 946.2,300.4 946.4,301.5 946.6,301.7 946.8,299.8 947.0,301.3 947.2,301.7 947.4,301.2 947.6,302.7 947.8,302.4 948.0,300.3 948.2,301.3 948.4,300.3 948.6,301.9 948.8,300.4 949.0,302.3 949.2,301.8 949.4,302.5 949.6,301.3 949.8,300.0 950.0,303.4 950.2,301.4 950.4,303.1 950.6,302.1 950.8,302.4 951.0,303.7 951.2,302.2 951.4,303.3 951.6,300.3 951.8,302.9 952.0,301.7 952.2,301.9 952.4,302.1 952.6,302.5 952.8,303.9 953.0,300.2 953.2,302.3 953.4,301.5 953.6,303.5 953.8,301.9 954.0,302.9 954.2,302.0 954.4,303.2 954.6,303.6 954.8,302.1 955.0,302.6 955.2,301.1 955.4,303.0 955.6,303.6 955.8,302.2 956.0,304.0 956.2,300.6 956.4,300.9 956.6,301.4 956.8,302.4 957.0,303.0 957.2,303.0 957.4,303.0 957.6,303.9 957.8,302.7 958.0,301.9 958.2,301.9 958.4,305.5 958.6,300.8 958.8,303.2 959.0,304.9 959.2,303.9 959.4,302.6 959.6,303.5 959.8,304.5 960.0,304.9 960.2,302.7 960.4,304.5 960.6,304.0 960.8,304.9 961.0,305.3 961.2,303.5 961.4,302.3 961.6,304.3 961.8,305.8 962.0,304.7 962.2,304.2 962.4,306.6 962.6,303.0 962.8,305.1 963.0,303.5 963.2,304.2 963.4,304.3 963.6,305.9 963.8,303.3 964.0,303.8 964.2,302.7 964.4,304.9 964.6,303.9 964.8,304.9 965.0,303.4 965.2,304.2 965.4,305.7 965.6,304.4 965.8,305.3 966.0,305.2 966.2,304.3 966.4,303.1 966.6,305.8 966.8,305.0 967.0,305.9 967.2,302.7 967.4,303.1 967.6,302.7 967.8,304.0 968.0,306.1 968.2,305.6 968.4,305.0 968.6,305.2 968.8,305.9 969.0,304.8 969.2,305.6 969.4,305.4 969.6,302.9 969.8,304.9 970.0,306.8 970.2,304.9 970.4,305.2 970.6,304.8 970.8,304.9 971.0,306.7 971.2,305.2 971.4,304.4 971.6,302.2 971.8,305.0 972.0,303.5 972.2,303.7 972.4,306.5 972.6,306.4 972.8,303.7 973.0,306.7 973.2,306.3 973.4,305.0 973.6,306.6 973.8,304.1 974.0,304.6 974.2,304.4 974.4,304.8 974.6,306.9 974.8,304.6 975.0,304.8 975.2,305.0 975.4,306.3 975.6,305.7 975.8,307.0 976.0,305.4 976.2,304.8 976.4,305.7 976.6,306.3 976.8,305.3 977.0,306.6 977.2,308.2 977.4,305.7 977.6,306.4 977.8,307.8 978.0,305.7 978.2,305.5 978.4,305.3 978.6,306.9 978.8,307.1 979.0,306.4 979.2,306.6 979.4,307.9 979.6,307.5 979.8,305.1 980.0,306.6 980.2,306.8 980.4,307.5 980.6,306.5 980.8,306.1 981.0,306.3 981.2,304.9 981.4,306.8 981.6,306.2 981.8,307.4 982.0,305.8 982.2,306.5 982.4,305.9 982.6,305.8 982.8,307.7 983.0,306.5 983.2,307.5 983.4,305.9 983.6,307.2 983.8,305.3 984.0,306.6 984.2,306.6 984.4,307.8 984.6,307.4 984.8,307.0 985.0,308.1 985.2,307.5 985.4,307.9 985.6,308.1 985.8,307.3 986.0,307.1 986.2,307.7 986.4,307.0 986.6,307.9 986.8,308.6 987.0,308.4 987.2,307.1 987.4,306.2 987.6,307.5 987.8,307.5 988.0,308.8 988.2,307.2 988.4,307.4 988.6,308.5 988.8,307.2 989.0,307.6 989.2,309.6 989.4,309.4 989.6,308.5 989.8,308.1 990.0,306.8 990.2,308.5 990.4,308.0 990.6,308.2 990.8,307.4 991.0,308.0 991.2,307.8 991.4,308.4 991.6,309.6 991.8,308.5 992.0,306.3 992.2,307.1 992.4,306.5 992.6,307.3 992.8,308.8 993.0,308.7 993.2,307.6 993.4,308.6 993.6,307.5 993.8,306.8 994.0,306.9 994.2,307.5 994.4,309.9 994.6,307.0 994.8,309.8 995.0,309.9 995.2,308.3 995.4,308.5 995.6,307.9 995.8,308.6 996.0,309.3 996.2,308.6 996.4,309.7 996.6,309.9 996.8,309.1 997.0,309.1 997.2,308.7 997.4,309.2 997.6,307.6 997.8,309.3 998.0,309.1 998.2,308.0 998.4,311.2 998.6,307.9 998.8,308.1 999.0,309.3 999.2,307.0 999.4,308.2 999.6,307.5 999.8,308.1 1000.0,309.0 1000.2,309.5 1000.4,310.4 1000.6,310.1 1000.8,310.5 1001.0,309.9 1001.2,308.8 1001.4,310.5 1001.6,308.8 1001.8,308.7 1002.0,311.0 1002.2,310.3 1002.4,309.7 1002.6,310.3 1002.8,310.5 1003.0,308.1 1003.2,309.5 1003.4,308.4 1003.6,309.8 1003.8,309.0 1004.0,311.2 1004.2,310.3 1004.4,308.9 1004.6,309.8 1004.8,308.5 1005.0,309.9 1005.2,310.5 1005.4,310.2 1005.6,307.9 1005.8,309.6 1006.0,310.5 1006.2,310.3 1006.4,311.3 1006.6,308.7 1006.8,310.7 1007.0,309.4 1007.2,310.4 1007.4,310.6 1007.6,311.0 1007.8,309.6 1008.0,310.5 1008.2,309.1 1008.4,308.8 1008.6,311.0 1008.8,310.3 1009.0,308.7 1009.2,309.6 1009.4,310.5 1009.6,312.2 1009.8,311.7 1010.0,311.4 1010.2,308.7 1010.4,310.5 1010.6,311.2 1010.8,311.1 1011.0,311.2 1011.2,310.5 1011.4,312.7 1011.6,312.4 1011.8,310.7 1012.0,309.8 1012.2,313.1 1012.4,310.3 1012.6,312.2 1012.8,313.0 1013.0,310.0 1013.2,311.4 1013.4,310.7 1013.6,311.7 1013.8,311.5 1014.0,313.2 1014.2,311.8 1014.4,311.2 1014.6,312.5 1014.8,311.0 1015.0,310.9 1015.2,313.7 1015.4,310.5 1015.6,310.9 1015.8,311.5 1016.0,310.4 1016.2,309.3 1016.4,312.7 1016.6,310.7 1016.8,311.0 1017.0,311.2 1017.2,310.6 1017.4,310.5 1017.6,311.9 1017.8,314.3 1018.0,312.6 1018.2,312.6 1018.4,310.2 1018.6,311.9 1018.8,310.6 1019.0,312.8" fill="none" stroke="#ff00ff" stroke-width="2.2" stroke-linejoin="round"/>
<g fill="#000">
<rect x="685" y="54.7" width="1" height="489.9" fill-opacity="0.31"/>
<rect x="686" y="54.7" width="1" height="489.9" fill-opacity="0.165"/>
<rect x="687" y="54.7" width="1" height="489.9" fill-opacity="0.56"/>
<rect x="688" y="54.7" width="1" height="489.9" fill-opacity="0.28"/>
<rect x="689" y="54.7" width="1" height="489.9" fill-opacity="0.18"/>
<rect x="690" y="54.7" width="1" height="489.9" fill-opacity="0.31"/>
</g>
<rect x="108.95" y="52.95" width="952.75" height="493.40" fill="none" stroke="#000" stroke-width="3.5" stroke-linejoin="round"/>
<rect x="830.2" y="75.3" width="208.1" height="229.4" fill="#fff" stroke="#000" stroke-width="1.6"/>
<path d="M841.2,104.0H868.8" stroke="#ff40ff" stroke-width="1.6"/>
<text x="880.3" y="110.6" font-family="'Liberation Serif','Times New Roman',serif" font-size="18.9" fill="#000">Bearing assembly</text>
<path d="M841.2,161.6H868.8" stroke="#35bf77" stroke-width="1.6"/>
<text x="880.3" y="168.2" font-family="'Liberation Serif','Times New Roman',serif" font-size="18.9" fill="#000">Hydraulic chamber</text>
<path d="M841.2,218.7H868.8" stroke="#ae7650" stroke-width="1.6"/>
<text x="880.3" y="225.3" font-family="'Liberation Serif','Times New Roman',serif" font-size="18.9" fill="#000">Machine base</text>
<path d="M841.2,276.4H868.8" stroke="#40589a" stroke-width="1.6"/>
<text x="880.3" y="283.0" font-family="'Liberation Serif','Times New Roman',serif" font-size="18.9" fill="#000">Room temperature</text>
<rect x="414.95" y="463.25" width="216.70" height="35.50" rx="1.2" fill="#fff" stroke="#0f970f" stroke-width="3.9"/>
<text x="522.8" y="486.9" text-anchor="middle" font-family="'Liberation Serif','Times New Roman',serif" font-size="21.5" fill="#000">Operating state</text>
<rect x="733.85" y="463.85" width="216.70" height="35.50" rx="1.2" fill="#fff" stroke="#0f970f" stroke-width="3.9"/>
<text x="841.7" y="487.6" text-anchor="middle" font-family="'Liberation Serif','Times New Roman',serif" font-size="21.5" fill="#000">Paused state</text>
<text x="92.6" y="553.1" text-anchor="end" font-family="'Liberation Serif','Times New Roman',serif" font-size="18.7" fill="#000">20</text>
<text x="92.6" y="491.5" text-anchor="end" font-family="'Liberation Serif','Times New Roman',serif" font-size="18.7" fill="#000">22</text>
<text x="92.6" y="429.8" text-anchor="end" font-family="'Liberation Serif','Times New Roman',serif" font-size="18.7" fill="#000">24</text>
<text x="92.6" y="368.1" text-anchor="end" font-family="'Liberation Serif','Times New Roman',serif" font-size="18.7" fill="#000">26</text>
<text x="92.6" y="306.4" text-anchor="end" font-family="'Liberation Serif','Times New Roman',serif" font-size="18.7" fill="#000">28</text>
<text x="92.6" y="244.8" text-anchor="end" font-family="'Liberation Serif','Times New Roman',serif" font-size="18.7" fill="#000">30</text>
<text x="92.6" y="183.1" text-anchor="end" font-family="'Liberation Serif','Times New Roman',serif" font-size="18.7" fill="#000">32</text>
<text x="92.6" y="121.4" text-anchor="end" font-family="'Liberation Serif','Times New Roman',serif" font-size="18.7" fill="#000">34</text>
<text x="92.6" y="59.7" text-anchor="end" font-family="'Liberation Serif','Times New Roman',serif" font-size="18.7" fill="#000">36</text>
<text x="109.0" y="574.8" text-anchor="middle" font-family="'Liberation Serif','Times New Roman',serif" font-size="18.7" fill="#000">0</text>
<text x="245.1" y="574.8" text-anchor="middle" font-family="'Liberation Serif','Times New Roman',serif" font-size="18.7" fill="#000">1</text>
<text x="381.2" y="574.8" text-anchor="middle" font-family="'Liberation Serif','Times New Roman',serif" font-size="18.7" fill="#000">2</text>
<text x="517.3" y="574.8" text-anchor="middle" font-family="'Liberation Serif','Times New Roman',serif" font-size="18.7" fill="#000">3</text>
<text x="653.4" y="574.8" text-anchor="middle" font-family="'Liberation Serif','Times New Roman',serif" font-size="18.7" fill="#000">4</text>
<text x="789.5" y="574.8" text-anchor="middle" font-family="'Liberation Serif','Times New Roman',serif" font-size="18.7" fill="#000">5</text>
<text x="925.6" y="574.8" text-anchor="middle" font-family="'Liberation Serif','Times New Roman',serif" font-size="18.7" fill="#000">6</text>
<text x="1061.7" y="574.8" text-anchor="middle" font-family="'Liberation Serif','Times New Roman',serif" font-size="18.7" fill="#000">7</text>
<text x="585.3" y="600.3" text-anchor="middle" font-family="'Liberation Serif','Times New Roman',serif" font-size="18.7" fill="#000">Time [h]</text>
<text transform="translate(66.5,300.3) rotate(-90)" text-anchor="middle" font-family="'Liberation Serif','Times New Roman',serif" font-size="18.7" fill="#000">Temperature [°C]</text>
</svg>
</body></html>
